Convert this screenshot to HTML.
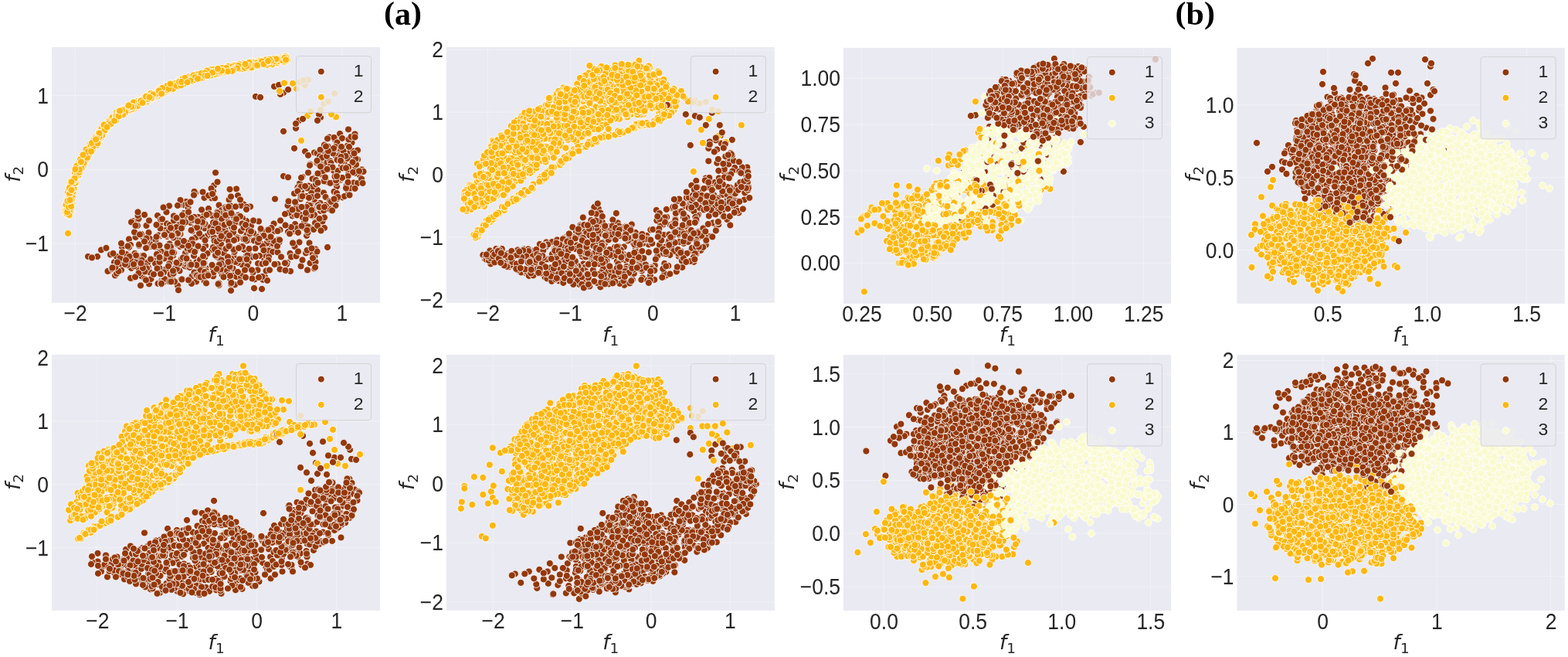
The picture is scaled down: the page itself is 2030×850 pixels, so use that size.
<!DOCTYPE html>
<html lang="en"><head><meta charset="utf-8"><title>Scatter plots</title>
<style>
html,body{margin:0;padding:0;background:#fff}
body{width:2030px;height:850px;overflow:hidden}
svg{display:block}
.bg{fill:#eaeaf2}
.grid{stroke:#fff;stroke-opacity:.35;stroke-width:1;fill:none}
.tick text{font-family:"Liberation Sans",Arial,sans-serif;font-size:26.5px;fill:#262626}
.lt{font-family:"Liberation Sans",Arial,sans-serif;font-size:23px;fill:#262626}
.lab{font-family:"DejaVu Sans",sans-serif;font-size:26.3px;fill:#262626}
.it{font-style:italic}
.sub{font-size:18.4px}
.ttl{font-family:"Liberation Serif","Times New Roman",serif;font-weight:bold;font-size:42px;fill:#000}
.leg{fill:#eaeaf2;fill-opacity:.8;stroke:#ccc;stroke-opacity:.8;stroke-width:1}
.p path{fill:none;stroke:none}
.m{stroke:#fff;stroke-width:1.7}
.lm{stroke:#fff;stroke-width:1}
.b{marker:url(#mb)}.y{marker:url(#my)}.l{marker:url(#ml)}
</style></head><body>
<svg width="2030" height="850" viewBox="0 0 2030 850">
<defs>
<marker id="mb" markerUnits="userSpaceOnUse" markerWidth="24" markerHeight="24" refX="12" refY="12" viewBox="0 0 24 24"><circle class="m" cx="12" cy="12" r="9.05" fill="#93380c"/></marker>
<marker id="my" markerUnits="userSpaceOnUse" markerWidth="24" markerHeight="24" refX="12" refY="12" viewBox="0 0 24 24"><circle class="m" cx="12" cy="12" r="9.05" fill="#fdb70f"/></marker>
<marker id="ml" markerUnits="userSpaceOnUse" markerWidth="24" markerHeight="24" refX="12" refY="12" viewBox="0 0 24 24"><circle class="m" cx="12" cy="12" r="9.05" fill="#fafad0"/></marker>
</defs>
<g class="ttl"><text transform="translate(497 29.7) scale(1 .938)">(</text><text x="511" y="32">a</text><text transform="translate(532 29.7) scale(1 .938)">)</text></g>
<g class="ttl"><text transform="translate(1521.5 29.7) scale(1 .938)">(</text><text x="1535.5" y="32">b</text><text transform="translate(1558.9 29.7) scale(1 .938)">)</text></g>
<g id="panel1">
<rect class="bg" x="67" y="60.9" width="425.1" height="330.9"/>
<path class="grid" d="M97.4 60.9V391.8M212.4 60.9V391.8M327.5 60.9V391.8M442.5 60.9V391.8M67 123.6H492.1M67 219.3H492.1M67 315H492.1"/>
<clipPath id="c0"><rect x="67" y="60.9" width="425.1" height="330.9"/></clipPath>
<g class="p" clip-path="url(#c0)"><g transform="translate(67 60.9) scale(.5)">
<path class="y" d="M329 101 152 197 111 244 314 105 634 108 265 125 132 226 296 106 176 173 76 289 314 107 231 139 586 31 296 103 406 61 524 38 224 140 399 69 72 295 308 109 53 350 123 219 600 30 230 140 570 36 326 89 43 396 511 44 210 147 120 237 285 120 463 58 43 435 416 66 243 138 265 129 211 144 87 287 87 273"/>
<path class="b" d="M770 274 739 235 287 485 206 572 651 466 226 574 333 484 437 502 628 262 628 476 398 570 669 303 718 411 298 457 275 531 395 433 394 542 641 505 772 252 493 563 376 492 472 498 415 524 279 525 313 527 372 527 498 524 591 473 460 580 182 517 775 366 283 590 333 470 274 436 625 472 768 318 788 315 773 238 372 493"/>
<path class="y" d="M52 347 169 175 308 94 195 163 77 287 496 48 601 33 88 288 298 101 176 164 187 161 101 260 403 71 174 178 410 71 45 410 72 318 289 117 102 270 434 69 554 37 50 382 281 108 135 205 297 103 117 254 154 197 530 40 179 171 408 70"/>
<path class="b" d="M680 273 684 410 310 527 239 560 379 440 369 541 254 496 513 481 700 331 772 250 665 359 624 434 196 545 615 469 623 437 427 469 327 500 768 374 418 518 306 460 645 567 524 624 600 118 200 497 334 407 792 291 420 358 237 492 576 524 463 601 746 224 630 458 256 516 433 409 704 258 269 500 483 435 348 400 247 556 251 570 758 303 773 287 568 477 785 299 326 486 414 391 787 297 468 591"/>
<path class="y" d="M134 206 255 124 481 47 73 316 607 24 42 432 380 73 59 358 559 41 459 57 122 243 453 53 57 349 429 61 355 83 374 70 546 46 212 158 327 98 215 151 93 286 450 53 584 41 428 63 115 245 520 51 73 303 343 94 736 181 604 24 315 103 300 107 535 48 63 327 472 54 88 275 62 328"/>
<path class="b" d="M252 613 483 591 696 182 436 554 439 540 394 461 636 469 296 532 280 457 336 462 234 540 671 408 612 110 213 567 233 593 189 547 628 433 444 477 482 558 328 556 565 480 417 490 669 559 394 492 468 570 730 320 629 516 373 596 251 480 585 562 549 545 558 547 201 541 493 459 615 425 470 439 286 607 713 349 750 310 397 543 642 433"/>
<path class="y" d="M72 312 54 389 50 396 129 213 87 274 370 72 491 43 128 218 301 107 276 113 80 299 202 165 477 54 325 91 370 82 70 315 656 99 296 101 392 65 217 152 604 32 123 219 141 214 150 195 598 32 64 318 242 143 177 169 216 150 78 289 394 79 337 87 512 43 216 150 39 431 543 43 338 89 82 281 219 152"/>
<path class="b" d="M340 558 680 573 152 537 577 476 347 568 363 611 545 511 459 395 703 276 467 469 395 605 296 574 342 430 274 542 215 451 579 512 458 466 782 351 696 424 551 488 695 404 418 593 212 450 489 440 372 377 393 562 315 471 332 516 398 514 482 493 458 506 217 492 313 601 618 425 428 427 399 572 162 557 708 273 680 438"/>
<path class="y" d="M53 381 40 408 310 100 36 420 351 86 472 46 114 249 40 402 724 174 557 36 662 178 164 189 50 405 336 88 397 75 88 293 51 412 571 40 84 283 46 360 448 65 140 213 499 48 61 319 69 303 670 166 402 61 189 172 260 134 127 215 428 64 177 164 47 355 375 82 416 60 436 58 180 169 358 86 41 428"/>
<path class="b" d="M719 419 418 373 741 320 479 493 375 556 381 449 562 487 527 521 470 522 781 269 777 247 565 523 552 595 282 446 304 411 422 445 280 489 164 591 350 435 667 389 771 367 746 273 765 288 172 554 468 471 654 450 266 515 484 453 294 474 168 586 180 577 390 572 706 303 576 102 449 474 325 566 403 488 474 615 479 497"/>
<path class="y" d="M410 65 54 386 276 121 427 65 222 140 181 167 157 189 71 306 62 350 432 65 126 213 38 421 45 366 247 141 529 47 387 74 543 47 439 55 132 227 453 62 253 126 60 335 318 104 366 85 167 170 165 181 552 35 405 62 401 76 296 104 310 98 435 62 45 391 534 44 217 151 129 212 253 136"/>
<path class="b" d="M736 384 798 331 684 370 270 543 738 393 260 588 585 476 426 570 464 434 735 281 415 467 740 263 230 617 437 519 536 451 363 498 464 630 552 538 803 317 344 409 403 534 774 365 489 516 681 338 149 579 256 511 230 559 797 331 614 429 611 410 413 485 719 233 433 611 440 422 612 478 702 468 560 520 376 581 617 534 406 418 297 427"/>
<path class="y" d="M583 43 545 45 536 38 447 56 404 74 436 62 344 86 329 96 47 363 480 55 36 423 61 329 475 47 115 233 50 402 53 389 576 34 521 50 92 266 505 52 52 401 82 281 132 217 487 54 581 41 274 121 109 250 515 45 539 42 642 91 49 424 40 433 395 73 392 75 546 39 277 118 495 48 290 107 512 39 182 173 185 166 208 158"/>
<path class="b" d="M363 593 369 583 616 483 687 275 497 407 738 361 534 560 429 349 704 377 672 375 756 275 705 347 784 312 713 298 658 461 642 353 469 573 542 475 399 579 369 374 514 413 374 607 736 255 236 563 340 507 437 456 478 594 769 326 729 267 446 449 289 415 696 328 674 533 344 448 381 592 680 417"/>
<path class="y" d="M459 58 153 201 363 88 74 303 68 303 51 375 38 404 148 203 311 94 568 41 598 31 60 336 451 56 96 270 262 125 129 212 512 46 68 331 70 299 603 25 336 91 263 122 63 352 309 101 499 50 276 114 157 193 453 53 278 110 576 37 347 89 88 284 482 56 132 223 664 85 274 116 45 396 213 151 93 279 704 147"/>
<path class="b" d="M753 389 511 538 353 415 468 464 785 326 634 412 695 288 464 613 272 541 346 533 331 579 667 507 516 463 504 450 528 541 389 491 733 239 206 599 568 496 458 497 658 533 274 522 737 351 436 431 215 534 470 479 532 491 618 580 328 483 792 352 766 255 572 508 396 469 662 577 356 557 444 475 494 443 656 270"/>
<path class="y" d="M76 292 600 36 547 44 606 27 154 199 97 263 86 288 536 37 279 114 584 36 209 159 40 424 108 246 50 403 449 54 606 25 357 82 122 246 570 38 413 58 471 48 86 286 83 296 515 40 345 87 42 431 51 375 284 114 53 364 457 50 506 51 195 159 214 159 153 185 150 194 326 91 276 126 548 35 79 286 121 241 520 43 123 225 571 35"/>
<path class="b" d="M545 561 604 432 176 561 223 447 478 367 266 554 692 174 385 577 257 600 620 466 501 492 498 590 592 122 382 467 428 543 340 459 680 394 465 610 305 509 695 266 783 293 226 514 688 413 538 540 337 450 718 269 693 299 758 386 449 415 771 383 424 325 496 460 423 573 446 534 306 553"/>
<path class="y" d="M256 134 420 68 515 48 137 220 393 74 241 140 383 80 410 69 236 134 49 397 48 398 509 41 535 36 173 170 600 34 42 406 520 42 304 98 404 74 192 162 472 48 214 153 119 238 122 243 83 304 74 310 128 234 431 59 162 191 43 406 551 36 555 33 446 54 37 430 356 76 387 76 646 242 250 133 44 396 436 68"/>
<path class="b" d="M443 448 382 482 397 458 413 366 750 307 493 456 461 573 430 566 449 589 204 512 725 351 426 495 94 542 688 370 158 570 247 502 457 458 316 449 319 573 490 410 411 472 665 407 505 486 640 190 548 483 273 534 331 556 238 540 344 566 504 540 433 517 173 545 433 616 481 440 422 391 576 458 205 552 683 556"/>
<path class="y" d="M138 216 249 133 533 47 46 375 51 367 53 398 126 231 138 201 377 70 355 77 144 204 505 43 87 275 605 24 268 120 126 231 602 28 55 374 600 37 80 285 37 428 430 66 338 90 87 278 85 292 508 55 175 179 358 86 348 81 98 262 87 276 116 236 282 113"/>
<path class="b" d="M509 557 548 526 435 548 330 460 683 523 241 600 471 542 254 583 807 322 471 527 432 576 690 409 415 436 561 526 763 359 334 602 301 604 354 518 314 540 650 186 664 465 512 499 533 577 249 569 676 361 229 562 308 517 577 562 214 479 455 493 490 595 735 410 488 609 204 598 283 529 227 557 368 536 307 545 706 320 168 542 505 414 330 409 709 388 316 532 687 462"/>
<path class="y" d="M107 246 263 129 505 49 203 160 141 210 371 84 467 51 339 82 412 71 112 246 368 85 453 60 213 156 137 210 118 242 393 74 439 62 141 214 50 347 126 217 49 409 200 150 280 116 209 151 341 93 270 125 408 67 49 364 112 246 206 150 439 61 241 130 203 156 569 36 510 41 262 131 170 180 40 415"/>
<path class="b" d="M493 457 384 550 226 511 353 406 681 541 664 325 221 553 748 344 565 527 359 454 323 484 581 525 458 453 284 605 770 258 660 488 668 410 473 530 646 374 346 453 713 272 688 327 461 515 454 497 308 486 726 423 244 603 333 396 196 564 145 580 369 440 173 580 233 551 243 499 676 470 613 399 687 300 663 480 364 449 448 550"/>
<path class="y" d="M423 62 132 208 394 72 443 58 399 66 408 66 81 291 580 30 450 56 41 393 422 68 362 77 573 39 167 189 350 85 212 145 269 120 208 157 40 419 74 293 538 45 398 70 471 59 84 297 136 202 99 252 46 360 320 101 559 46 101 261 56 355 409 67 52 401 78 304 74 319 385 77 63 351"/>
<path class="b" d="M346 561 299 490 687 529 291 547 353 526 268 560 307 597 304 561 276 533 504 420 198 538 420 493 392 541 373 590 702 321 532 501 441 589 476 556 330 501 367 447 587 498 694 283 391 456 444 551 494 587 575 457 245 495 156 574 357 570 675 437 471 524 411 466 522 481 637 363 364 476 762 365 520 543 689 327 721 352 635 435 700 417"/>
<path class="y" d="M91 272 324 94 122 234 330 89 392 77 579 32 40 411 344 93 134 214 538 36 494 43 64 327 296 115 472 56 491 53 495 56 114 234 428 56 255 123 411 73 42 375 716 141 248 131 374 78 485 56 88 291 404 74 455 56 47 409 312 102 180 172 403 64 204 163 473 55 126 223"/>
<path class="b" d="M751 297 279 572 787 311 326 617 525 601 248 558 341 555 337 602 741 320 221 540 684 355 328 558 362 612 369 469 275 612 641 366 636 373 165 569 588 98 118 542 463 411 660 414 278 542 490 476 632 210 375 564 320 495 559 473 683 457 678 472 507 498 445 564 316 437 277 487 418 454 302 486 650 441 325 510 731 234 497 467 752 236 754 313 376 591"/>
<path class="y" d="M108 255 382 75 392 73 120 243 48 360 307 105 358 86 305 103 145 209 539 38 380 80 126 218 201 149 248 127 286 114 195 158 607 28 578 35 147 192 67 331 329 99 360 84 187 165 83 300 566 35 487 44 380 70 57 366 391 67 126 236 44 402 44 392 211 147 300 107 300 107 419 66 48 406 278 118 499 51 353 87 193 160 46 399"/>
<path class="b" d="M452 427 528 128 407 431 351 507 600 334 644 393 335 559 351 521 739 247 452 417 610 558 292 482 104 545 788 304 232 484 337 601 396 582 748 264 289 609 464 387 557 507 281 469 620 543 361 442 540 130 680 434 439 551 339 453 358 564 524 501 647 463 434 578 185 545 393 563 456 582 731 374"/>
<path class="y" d="M259 120 199 163 324 93 129 211 40 432 343 89 48 425 230 138 601 39 540 34 508 48 237 143 50 417 208 156 417 65 249 127 310 108 48 371 431 61 135 205 360 85 57 341 215 154 208 158 348 88 115 247 157 182 46 410 395 70 93 262 473 58 340 93 294 104 166 176 37 408 288 115 102 267 269 128 60 343"/>
<path class="b" d="M269 513 661 526 555 579 728 275 780 324 361 563 787 289 256 549 218 539 338 435 323 466 632 198 748 341 673 388 465 548 395 390 395 559 639 419 359 525 701 451 452 441 338 513 406 384 661 365 552 478 222 462 243 567 440 444 664 280 391 444 390 453 286 445 246 573 721 295 482 384 417 571 547 602 591 575 676 546"/>
<path class="y" d="M583 29 381 78 57 353 418 58 173 174 343 80 142 207 392 75 166 180 146 205 542 46 230 145 215 145 132 223 166 180 572 34 103 257 92 273 564 36 590 114 422 68 46 436 343 85 212 143 324 92 257 132 435 66 48 404 97 261 108 242 609 36 223 152 119 247 602 29 424 70 308 96 149 202 122 237 115 248 436 56 149 193"/>
<path class="b" d="M307 588 241 581 421 501 200 518 767 334 284 609 769 239 438 509 290 486 688 385 326 410 359 401 439 560 315 493 710 409 494 516 447 460 775 232 734 258 461 368 326 482 433 477 458 453 225 585 714 237 453 482 381 595 693 306 752 338 193 536 336 469 753 313 326 507 264 588 592 449 561 497 385 595"/>
<path class="y" d="M571 33 98 260 175 166 89 265 256 120 248 132 96 278 526 40 491 46 342 81 301 112 597 27 77 313 45 419 174 170 610 33 493 51 97 277 610 34 51 397 583 40 208 160 545 45 355 89 115 240 148 197 283 121 69 331 389 80 73 324 384 81 411 64 499 47 402 61 226 142 440 55"/>
<path class="b" d="M313 487 292 600 128 525 284 614 688 190 309 486 668 306 159 534 715 257 700 286 739 292 419 471 281 546 456 516 401 434 247 519 605 461 304 475 438 575 226 437 671 435 424 539 558 493 660 435 206 453 429 429 706 468 720 398 410 479 333 556 779 298 465 464 646 361 446 495 755 269 424 456 271 460 279 513 342 502 400 611 368 383 419 583"/>
<path class="y" d="M295 102 45 434 607 34 282 107 316 94 602 39 72 319 332 95 483 48 127 226 596 30 105 266 139 217 583 40 285 113 47 420 44 368 325 99 139 215 394 73 288 106 307 109 252 131 600 28 240 137 602 93 49 399 263 128 166 185 453 60 230 138 200 157 509 52 122 233 732 120 67 316 418 65"/>
<path class="b" d="M507 539 324 574 463 423 513 483 558 604 510 474 491 549 761 282 649 551 563 527 628 379 302 567 682 455 368 540 290 583 578 393 549 488 454 579 630 401 572 530 458 502 768 310 723 400 546 515 736 345 245 462 141 520 292 486 675 341 376 467 623 421 177 546 298 535 475 453 354 603 657 445 305 607 434 563 658 429 486 549 684 344"/>
<path class="y" d="M312 96 586 36 310 105 421 65 48 375 42 482 431 68 541 36 129 221 565 33 60 322 346 93 65 307 443 62 95 281 74 291 530 41 101 255 280 119 267 127 97 268 60 326 423 62 61 351 449 59 570 45 330 88 367 73 40 427 271 124 145 207 205 156 64 330 59 346 433 65 605 36 576 30 508 51 44 413 387 68 56 346"/>
<path class="b" d="M422 523 704 423 318 607 738 378 785 366 484 520 488 438 541 470 589 505 608 562 712 282 637 373 714 518 241 434 427 574 569 468 461 568 730 262 311 488 561 473 785 225 450 435 309 607 649 336 240 434 645 386 354 427 391 375 749 284 562 543 388 421 225 444 723 300 716 316 170 557 365 509 463 554"/>
<path class="y" d="M137 215 538 43 296 103 371 78 272 121 524 51 564 43 483 48 441 54 190 169 577 36 607 27 145 204 66 318 43 400 177 165 43 403 158 193 306 106 62 335 480 55 562 38 71 324 46 380 54 345 327 99 456 59 452 54 283 116 92 286 326 102"/>
<path class="b" d="M460 456 330 560 506 567 792 267 783 275 273 573 688 462 182 531 472 467 458 413 404 588 217 462 197 515 521 583 336 548 692 414 633 541 544 626 456 543 457 590 392 522 720 310 244 520 265 516 460 487 673 422 427 503 427 435 354 514 750 258 328 629 741 388 361 474 733 335 585 531 646 338 445 595 660 386 624 507 697 475 500 577 451 522 706 253 511 522 762 313 436 496 576 502"/>
<path class="y" d="M599 30 93 271 439 66 604 37 522 47 184 175 135 201 108 256 314 108 102 270 696 162 130 229 117 236 431 56 119 249 532 49 241 129 397 67 153 199 57 340 44 414 176 168 237 141 596 34 340 81 300 103 323 100 444 62 258 125 345 80 299 111 259 132 230 145 562 37 500 54 378 82 438 64 584 31 299 100 59 340 604 30 125 226 544 37 606 33 104 248"/>
<path class="b" d="M647 414 190 562 396 593 600 218 519 599 223 436 689 351 476 413 545 594 457 556 767 350 299 516 468 435 561 551 312 531 478 445 661 474 796 321 687 294 488 395 252 449 584 515 240 503 323 558 708 337 212 562 567 491 534 505 216 595 465 430 594 543 430 532 315 586"/>
<path class="y" d="M122 222 123 233 43 395 470 59 397 74 517 53 75 299 46 364 210 155 528 47 285 106 50 412 467 62 206 154 76 297 603 28 173 179 182 163 343 95 334 99 274 120 508 41 532 47 231 139 549 44 262 123 416 66 606 33 456 63 652 86 52 370 51 349 162 191 51 370 511 40 581 31 624 94 285 118 568 35"/>
<path class="b" d="M308 468 379 515 459 515 528 542 314 579 505 549 802 341 340 545 518 577 272 536 416 380 805 352 554 559 279 556 716 269 537 496 201 542 236 572 502 596 673 521 439 489 501 501 549 526 693 414 228 485 472 500 502 460 768 213 696 309 638 529 522 449 271 491 192 551 710 257 738 334 727 311 649 386 706 441 748 294"/>
<path class="y" d="M303 108 235 144 46 397 72 317 257 132 51 395 123 223 143 207 245 126 119 249 286 106 199 151 81 279 278 113 41 398 47 396 440 61 117 237 330 90 509 48 250 134 244 128 564 32 403 74 307 95 253 130 182 163 430 56 176 165 505 49 61 316 359 87 560 36 336 90 501 44 114 239 351 91 284 121"/>
<path class="b" d="M516 477 393 559 370 530 656 360 666 390 279 544 682 570 283 588 415 564 405 591 431 470 497 497 431 613 482 582 706 414 416 478 378 451 349 547 536 596 693 444 231 559 282 587 713 316 505 501 157 571 731 393 590 499 564 577 605 578 462 592 638 480 785 233 604 559 284 612 323 442 501 497 612 337 397 500 223 427 180 508"/>
</g></g>
<rect class="leg" x="383.5" y="72.6" width="97" height="73.1" rx="3.5"/>
<circle class="lm" cx="415.8" cy="92.6" r="4.45" fill="#93380c"/>
<text class="lt" transform="translate(457.8 98.5) scale(1 .96)">1</text>
<circle class="lm" cx="415.8" cy="125.7" r="4.45" fill="#fdb70f"/>
<text class="lt" transform="translate(457.8 131.6) scale(1 .96)">2</text>
<g class="tick" text-anchor="middle">
<text transform="translate(97.7 415.3) scale(1 1.085)">−2</text>
<text transform="translate(212.8 415.3) scale(1 1.085)">−1</text>
<text transform="translate(327.8 415.3) scale(1 1.085)">0</text>
<text transform="translate(442.8 415.3) scale(1 1.085)">1</text>
</g>
<g class="tick" text-anchor="end">
<text transform="translate(63.1 133.6) scale(1 1.085)">1</text>
<text transform="translate(63.1 229.3) scale(1 1.085)">0</text>
<text transform="translate(63.1 325) scale(1 1.085)">−1</text>
</g>
<text class="lab" text-anchor="middle" x="280.1" y="442.4"><tspan class="it">f</tspan><tspan class="sub" dy="4.6">1</tspan></text>
<text class="lab" text-anchor="middle" transform="translate(25.6 225.2) rotate(-90)"><tspan class="it">f</tspan><tspan class="sub" dy="4.6">2</tspan></text>
</g>
<g id="panel2">
<rect class="bg" x="577.8" y="60.9" width="425.1" height="330.9"/>
<path class="grid" d="M631.6 60.9V391.8M738.3 60.9V391.8M845 60.9V391.8M951.7 60.9V391.8M577.8 64.4H1002.9M577.8 145.2H1002.9M577.8 226H1002.9M577.8 306.8H1002.9M577.8 387.6H1002.9"/>
<clipPath id="c1"><rect x="577.8" y="60.9" width="425.1" height="330.9"/></clipPath>
<g class="p" clip-path="url(#c1)"><g transform="translate(577.8 60.9) scale(.5)">
<path class="y" d="M186 252 156 365 511 158 183 232 354 140 127 356 229 247 60 359 272 214 415 103 189 330 104 281 247 342 125 264 435 138 205 269 437 47 340 230 103 460 244 227 213 294 127 334 578 134 206 189 497 205 497 197 56 398 632 138 387 160 181 391 305 286 175 257 80 359 182 190 447 223 79 402 332 159 449 144 444 66 475 46 563 103 374 119 219 277 334 214 317 129 460 55 226 296 296 179 118 262 384 202 556 123 508 136"/>
<path class="b" d="M394 533 727 390 747 312 736 397 306 556 376 544 506 505 206 585 580 460 712 249 723 328 371 506 690 350 465 552 407 544 430 585 435 523 715 382 602 486 466 485 490 519 571 440 565 594 346 474 399 443 379 504 710 229 540 565 381 469 659 526 448 536 687 412 547 540 529 473 100 548 243 558 641 556 255 512 367 480 586 417 487 579 325 544 718 321 644 178"/>
<path class="y" d="M330 265 454 120 451 93 51 377 180 239 200 253 462 60 498 200 80 349 209 374 155 289 334 128 400 57 344 103 408 119 490 133 166 325 278 155 502 169 365 70 576 178 501 102 483 165 467 91 123 444 55 409 122 439 380 244 129 271 456 75 167 353 99 362 179 396 407 235 224 360 204 244 167 399 388 94 514 168 259 184 764 202 148 418 531 101 527 52 281 129 543 192 401 231 366 203 355 133 330 214 304 121 110 369 378 209 104 355 81 491 306 126 155 411 293 302"/>
<path class="b" d="M444 455 487 537 687 397 248 559 194 583 619 411 459 485 700 464 158 556 294 519 149 534 625 383 355 561 415 472 496 552 379 536 416 562 435 581 352 542 719 371 479 586 740 240 346 482 565 560 728 299 162 569 360 621 575 504 347 523 600 427 672 339 717 439 282 560 414 525 672 512 714 425 663 399 741 321"/>
<path class="y" d="M185 242 465 111 175 242 84 343 165 220 120 242 319 109 76 369 573 159 201 304 198 300 502 116 582 122 255 214 510 174 415 164 225 305 177 311 218 247 52 370 464 85 187 387 139 266 98 461 391 186 125 443 183 270 166 288 125 308 337 113 417 104 169 343 260 186 316 151 241 283 199 203 337 228 511 96 510 203 448 174 451 168 206 277 260 205 300 204 526 71 532 132 427 92 397 189 205 235 423 87 576 149 402 144 551 97 312 127 549 63 245 232 503 163 323 144 303 105 315 217 157 364 423 128"/>
<path class="b" d="M480 459 605 527 95 538 319 520 524 531 314 511 176 567 602 542 274 536 462 490 654 492 460 517 508 597 296 545 736 274 553 489 627 481 692 428 442 483 529 501 741 366 499 487 303 566 606 474 652 478 622 481 615 508 433 585 235 570 347 461 647 535 561 444 757 429 755 358"/>
<path class="y" d="M368 100 247 339 104 347 533 158 530 76 211 285 466 119 76 493 644 138 550 116 386 204 424 228 117 380 285 141 468 139 345 211 380 97 413 123 412 88 109 371 137 357 151 309 359 121 378 243 386 198 89 411 456 115 196 226 108 379 324 142 147 241 443 116 48 375 363 133 303 298 262 198 448 152 488 209 282 240 313 111 471 97 282 213 172 297 369 71 346 256 324 231 158 334 466 132 225 318 278 220 254 153 227 285 570 173 85 410 380 78 409 165 538 199 500 197"/>
<path class="b" d="M646 515 255 595 628 416 282 579 491 505 669 493 421 465 731 303 136 552 596 581 416 553 291 605 568 517 490 536 295 554 363 566 295 575 604 472 609 470 398 585 380 515 487 545 727 367 381 534 436 518 286 544 328 554 649 523 492 530 701 401 300 593 588 456 323 522 438 498 423 535 231 586 271 585 435 471"/>
<path class="y" d="M596 139 381 172 191 219 120 446 472 47 399 117 269 256 516 127 357 158 151 301 203 370 74 392 195 179 526 125 243 242 440 78 181 346 542 194 256 337 317 287 164 319 522 65 403 149 189 291 305 141 549 88 384 172 514 54 259 295 167 353 445 151 462 71 531 89 164 269 314 213 374 212 351 184 514 113 87 480 445 150 162 293 512 141 479 166 497 60 391 190 116 302 181 398 159 254 230 220 335 269 401 50 241 180 312 282 369 67 272 195 255 330 536 199 297 242 155 409 116 351 123 268"/>
<path class="b" d="M337 493 229 588 608 529 754 357 552 512 561 460 102 544 571 590 410 508 566 532 115 561 693 383 727 381 279 521 379 550 354 441 763 366 393 478 504 544 465 464 201 523 104 550 688 170 696 362 604 504 480 546 524 511 413 581 716 412 461 537 617 487 214 554 280 522 609 551 312 597"/>
<path class="y" d="M232 189 515 120 87 393 229 263 140 242 502 203 489 207 169 305 170 351 543 120 244 341 315 280 214 306 401 187 77 411 272 161 413 227 148 231 392 105 151 415 129 336 390 195 160 300 315 240 514 138 539 190 437 148 178 284 223 284 448 186 368 105 394 63 116 256 559 147 351 256 140 346 160 312 223 167 373 144 220 210 548 122 400 165 251 156 423 97 258 150 310 184 141 247 329 135 551 169 106 285 554 164 487 210 156 251 457 219 114 314 204 318 142 325"/>
<path class="b" d="M259 505 421 540 289 514 317 526 623 556 733 339 726 399 346 587 467 541 484 508 366 509 772 395 400 473 314 489 708 202 583 518 535 472 698 241 779 311 506 579 777 333 783 362 633 527 363 608 483 571 406 573 363 511 149 559 727 446 664 369 502 536 424 468 484 498 636 520 113 527 575 566 349 608 136 556 407 480"/>
<path class="y" d="M162 234 212 218 297 248 306 161 368 110 282 175 193 185 498 125 144 414 355 118 224 366 704 166 450 152 165 346 214 237 204 306 417 230 453 164 251 265 153 259 204 316 280 220 438 69 200 337 416 231 249 228 363 127 242 158 114 452 505 102 218 288 277 239 447 219 210 254 117 350 415 99 96 302 462 142 317 182 448 155 307 213 656 146 503 79 482 87 55 405 265 260 137 351 480 154 349 121 271 239 196 272 204 294 83 411 253 274 295 305 191 238 209 314 476 111 163 225 460 132"/>
<path class="b" d="M389 458 681 338 593 445 496 497 200 528 460 467 349 535 362 585 110 552 653 434 650 436 394 418 307 532 399 429 467 568 361 607 413 499 227 527 635 384 330 573 482 602 542 549 185 529 170 558 611 570 626 494 683 490 144 536 301 518 539 602 752 398 690 455 689 491 486 586 623 534 415 492"/>
<path class="y" d="M589 108 640 142 489 42 348 80 219 226 385 88 363 84 473 107 573 127 492 152 369 89 498 66 116 362 510 84 608 114 110 446 53 424 500 202 199 184 95 464 559 145 275 313 104 449 286 161 388 92 336 189 527 116 724 246 416 201 185 261 145 359 335 179 488 58 310 188 177 290 505 126 168 215 98 412 202 191 76 366 595 132 234 241 565 169 433 155 478 174 470 171 254 164 413 78 535 75 470 171 437 105 132 367 306 204 180 249 450 70 216 316 117 371 215 373 306 132 546 140 245 196 407 128 169 267"/>
<path class="b" d="M647 495 780 350 764 319 644 534 107 540 688 365 316 493 450 522 769 320 493 547 766 311 245 518 129 522 737 404 261 599 742 384 612 405 121 532 359 478 554 463 635 496 490 480 719 438 300 529 703 391 671 390 323 511 390 491 759 322 335 594 532 570 370 561 722 251"/>
<path class="y" d="M202 236 200 383 588 164 407 154 61 356 166 287 178 339 553 112 396 145 380 241 296 112 309 107 270 214 158 227 370 205 68 372 369 246 168 241 175 393 200 288 48 388 64 357 417 79 293 183 514 92 89 304 140 374 518 140 120 446 178 398 199 205 171 288 576 172 564 117 123 347 274 202 341 188 88 397 445 140 407 195 283 228 373 119 485 207 266 165 464 49 527 105 441 181 409 146 273 271 433 56 479 207 560 94 131 384 338 120 263 149 359 167 233 183 395 107 188 195"/>
<path class="b" d="M419 582 473 579 208 582 705 459 665 469 273 606 354 500 585 463 501 574 289 588 679 262 147 536 631 401 384 517 487 489 272 574 201 543 402 483 565 586 369 591 648 505 328 592 623 441 385 532 199 532 519 488 505 602 684 413 680 437 626 504 420 499 647 346 477 470 521 604 334 491 734 363 599 525"/>
<path class="y" d="M508 65 383 57 493 105 428 182 506 140 149 375 562 109 268 263 286 121 443 223 448 225 406 119 249 289 84 372 626 141 246 335 271 198 397 188 139 429 387 122 234 170 499 88 640 322 339 147 76 406 131 336 409 111 483 204 505 96 218 310 401 132 250 217 455 128 107 453 433 163 433 153 142 372 529 84 425 167 498 150 160 359 352 161 529 144 377 251 184 386 553 191 442 131 436 126 130 301 382 174 558 113 291 114 86 472 255 237 483 53 433 103 138 257"/>
<path class="b" d="M282 525 599 398 136 524 551 470 258 512 509 508 265 578 431 532 411 486 258 517 650 380 265 549 446 517 393 505 140 546 446 575 166 564 469 574 280 549 458 545 661 384 336 476 594 430 356 588 566 441 701 395 470 548 609 425 121 547 461 616 346 493 375 448 344 614 763 326 700 404 431 447 274 504 357 497 485 576"/>
<path class="y" d="M229 213 136 313 407 183 150 422 533 141 278 311 247 344 443 74 215 259 90 475 564 154 188 276 243 225 121 280 277 245 588 166 151 380 375 210 493 49 672 142 589 163 200 196 152 346 339 95 500 148 86 481 343 235 288 197 468 182 377 73 465 110 64 420 318 115 560 138 108 390 78 367 398 165 183 391 453 159 408 152 583 163 119 390 411 114 391 84 267 258 172 247 49 397 374 87 150 240 244 223 136 431 248 167 113 389"/>
<path class="b" d="M376 545 399 621 348 509 733 288 728 362 406 459 684 386 507 563 127 544 324 518 248 543 390 610 212 523 283 518 220 576 780 350 312 550 359 570 421 603 344 569 360 579 395 561 561 574 737 329 229 566 773 377 467 483 490 489 677 395 466 574 291 558 263 511 566 536 600 534 326 558 209 554 450 488 287 499 544 527 703 412 361 514 735 461 242 529"/>
<path class="y" d="M164 231 149 261 288 154 473 122 319 177 183 262 294 255 491 200 585 132 140 291 195 329 205 315 260 172 124 303 267 138 384 117 704 230 401 101 259 329 353 109 211 374 524 49 143 321 65 359 505 198 80 482 483 77 505 174 475 81 122 245 396 150 458 221 299 125 104 371 490 44 473 68 210 214 508 87 143 310 47 383 260 284 146 248 235 222 336 231 94 407 547 183 469 81 227 178 422 66 527 107 142 263 396 151 325 183 407 106 278 156"/>
<path class="b" d="M447 463 532 573 352 604 303 495 348 517 781 370 506 548 260 549 308 586 296 507 348 464 587 414 395 536 394 546 114 546 620 463 334 495 630 396 744 294 470 501 697 411 183 531 125 557 301 604 377 556 766 353 696 350 478 540 213 528 566 453 376 584 592 506 415 551 648 449 670 490 686 422 388 547 171 556 283 601 559 596 317 579"/>
<path class="y" d="M93 296 162 309 146 367 354 205 588 128 208 183 96 460 191 226 173 392 128 299 316 159 397 106 499 35 90 358 391 160 225 355 481 160 588 131 464 48 364 120 386 119 245 348 216 187 336 150 365 254 565 181 233 275 197 269 215 205 330 160 426 113 117 257 466 79 297 120 582 164 92 393 135 354 535 117 261 199 205 219 337 245 360 226 511 197 355 130 214 262 183 312 199 198 491 97 309 261 258 257 552 134"/>
<path class="b" d="M610 553 507 484 516 563 285 544 240 542 305 502 518 499 349 577 706 339 302 497 272 548 318 580 386 487 271 571 638 484 252 545 562 534 161 534 413 542 357 460 614 440 614 503 218 587 603 393 224 541 686 382 251 526 563 486 159 544 577 501 635 420 401 583 303 513 311 588 423 524 210 584 729 418 588 483 451 471 702 453 635 397 214 592 734 393 402 507 411 555"/>
<path class="y" d="M487 71 261 287 503 203 125 255 329 194 293 241 217 326 316 195 516 201 213 315 251 180 521 56 102 459 470 160 170 241 539 95 541 157 229 231 233 313 259 337 570 98 375 155 358 259 272 172 126 438 234 177 243 295 189 336 100 345 516 157 144 275 80 302 178 273 374 199 350 126 446 92 165 352 139 309 220 281 292 172 377 183 208 325 347 190 324 112 430 73 378 128 550 126 221 362 509 122 520 198 391 212 254 218 164 339 269 223 442 103 307 141 500 59 260 259 312 221 151 267"/>
<path class="b" d="M400 461 338 513 617 458 231 556 429 479 273 585 782 365 199 541 748 379 182 561 505 574 404 453 303 610 271 593 425 488 756 370 165 536 452 525 665 518 345 483 228 576 614 546 485 549 324 604 393 475 306 549 311 586 539 578 479 568 341 567 431 579 698 475 318 590 144 522 487 543 390 496"/>
<path class="y" d="M437 143 529 143 141 274 411 95 440 113 366 91 95 403 660 214 268 131 193 286 132 294 291 248 127 345 473 62 374 112 581 112 303 225 336 170 298 121 469 181 324 274 284 264 430 121 145 239 71 379 387 155 190 325 87 473 263 217 427 61 180 267 597 127 96 462 484 206 372 173 284 235 338 108 145 350 316 180 116 266 485 135 51 382 127 305 492 170 581 125 581 151 591 118 249 261 101 329 507 169 351 117 506 69 495 175 408 70 247 166 56 407 375 164 404 202"/>
<path class="b" d="M429 607 461 602 593 448 467 496 589 528 406 517 427 591 656 416 569 567 364 590 106 541 381 514 347 591 528 591 403 514 618 445 383 414 368 530 285 518 421 613 334 522 718 405 349 511 522 497 641 425 744 411 713 364 518 571 312 505 577 512 734 374 361 543 392 405 319 518 165 538 673 500 340 604 471 493"/>
<path class="y" d="M355 90 330 239 247 181 457 113 543 155 106 399 131 270 489 46 265 321 172 360 225 234 422 121 512 167 111 378 519 196 483 115 571 172 206 245 243 238 563 123 443 115 171 399 119 288 259 325 266 172 418 174 540 73 322 121 544 188 254 278 502 68 133 371 525 201 63 407 257 297 126 353 188 382 224 255 558 86 583 170 383 106 454 91 400 70 151 415 469 155 306 186 435 164 361 181 171 307 550 184 437 226 392 89 518 102 127 359 457 46 159 403 330 167 367 223"/>
<path class="b" d="M511 546 428 485 244 586 607 483 342 479 533 508 314 520 678 458 747 398 720 316 371 536 761 350 622 390 427 576 359 531 104 537 389 468 442 554 612 461 515 497 715 373 363 481 360 533 529 499 316 527 333 566 375 469 333 573 437 481 561 523 185 525 121 541 734 401 289 520 371 559 646 408 628 389 371 487"/>
<path class="y" d="M92 326 96 291 312 117 569 177 455 80 87 326 90 360 63 403 469 154 254 334 551 150 300 299 494 168 546 99 189 388 385 103 437 130 328 149 133 240 360 73 473 77 351 80 90 365 203 170 534 129 482 79 569 173 407 158 155 269 84 481 548 183 362 257 335 272 399 140 376 136 122 368 363 116 243 344 182 257 466 154 277 254 447 94 117 440 688 162 158 336 374 214 294 119 442 115 505 115 162 350 270 266 193 346"/>
<path class="b" d="M749 411 410 468 453 549 334 554 242 510 354 494 244 585 550 481 380 559 701 265 679 252 442 517 557 500 465 473 368 597 351 595 278 573 458 599 720 337 309 555 657 394 389 459 449 612 747 402 249 540 635 415 286 598 640 544 138 526 682 245 361 532 233 524 628 458 316 549 544 422 487 511 169 528 327 466 459 605 667 421 379 498 448 593 259 586 632 554"/>
<path class="y" d="M286 206 472 127 394 57 253 342 376 166 187 391 218 247 481 163 235 240 56 379 213 286 486 88 242 341 313 204 416 183 142 229 132 336 343 261 450 53 140 255 120 382 511 139 273 311 221 283 182 391 53 419 437 227 563 84 307 174 371 48 238 251 400 157 403 235 107 335 544 136 406 174 101 384 412 68 144 365 388 133 245 230 241 347 391 88 526 74 299 299 492 161 158 369 197 381 195 208 272 326 374 207 264 169 405 233 489 147 168 329 343 110 457 99 415 201"/>
<path class="b" d="M365 587 682 252 600 524 754 424 217 552 370 470 592 413 663 483 579 538 701 300 759 400 394 588 498 544 474 538 528 603 661 488 125 536 467 466 396 450 679 363 383 606 771 347 178 540 293 511 698 401 694 271 225 591 324 520 207 541 219 570 184 577 686 400 313 503 463 580 487 532 151 538 204 575 621 556"/>
<path class="y" d="M241 348 255 339 354 105 105 356 383 212 453 86 362 258 572 178 236 228 116 300 306 285 124 438 110 339 224 259 503 74 254 286 233 267 373 206 151 414 371 145 162 293 475 212 503 51 286 183 394 64 506 200 297 295 179 300 390 116 323 137 468 175 134 369 183 293 46 392 184 394 364 190 594 153 287 134 561 93 83 333 294 130 441 113 223 171 351 232 216 319 95 304 491 112 368 172 113 373 226 167 309 127 281 239 429 154 182 332 116 395 504 198 493 125 397 235 534 104 122 389 471 46"/>
<path class="b" d="M181 574 409 596 342 471 545 449 195 544 716 355 430 463 785 390 235 536 585 493 601 483 585 464 405 558 643 549 615 483 524 610 366 534 593 457 635 358 440 590 337 577 414 485 299 585 688 370 233 551 645 440 257 569 698 235 285 507 355 503 638 384 701 356 183 538 656 182 705 361"/>
<path class="y" d="M261 213 569 103 323 233 82 474 175 223 109 358 556 145 454 44 397 60 238 161 109 392 616 130 171 301 559 137 278 249 365 195 591 141 212 373 518 55 128 369 460 165 332 112 157 267 449 138 389 82 199 334 160 312 346 80 503 99 382 83 406 93 228 227 528 95 254 330 536 107 208 289 341 258 215 285 528 151 63 365 119 282 448 132 135 327 181 394 325 183 255 291"/>
<path class="b" d="M703 407 781 324 388 432 779 341 304 568 642 369 404 438 371 619 437 581 500 567 318 483 758 297 675 385 167 545 241 541 704 422 647 446 634 474 618 489 718 261 598 569 430 541 388 520 477 474 507 528 387 449 134 528 425 538 352 500 734 438 423 567 679 295 650 362 690 389 465 485 216 553 473 584 438 468 401 609 620 174 445 561 322 506 577 485 481 572 670 345 704 290 312 540 708 347 408 589 329 614"/>
<path class="y" d="M477 105 223 286 613 127 202 215 126 385 402 159 274 167 439 138 98 281 333 269 133 428 271 262 420 232 102 461 483 64 143 312 294 216 339 138 549 152 495 50 236 288 245 257 564 161 249 274 218 179 238 212 418 110 597 124 425 119 122 392 182 299 481 208 499 163 78 483 108 330 293 156 338 270 310 289 389 246 336 131 296 122 505 152 122 354 204 292 207 231 488 79 403 86 168 204 158 220 71 486 450 217 223 245 336 221 439 185 680 186 331 206 434 63 174 224 432 81 430 184 549 156 560 175 425 190 401 93 356 88"/>
<path class="b" d="M732 339 442 572 459 588 199 526 239 546 569 535 529 580 351 614 434 596 646 517 704 452 356 623 446 582 632 495 380 486 492 507 723 283 437 607 494 571 368 614 712 402 327 544 136 547 310 594 705 320 740 280 446 541 651 481 448 473 614 431 630 455"/>
<path class="y" d="M87 332 537 71 533 125 439 144 368 188 76 392 286 173 312 235 69 361 162 260 419 163 381 193 465 174 559 184 112 443 297 225 278 286 366 216 368 169 577 177 440 145 194 378 554 131 287 217 429 72 437 54 514 129 265 214 78 482 159 406 348 195 336 222 342 224 379 72 522 107 252 268 185 305 187 332 310 159 176 195 415 53 91 379 198 329 366 252 170 325 466 77 213 173 357 128 369 224 401 81 576 133 292 223 339 270 106 272 420 212 91 339 446 132"/>
<path class="b" d="M679 350 475 611 639 392 706 426 306 598 782 334 654 517 644 387 672 202 380 577 632 254 363 517 441 539 320 587 344 587 462 594 579 587 569 530 548 491 219 585 671 477 411 463 445 484 457 541 401 593 671 404 503 500 345 516 283 531 572 150 281 527 646 383 323 567 194 555 440 430 712 416 376 429 415 532 738 277"/>
<path class="y" d="M549 188 144 233 535 200 135 360 407 78 145 306 386 244 221 364 400 209 122 439 468 121 343 269 135 276 251 225 128 380 77 332 127 251 524 128 102 302 289 205 409 88 141 301 482 209 246 215 586 113 563 154 333 142 135 429 278 205 403 164 394 213 538 108 513 165 357 100 189 271 90 335 472 150 223 206 384 238 148 312 183 208 436 126 394 174 150 326 210 242 119 318 421 134 507 197 215 165 327 276 359 224 445 217 308 229 101 338 236 196 442 85 471 92 207 271 92 474 172 318 319 216 286 271"/>
<path class="b" d="M552 445 292 528 189 529 452 534 717 302 453 544 401 549 506 500 449 569 776 365 768 419 366 588 368 562 644 454 384 587 607 532 324 561 552 430 212 558 336 579 445 529 242 574 157 568 764 362 622 375 591 479 150 565 282 562 252 514 192 572 641 482 365 506 463 495 734 371"/>
<path class="y" d="M471 216 450 132 197 264 86 309 557 152 427 138 234 305 125 376 129 433 125 262 390 61 88 328 73 414 43 420 148 383 117 272 266 132 96 336 499 144 75 488 145 275 628 194 192 235 543 134 417 176 366 127 227 203 126 259 449 220 440 162 436 143 370 119 174 209 229 190 109 447 367 222 354 170 423 140 205 208 664 248 443 75 564 174 551 67 174 328 312 108 397 120 292 144 428 137 245 180"/>
<path class="b" d="M674 418 649 509 586 488 239 584 581 492 216 556 547 438 411 613 593 479 346 529 507 492 384 562 667 366 570 420 501 511 431 611 320 605 220 576 714 221 397 524 741 405 380 452 366 461 482 556 412 488 746 428 697 433 142 533 479 605 250 514 141 558 730 279 648 363 297 535 590 394"/>
</g></g>
<rect class="leg" x="894.3" y="72.6" width="97" height="73.1" rx="3.5"/>
<circle class="lm" cx="926.6" cy="92.6" r="4.45" fill="#93380c"/>
<text class="lt" transform="translate(968.6 98.5) scale(1 .96)">1</text>
<circle class="lm" cx="926.6" cy="125.7" r="4.45" fill="#fdb70f"/>
<text class="lt" transform="translate(968.6 131.6) scale(1 .96)">2</text>
<g class="tick" text-anchor="middle">
<text transform="translate(631.9 415.3) scale(1 1.085)">−2</text>
<text transform="translate(738.6 415.3) scale(1 1.085)">−1</text>
<text transform="translate(845.3 415.3) scale(1 1.085)">0</text>
<text transform="translate(952 415.3) scale(1 1.085)">1</text>
</g>
<g class="tick" text-anchor="end">
<text transform="translate(573.9 74.4) scale(1 1.085)">2</text>
<text transform="translate(573.9 155.2) scale(1 1.085)">1</text>
<text transform="translate(573.9 236) scale(1 1.085)">0</text>
<text transform="translate(573.9 316.8) scale(1 1.085)">−1</text>
<text transform="translate(573.9 397.6) scale(1 1.085)">−2</text>
</g>
<text class="lab" text-anchor="middle" x="790.8" y="442.4"><tspan class="it">f</tspan><tspan class="sub" dy="4.6">1</tspan></text>
<text class="lab" text-anchor="middle" transform="translate(536.4 225.2) rotate(-90)"><tspan class="it">f</tspan><tspan class="sub" dy="4.6">2</tspan></text>
</g>
<g id="panel3">
<rect class="bg" x="1091.9" y="61.9" width="424.2" height="330.9"/>
<path class="grid" d="M1115.6 61.9V392.8M1206.8 61.9V392.8M1298 61.9V392.8M1389.2 61.9V392.8M1480.4 61.9V392.8M1091.9 101.3H1516.1M1091.9 161.1H1516.1M1091.9 220.8H1516.1M1091.9 280.6H1516.1M1091.9 340.3H1516.1"/>
<clipPath id="c2"><rect x="1091.9" y="61.9" width="424.2" height="330.9"/></clipPath>
<g class="p" clip-path="url(#c2)"><g transform="translate(1091.9 61.9) scale(.5)">
<path class="y" d="M265 403 112 408 342 385 311 486 303 348 354 435 299 413 182 445 340 449 418 439 209 468 389 381 292 427 267 502 177 492 331 434 423 417 158 406 69 420 149 508 140 518 417 288 242 464 293 400 169 469 246 402 258 412 366 421 232 392 167 401 334 405 343 272 184 489 372 402"/>
<path class="b" d="M400 154 373 140 428 322 482 197 606 55 449 71 502 102 615 150 494 142 412 82 528 223 453 168 555 152 321 317 522 74 480 323 555 194 432 117 362 334 392 245 502 73 412 146 484 214 515 55 586 183 500 55 475 68 494 244 535 220 552 215 421 135 486 102 430 86 511 87 514 245 595 67 523 124 510 252 620 103 595 162 492 266 565 157 515 82"/>
<path class="l" d="M582 296 582 296"/>
<path class="y" d="M189 530 419 315 152 439 406 494 505 333 483 276 166 461 183 499 251 441 238 518 294 365 144 452 166 418 383 385 146 530 341 432 62 460 222 454 535 365 149 428 288 404 389 393 285 336 37 478 213 418 198 471 244 468 184 544 119 463 304 288 244 419 298 483 176 498 166 424 306 274"/>
<path class="b" d="M592 62 378 291 624 112 374 296 446 139 333 314 446 288 601 200 558 192 444 177 632 85 543 80 505 72 492 243 365 316 534 147 378 204 581 162 498 231 430 264 627 120 426 101 412 176 497 147 642 124 463 124 464 185 499 217 594 163 318 324 397 111 454 93 398 116 397 151 574 128 552 63 534 204 491 150 446 326 571 42 469 114"/>
<path class="l" d="M366 126 170 400 242 318"/>
<path class="y" d="M214 379 202 490 308 420 408 391 352 327 51 437 251 349 385 472 243 534 306 361 210 396 381 417 488 257 471 326 152 503 179 555 269 427 121 490 140 531 461 390 141 404 326 441 365 290 365 430 418 451 227 521 407 298 507 331 301 360 242 504 432 442"/>
<path class="b" d="M477 174 566 182 500 48 504 218 508 247 427 268 418 261 600 68 513 96 493 142 557 138 511 235 517 80 455 75 570 320 402 159 416 88 420 119 493 147 590 192 416 212 500 245 448 152 597 79 545 48 483 209 348 293 634 106 542 80 486 242 442 102 592 194 452 197 416 99 518 75 521 221 526 67 404 147 422 84 638 100 505 80 405 138 546 28"/>
<path class="y" d="M272 304 157 526 357 368 462 248 175 403 243 485 231 530 280 301 303 350 256 356 174 529 332 377 407 426 520 350 170 358 171 541 232 423 293 447 405 418 295 418 449 339 218 398 275 417 221 435 229 365 420 294 373 473 274 352 159 432 81 454 367 442 262 408 334 449 175 398 502 321 189 389 47 440"/>
<path class="b" d="M470 116 613 132 455 157 511 247 564 193 470 103 585 208 438 274 492 175 551 177 498 95 483 217 808 30 502 204 515 170 612 62 420 82 504 66 430 105 431 158 573 168 555 120 608 48 537 215 378 120 505 58 394 372 471 160 391 175 521 146 614 155 517 273 543 203 559 170 654 116 527 106 478 102 592 103 525 127 457 174"/>
<path class="l" d="M368 288 472 411 403 344 474 388 411 373 352 355 275 397 529 281 361 237 378 281"/>
<path class="y" d="M409 413 343 442 45 470 179 550 512 367 188 460 434 330 206 488 355 462 278 375 253 503 134 421 426 385 388 299 237 365 371 431 299 338 283 457 301 428 113 467 396 315 127 516 184 430 240 351 347 410 377 427 409 442 430 432 166 560 355 314 177 446 316 491 233 485"/>
<path class="b" d="M449 269 490 150 565 188 523 243 398 350 569 69 510 181 513 177 570 108 549 70 596 60 443 90 636 75 571 63 512 232 627 120 383 128 556 245 443 355 446 316 623 55 543 74 414 256 489 153 573 77 622 121 515 164 435 182 536 217 482 155 510 252 611 68 502 48 468 115"/>
<path class="l" d="M406 367 371 409 324 326 507 235 373 317 493 261 371 269 321 318 550 184 357 260 337 313 509 217 252 406 376 417 495 253 374 213 459 336 440 291 459 395 367 219 396 219 426 328 411 320 495 263 384 332 287 351 527 323 369 435 422 303 369 262 303 443 406 415"/>
<path class="y" d="M387 254 271 512 277 492 320 416 308 466 177 447 166 494 154 464 431 415 142 486 169 461 444 432 551 280 312 352 257 519 357 447 218 490 230 475 140 515 346 436 227 536 229 368 324 364 156 402 112 500 205 517"/>
<path class="b" d="M399 307 463 155 439 111 545 156 468 103 442 333 390 331 470 316 556 80 449 304 395 157 510 295 532 201 514 47 351 304 497 154 508 164 515 217 502 292"/>
<path class="l" d="M564 300 265 373 533 336 328 295 470 250 502 309 362 406 537 229 216 419 450 360 266 393 438 268 507 332 244 436 586 251 373 221 264 398 583 251 431 356 238 400 382 317 196 423 372 257 287 324 270 350 349 383 381 283 432 327 399 375 401 221 464 219 300 336 480 371 479 266 255 442"/>
<path class="y" d="M152 480 277 487 336 347 167 474 159 551 258 483 500 315 266 459 169 493 308 368 312 351 222 476 391 375 193 466 172 395 287 415 208 386 520 297 217 499 172 431 386 451 142 493"/>
<path class="b" d="M570 54 398 300 533 67 431 171 416 95 489 79 427 330 342 174 545 47 465 179 646 120 528 192 472 199 492 113 453 204 434 299 414 229 490 89 524 144 621 119"/>
<path class="l" d="M378 410 302 352 243 450 415 242 487 404 430 349 534 230 440 395 523 323 335 356 311 409 509 295 452 270 307 362 297 379 480 416 422 278 335 396 450 373 569 276 349 429 335 355 504 359 286 373 286 361 391 278 360 282"/>
<path class="y" d="M387 427 250 515 250 357 213 540 142 507 348 431 253 504 247 474 405 405 204 468 301 462 198 496 136 380 345 431 314 439 131 477 409 458 243 418 233 543 200 390 282 294 216 379 315 481 291 374"/>
<path class="b" d="M435 288 483 150 409 131 378 178 338 331 549 190 402 102 549 253 515 186 535 257 475 101 421 185 442 93 459 315 518 114 559 80 598 98 519 69 595 209 546 169 623 127 384 154 380 158 581 86 392 354 516 183"/>
<path class="l" d="M300 408 331 300 477 244 519 348 235 418 414 96 372 408 472 384 473 305 439 362 346 391 590 243 505 397 459 229 386 259 392 343 578 300 320 295 479 252 237 402 398 310 482 280 552 275 427 209 216 312 450 253 470 343 354 324 388 244 536 283 502 331 517 320 322 345 515 322 444 415 394 341 454 343 333 258 377 350"/>
<path class="y" d="M245 521 232 413 313 464 114 402 410 308 107 463 266 388 400 281 383 219 395 413 259 490 334 439 189 463 252 442 213 548 428 356 113 419"/>
<path class="b" d="M430 167 365 310 355 312 405 192 554 99 507 176 604 106 560 151 510 340 662 116 575 65 633 109 521 206 484 284 603 136 613 125 410 106 445 162 428 328 553 135 534 161"/>
<path class="l" d="M532 343 243 409 417 281 496 310 308 366 464 268 287 323 367 426 304 435 448 321 339 407 382 300 326 277 250 420 449 277 481 359 528 336 509 271 480 243 323 394 336 364 536 308 407 280 222 422 329 412 481 330 455 290 459 311 260 374 482 264 373 326 388 391 389 368 225 415"/>
<path class="y" d="M421 249 307 434 331 440 91 418 156 557 418 412 166 411 274 462 343 414 402 417 325 438 227 448 283 370 194 534 260 509 121 504 390 423 267 347 147 470 396 247 292 343 274 276 153 549 250 393"/>
<path class="b" d="M469 255 515 222 616 104 426 342 463 81 565 159 312 320 578 80 430 317 436 160 410 186 435 130 373 353 441 116 586 182 532 176 532 54 429 201 462 149"/>
<path class="l" d="M543 318 302 439 465 218 289 410 462 261 493 300 530 275 495 376 378 269 431 275 493 263 309 334 522 304 477 258 378 348 438 398 583 262 566 287 441 389 345 370 446 250 400 202 564 254 289 384 559 268 485 294 498 348 393 315 471 267 455 319 306 328 459 320 481 407"/>
<path class="y" d="M249 472 54 631 362 440 115 419 347 404 423 400 349 219 363 223 243 417 157 442 141 412 315 265 319 471 233 441 365 455 292 373"/>
<path class="b" d="M433 139 554 127 525 62 538 209 586 159 590 176 618 87 455 197 532 118 495 83 432 178 466 168 608 133 480 134 513 223 578 71 446 112 522 248 583 111 519 153 527 183 536 144 511 86 549 64 404 142 522 92 401 291 602 152"/>
<path class="l" d="M391 318 451 269 313 282 525 317 303 350 492 334 346 281 551 236 450 261 294 351 437 224 561 278 328 293 392 379 294 389 408 215 496 336 422 257 550 236 582 284 244 404 409 216 480 257 557 271 419 213 325 362 429 219 360 257 492 294 405 320"/>
<path class="y" d="M294 494 131 491 314 368 421 428 282 468 214 451 302 463 141 444 196 484 191 484 187 438 233 437 240 437 471 385 413 433 253 397 348 453 137 506 199 418 342 335 376 385 197 424 269 489 196 409 271 285 204 446 205 509"/>
<path class="b" d="M528 121 458 181 421 168 513 46 511 124 415 104 541 192 366 320 447 131 593 99 579 89 374 159 500 59 482 99 582 77 494 139 489 198 515 145 521 141 616 51"/>
<path class="l" d="M350 334 543 294 383 396 406 272 495 248 406 399 322 398 397 400 466 248 487 294 417 340 322 316 498 269 472 374 416 229 301 396 359 380 469 338 437 281 409 212 436 353 226 452 472 373 516 248 416 240 507 382 272 437 550 258"/>
<path class="y" d="M158 489 167 388 371 438 355 433 245 357 164 409 150 503 176 509 176 488 181 538 252 416 144 557 188 501 268 412 404 436 138 460 211 525 135 436 402 488 296 303 103 436 235 359 387 399 139 410 167 447"/>
<path class="b" d="M409 133 593 198 375 234 390 266 338 327 600 127 461 122 473 168 439 161 388 174 471 107 519 204 440 155 476 147 429 127 599 169 521 118 523 68 388 383 528 276 462 59 425 153 418 192 607 78"/>
<path class="l" d="M579 256 517 244 389 275 244 360 414 230 278 387 453 269 541 282 485 322 499 349 214 438 369 338 459 447 282 438 499 298 295 376 250 377 430 310 360 307 543 315 456 252 566 277 246 457 514 316 331 381 194 453 351 369 450 336 275 409 350 277 480 296 420 220 375 278 372 219 399 354 462 277 252 397 430 240 388 343"/>
<path class="y" d="M308 444 449 337 121 413 174 393 201 454 327 364 130 447 140 446 202 534 435 406 333 427 278 389 291 383 226 475 188 410 276 355 295 376 409 435 317 367 436 276 334 303 386 462"/>
<path class="b" d="M589 140 639 102 564 206 429 110 569 72 374 181 566 76 577 98 478 67 544 102 572 160 493 52 528 93 579 161 477 146 477 92"/>
<path class="l" d="M452 356 289 443 409 211 349 284 354 394 258 396 415 225 219 434 581 296 413 312 438 341 554 284 352 250 566 270 452 221 331 388 353 353 308 428 415 248 220 418 435 356 413 307 504 372 359 330"/>
<path class="y" d="M71 421 327 376 141 408 246 503 254 398 267 449 114 449 133 481 202 521 316 461 422 247 409 279 166 459 128 524 342 139 392 427 524 359 269 387 157 507 169 485 238 539 265 402 358 348 416 427 292 456 214 407 288 366 288 293"/>
<path class="b" d="M622 204 444 205 475 162 381 112 512 248 518 103 410 86 510 184 487 188 386 406 596 134 417 154 466 113 369 148 432 161 613 86 478 155 493 102 598 181 574 202 540 212 491 67 416 116 553 211 541 240"/>
<path class="l" d="M444 400 225 448 271 356 338 417 522 323 488 340 317 362 354 348 340 293 492 282 290 381 527 317 368 257 491 333 502 325 378 368 468 239 359 330 405 231 293 367 405 247 285 355 286 413 501 364 289 330 526 269 275 372 367 410"/>
<path class="y" d="M250 358 46 443 243 415 250 517 341 314 315 449 136 401 297 345 189 537 208 547 285 505 320 363 144 487 361 417 169 432 233 458 185 382 234 539 164 441 243 418 152 510 100 402"/>
<path class="b" d="M493 104 535 180 477 109 578 205 494 138 556 221 344 377 449 167 517 153 511 179 476 188 391 283 624 61 462 260 454 147 478 228 573 112 354 362 541 50 368 367 441 144 579 180 511 77 507 142 535 204 595 160 444 141"/>
<path class="l" d="M475 275 463 221 475 350 338 324 529 255 528 235 462 390 441 339 343 366 461 329 411 275 342 381 500 366 326 298 527 238 489 324 246 432 359 289 489 367 248 442 468 281 478 418 406 267 335 377 505 327 432 378 389 206 397 312 339 386 518 132 344 258 343 316 529 300 352 360 526 314 320 405 361 377 494 385 235 416"/>
<path class="y" d="M288 471 509 347 313 407 288 398 431 368 171 525 356 220 416 468 136 523 434 458 463 308 373 419 170 391 475 251 435 442"/>
<path class="b" d="M602 80 556 239 394 102 424 94 515 155 372 139 361 364 519 202 467 245 424 158 554 106 480 203 411 254 427 92 477 118 378 169 493 108 424 90 595 182 420 141 531 53 546 89 568 92"/>
<path class="l" d="M490 289 497 236 352 312 348 353 382 301 578 282 363 396 421 260 287 383 358 168 281 374 497 387 298 445 464 392 377 299 310 359 419 254 316 345 350 329 263 399 472 227 445 393 364 385 421 273 341 277 356 311 490 227 416 397 407 374 420 292 348 385 505 369"/>
<path class="y" d="M351 375 283 481 245 387 307 447 356 272 363 356 62 433 362 447 412 440 275 411 151 482 409 473 151 498 317 459 189 464 292 414 214 449 311 481 455 408 319 348"/>
<path class="b" d="M438 308 468 192 524 55 445 202 492 67 418 130 396 124 597 51 529 44 415 372 520 156 547 147 486 158 499 117 611 146 568 162 384 125 466 320 390 143 626 126 522 269 545 233 507 114 634 89 470 171"/>
<path class="l" d="M488 275 290 331 557 283 503 245 445 321 350 403 429 283 489 374 514 271 472 284 232 421 325 321 430 407 505 322 385 333 529 321 442 307 377 400 432 281 423 413 252 425 223 444 622 224 433 280 370 450 429 244 525 250 317 323 348 276 404 244 460 385 290 388 259 422"/>
<path class="y" d="M381 390 340 403 337 443 218 457 283 407 259 477 360 438 185 528 237 516 219 426 213 476 285 463 161 492 169 480 409 294 237 460 330 457 178 390 269 412 332 430 191 382"/>
<path class="b" d="M541 102 435 171 609 58 451 324 422 150 486 204 444 268 549 140 543 108 273 420 499 218 443 212 566 94 475 114 494 62 539 155 578 191 501 216 418 98 513 239 540 208 461 59 518 175"/>
<path class="l" d="M578 272 481 249 522 264 545 313 558 309 359 293 282 442 367 435 335 295 421 257 403 349 316 350 224 427 280 335 384 224 487 268 516 352 298 416 494 376 493 244 557 298 350 376 370 384 277 368 506 272 278 412 223 419 316 335 410 396 540 236 510 291 540 237 453 280 513 290 573 273"/>
<path class="y" d="M326 450 268 359 159 474 374 382 252 481 453 448 181 510 163 528 354 256 120 521 370 367 267 513 424 382 232 472 271 428 337 450"/>
<path class="b" d="M440 203 492 81 559 195 567 48 368 416 460 59 549 49 416 200 472 145 499 237 442 92 611 184 358 384 516 233 597 180 477 143 358 370 552 101 474 180 549 42 575 146 592 190 330 176 494 94 379 134 531 103"/>
<path class="l" d="M303 366 513 281 335 288 320 408 369 245 340 268 554 239 457 381 361 249 255 447 314 311 444 357 387 393 535 338 384 345 391 338 524 270 335 283 389 260 511 303 311 326 533 349 366 218 490 282 296 354"/>
<path class="y" d="M311 267 73 413 148 557 423 463 417 405 204 499 191 435 235 417 507 318 259 431 353 210 365 386 193 420 199 428 286 401 453 346 421 409"/>
<path class="b" d="M466 103 611 196 380 354 506 88 508 44 586 52 627 102 634 84 530 233 502 162 503 143 458 85 545 194 390 135 428 126 504 200 529 79 604 100 551 167 566 81 440 212 524 119 535 104 526 109 436 166 516 133 431 141 522 139 449 65 460 71 302 439 576 133 606 151 516 54 583 121"/>
<path class="l" d="M315 352 430 248 545 311 408 244 531 318 412 351 443 388 379 378 322 416 452 370 272 377 473 271 432 346 552 296 242 418 367 305 475 223 458 359 297 426 340 413 350 303 359 256 507 347 355 346 510 287 414 249 358 323 469 394 499 393 536 267 349 394 443 264 491 367 330 302 356 325"/>
<path class="y" d="M264 407 311 417 399 398 283 511 247 383 506 275 357 232 192 367 182 559 240 532 380 426 380 424 152 556 402 430 129 491 330 362 138 356 165 558 354 382 205 424 367 426 453 400 205 472"/>
<path class="b" d="M546 152 597 139 386 126 588 47 434 160 454 298 393 141 373 295 567 161 498 199 429 190 555 139 523 221 414 252 510 77 506 82 416 169 589 166 489 68"/>
<path class="l" d="M376 393 507 286 422 316 414 299 572 247 212 447 426 381 326 333 498 252 369 390 230 440 222 444 442 282 491 240 419 376 366 394 352 257 429 325 577 292 467 314 450 389 391 265 527 324 440 419 238 417 284 412 402 249 502 244 232 388 463 235 307 435 375 255 417 300 425 285 414 357 434 255"/>
<path class="y" d="M301 276 266 480 407 386 79 418 325 477 157 436 265 463 149 431 251 355 218 513 200 501 348 446 289 435 369 464 288 432 95 461"/>
<path class="b" d="M473 211 351 368 401 196 614 244 567 67 593 117 487 62 563 131 504 293 435 302 417 227 556 55 424 138 501 223 428 156 570 74 397 181 517 41 437 93 604 136 557 89 614 196 579 147 345 343 468 154"/>
<path class="l" d="M389 310 395 284 363 268 352 398 263 393 546 245 496 381 482 383 474 228 220 411 354 407 375 290 368 235 270 396 401 321 291 439 551 236 390 325 266 446 360 328 453 294"/>
<path class="y" d="M260 489 266 430 162 524 211 500 341 354 47 472 168 562 345 359 185 416 343 372 278 523 235 531 466 295 246 292 115 469 269 410 81 419 381 292 324 460 421 467 305 423 173 460 219 457 135 455 193 420"/>
<path class="b" d="M567 198 412 154 565 188 591 126 510 132 617 51 384 365 572 53 420 109 518 189 515 195 516 240 470 168 528 160 443 188 476 61 600 68 492 230 541 147 462 78 381 134"/>
</g></g>
<rect class="leg" x="1407.5" y="73.6" width="97" height="106.2" rx="3.5"/>
<circle class="lm" cx="1439.8" cy="93.6" r="4.45" fill="#93380c"/>
<text class="lt" transform="translate(1481.8 99.5) scale(1 .96)">1</text>
<circle class="lm" cx="1439.8" cy="126.7" r="4.45" fill="#fdb70f"/>
<text class="lt" transform="translate(1481.8 132.6) scale(1 .96)">2</text>
<circle class="lm" cx="1439.8" cy="159.8" r="4.45" fill="#fafad0"/>
<text class="lt" transform="translate(1481.8 165.7) scale(1 .96)">3</text>
<g class="tick" text-anchor="middle">
<text transform="translate(1115.9 416.3) scale(1 1.085)">0.25</text>
<text transform="translate(1207.1 416.3) scale(1 1.085)">0.50</text>
<text transform="translate(1298.3 416.3) scale(1 1.085)">0.75</text>
<text transform="translate(1389.5 416.3) scale(1 1.085)">1.00</text>
<text transform="translate(1480.7 416.3) scale(1 1.085)">1.25</text>
</g>
<g class="tick" text-anchor="end">
<text transform="translate(1088 111.3) scale(1 1.085)">1.00</text>
<text transform="translate(1088 171.1) scale(1 1.085)">0.75</text>
<text transform="translate(1088 230.8) scale(1 1.085)">0.50</text>
<text transform="translate(1088 290.6) scale(1 1.085)">0.25</text>
<text transform="translate(1088 350.3) scale(1 1.085)">0.00</text>
</g>
<text class="lab" text-anchor="middle" x="1304.5" y="442.4"><tspan class="it">f</tspan><tspan class="sub" dy="4.6">1</tspan></text>
<text class="lab" text-anchor="middle" transform="translate(1029.1 225.2) rotate(-90)"><tspan class="it">f</tspan><tspan class="sub" dy="4.6">2</tspan></text>
</g>
<g id="panel4">
<rect class="bg" x="1601.5" y="61.9" width="424.2" height="330.9"/>
<path class="grid" d="M1718.9 61.9V392.8M1847.6 61.9V392.8M1976.3 61.9V392.8M1601.5 135.7H2025.7M1601.5 229.6H2025.7M1601.5 323.5H2025.7"/>
<clipPath id="c3"><rect x="1601.5" y="61.9" width="424.2" height="330.9"/></clipPath>
<g class="p" clip-path="url(#c3)"><g transform="translate(1601.5 61.9) scale(.5)">
<path class="l" d="M641 344 671 281 542 329 676 343 576 326 315 316 404 332 496 466 708 377 541 273 537 317 388 390 568 454 388 387 520 243 594 322 648 222 366 406 494 275 601 400 439 457 518 403 527 472 491 360 598 284 499 444 583 397 711 302 545 405 424 289 693 310 654 368 635 222 637 256 583 235 635 348 492 358 500 380 547 390 593 421 627 223 488 316 655 395 550 458 583 454 676 378 498 321 623 312 596 362 532 412 500 265 680 363"/>
<path class="y" d="M326 468 262 486 269 530 250 430 209 545 308 536 108 455 157 453 336 568 179 480 226 440 193 562 92 458 72 512 194 450 168 452 329 451 178 557 76 516 187 515 257 520 257 526 144 522 273 630 88 489 102 524 239 506 304 592 171 549 248 572 77 515 333 485 300 495"/>
<path class="b" d="M284 374 189 342 348 151 402 406 143 292 242 170 211 164 411 177 292 160 252 304 405 238 170 322 342 269 205 163 228 311 273 294 347 247 449 249 259 284 117 294 296 321 493 92 310 255 282 305 384 103 190 189 490 207 434 198 293 330 359 372 315 246 302 178 326 396 383 257 304 412 152 274 225 206 161 229 399 64 324 230 183 179 368 285 168 341 175 343 334 221 159 329 416 279 282 178 365 235 265 164 303 415 191 368 372 357 248 411 290 175 187 195 269 202 301 442 400 272 380 330 428 277 275 150 293 419 348 368 219 392"/>
<path class="l" d="M672 308 450 313 576 368 542 459 468 276 600 298 695 325 516 251 628 402 475 439 499 302 339 456 606 283 373 360 497 390 616 383 700 423 484 460 641 345 617 249 668 280 709 269 540 269 397 323 527 233 626 371 652 426 488 459 531 263 443 358 582 218 473 277 533 460 633 236 682 374 453 296 729 321 536 247 662 337 751 340 700 363 529 227 424 362 460 385 563 403 575 415 712 286 633 418"/>
<path class="y" d="M314 536 192 459 300 467 265 575 301 505 342 545 314 576 349 535 180 584 165 461 166 565 81 544 237 562 407 494 326 446 264 572 171 580 228 435 358 466 227 474 304 502 231 442 87 596 159 458 174 522 375 553 249 524 157 469 131 491 138 438 239 428 118 494 156 456 211 423 264 494 252 497 196 590 164 518 296 534 251 499 115 446"/>
<path class="b" d="M304 259 402 307 254 233 361 450 438 166 164 316 371 140 159 302 330 224 376 133 478 129 336 401 260 131 300 237 398 250 307 84 309 148 506 224 386 173 248 353 277 433 294 236 251 378 419 500 237 164 364 238 143 276 341 340 309 310 293 168 176 269 355 393 268 337 420 281 270 249 297 251 324 386 263 192 197 363 390 357 155 257 290 326 357 335 291 166 286 353 200 249 297 190 329 399 248 378 327 216 365 342 374 333 215 306 406 185 186 285 322 304 290 158 219 394 343 172 355 132 296 212"/>
<path class="l" d="M565 455 638 282 608 295 474 279 660 406 550 321 686 369 488 295 575 283 414 384 791 356 437 363 472 393 671 355 427 386 550 258 739 394 604 267 508 307 600 322 563 281 477 270 477 395 524 293 489 378 678 379 809 364 424 327 511 348 431 322 673 305 464 263 658 316 483 316 696 307 729 324 586 399 431 407 493 317 680 294 512 436 561 379 488 240 706 275 603 366 466 313 558 473 376 318 523 373 685 339"/>
<path class="y" d="M289 421 344 598 311 514 337 457 377 508 253 515 298 536 344 459 194 407 45 472 142 512 89 547 170 519 300 528 63 535 345 505 213 502 85 456 366 499 354 568 163 490 317 471 260 593 198 442 170 458 259 460 369 495 394 471 190 422 349 489 280 564 288 612 346 459 162 519 292 481 133 468 185 473 296 596 79 523 224 511 162 423 156 578 239 434 329 454 328 502 325 556 273 532 223 429 159 420"/>
<path class="b" d="M387 233 176 211 233 203 216 357 302 269 397 237 380 204 367 364 245 383 239 206 340 177 337 325 389 301 179 294 309 259 355 400 153 188 442 160 250 418 361 155 272 397 157 284 481 252 253 116 341 350 382 162 444 177 305 335 240 398 386 339 238 428 263 323 454 172 205 172 306 137 230 381 189 232 339 406 463 231 169 342 336 164 221 94 285 410 303 68 232 347 274 341 282 151 343 383 405 319 357 322 306 243"/>
<path class="l" d="M673 431 718 297 408 385 629 352 725 316 494 272 528 298 595 406 497 388 453 397 577 321 655 445 389 314 660 392 519 378 453 307 441 348 456 319 416 280 469 418 576 464 450 349 462 321 657 403 646 237 457 374 639 239 515 274 533 441 604 363 583 385 643 324 606 307 505 378 622 233 624 429 613 249 459 363 657 407 574 281"/>
<path class="y" d="M202 550 294 517 302 573 227 484 188 587 317 556 341 563 126 453 118 554 171 449 137 441 148 467 365 611 347 471 198 548 47 456 384 488 283 480 388 489 276 513 115 527 331 498 311 518 195 516 354 475 252 441 354 483 225 561 270 445 46 470 170 527 174 560 170 464 296 568 354 466 248 518 283 509 250 485 171 431 308 434 111 542"/>
<path class="b" d="M324 403 341 265 387 376 382 189 385 237 433 178 152 336 437 254 298 282 312 326 276 212 314 151 228 326 388 279 361 449 325 292 154 239 276 249 508 108 280 211 259 263 255 414 257 195 252 268 366 286 187 231 313 300 235 199 305 339 378 260 400 205 305 302 279 215 415 248 165 353 187 193 188 345 199 376 177 331 250 287 488 249 317 187 320 291 282 320 356 376 285 183 267 308 243 318 234 329 211 176 213 224 378 137 383 347 169 276 335 353 378 271 354 255 305 325 162 277 389 404 216 166 398 360 330 351 475 223 221 380 459 228 154 215 267 370 211 291"/>
<path class="l" d="M436 457 504 380 425 418 525 435 433 321 699 369 452 306 491 386 538 407 645 311 461 398 543 394 519 255 521 438 560 297 608 369 455 280 570 241 477 402 433 333 547 401 524 417 457 317 526 452 662 334 595 295 411 426 589 333 510 389 424 379 560 273 672 265 411 400 674 338 464 448 462 379 446 375 676 235 568 356 507 256 721 301 471 272 481 431 475 299 673 420 559 340 516 335 699 248 645 232 540 428 503 356"/>
<path class="y" d="M248 424 137 536 357 416 376 532 330 553 100 524 375 519 218 411 257 601 278 417 306 546 312 466 238 443 184 577 223 612 94 438 253 402 145 516 38 568 74 467 294 523 250 555 337 433 257 480 317 544 296 496 291 514 271 459 224 583 79 591 321 397 203 555 216 489 192 579 329 535 182 509 232 471"/>
<path class="b" d="M344 417 195 188 317 94 190 312 385 303 235 343 229 312 274 159 402 175 317 174 124 297 315 141 342 389 311 426 236 197 368 363 307 272 175 234 501 122 339 129 271 235 341 343 346 274 199 378 267 413 537 267 501 48 325 231 182 222 339 149 169 241 262 243 196 290 420 243 177 261 329 287 353 420 339 409 317 264 171 246 348 293 415 139 364 232 273 418 378 245 380 225 155 216 358 329 217 267 347 184 153 288 328 416 168 267 234 127 285 197 334 281 210 216 260 343 351 352 259 424 242 296 178 263"/>
<path class="l" d="M395 372 575 492 559 289 587 272 620 364 683 345 561 454 737 374 454 431 585 269 400 367 556 445 599 267 714 338 601 240 467 330 541 357 590 253 602 377 533 374 632 455 456 454 597 441 456 420 453 305 715 295 556 253 551 326 474 301 595 203 675 331 628 391 585 267 621 300 465 289 628 238 410 402 426 419 517 316 549 405 522 455"/>
<path class="y" d="M314 453 336 511 324 464 235 453 258 415 272 510 270 427 326 435 178 585 218 448 189 428 214 474 230 504 264 498 175 502 116 495 322 517 214 419 146 555 276 523 322 566 180 476 154 586 308 429 209 628 235 423 319 581 73 494 312 436 365 470 220 396 85 559 128 404 68 506 311 502 157 531 71 497 195 469 206 574 293 429 239 557 113 539 142 547 203 516 91 408 262 441 99 494 305 560 255 424 209 541 226 589"/>
<path class="b" d="M381 214 251 239 393 171 341 218 398 143 406 212 345 173 329 372 315 286 252 343 181 208 200 301 283 325 210 211 375 333 189 315 422 234 298 187 215 250 298 357 407 157 205 189 327 400 285 166 299 196 314 359 186 295 360 205 333 365 324 223 219 223 274 317 268 250 362 217 239 204 394 225 402 277 264 318 397 196 226 204 177 348 320 372 401 168 156 217 305 154 252 233 259 268 196 211 166 318 192 239 261 286 238 205 285 375 187 309 216 213 279 233 270 286 259 306"/>
<path class="l" d="M492 262 460 225 716 391 533 427 484 318 504 317 594 286 462 280 534 401 642 252 496 361 583 440 598 305 649 433 551 208 449 318 576 356 590 310 548 318 425 390 670 412 520 253 639 400 420 412 491 450 711 333 518 421 394 330 511 316 647 371 430 356 486 273 501 491 690 274 456 430 588 285 674 412 458 361 641 336 458 301 413 352 568 237 572 234 411 424 659 369 467 380 527 377 578 459 540 270 484 326 636 286 629 365 475 282 540 357 625 336"/>
<path class="y" d="M289 563 264 547 121 435 304 480 86 445 276 542 267 581 177 572 314 552 203 528 347 529 173 463 52 521 190 568 279 439 119 515 161 464 120 472 204 414 270 547 203 418 233 544 185 554 188 512 117 539 325 571 134 450 238 509"/>
<path class="b" d="M180 362 351 376 280 246 175 346 317 405 405 267 392 242 432 221 165 268 296 237 341 413 389 260 300 274 182 193 211 294 347 323 240 232 355 177 364 229 368 222 266 235 236 394 268 423 333 283 249 256 405 360 294 149 405 266 261 183 351 28 154 231 148 287 330 369 278 241 225 184 256 261 333 178 305 249 395 426 408 213 198 221 332 260 236 166 389 228 205 208 390 155 308 189 447 205 305 298 329 357 327 299 195 266 199 234 377 174 462 192 416 144 340 234 170 294 214 146 314 381 415 164 290 291 321 396 195 197 197 210 348 346 301 151"/>
<path class="l" d="M613 231 664 284 493 437 592 419 620 223 495 236 715 373 534 441 560 340 504 300 643 246 635 304 589 304 600 260 660 408 550 413 449 428 579 458 594 346 404 239 556 258 529 397 577 296 449 454 443 279 739 395 540 358 611 188 643 271 503 393 691 303 634 369 577 334 574 272 675 360 403 424 399 314 535 294 698 370 531 263 701 310 556 260 369 408 411 359 575 417 605 324 576 356 514 273 455 418 489 432 545 418 515 385 592 287 686 333 398 352 637 260 652 353 499 253 391 397 478 365 691 311 707 280"/>
<path class="y" d="M322 502 295 585 268 557 259 543 363 504 239 545 212 510 151 447 122 530 182 588 99 558 102 486 344 546 216 463 166 471 356 486 351 502 111 485 164 563 85 515 264 570 76 501 73 453 245 394 126 564 285 498 115 559 149 546 178 462"/>
<path class="b" d="M384 442 315 144 377 275 311 358 307 204 179 285 296 312 263 369 363 167 288 341 384 335 305 405 375 333 205 282 438 174 206 378 355 345 349 302 360 450 343 302 178 243 263 482 335 205 312 442 291 231 436 193 217 158 225 416 169 342 280 345 305 161 276 296 421 259 341 384 201 191 286 311 226 234 363 340 423 308 397 438 248 246 397 177 292 303 214 195 455 223 328 331 437 308 126 268 293 389 219 275 229 248 312 185 364 386 275 278 277 196 198 233 268 168 449 211 282 189"/>
<path class="l" d="M675 416 495 314 648 384 543 344 455 435 554 351 436 406 661 309 649 343 527 309 502 366 552 432 701 400 517 230 468 375 643 357 487 281 606 429 667 346 608 277 543 340 373 339 632 387 464 314 744 338 503 271 375 367 585 360 718 353 511 457 617 404 682 310 415 333 702 314 412 272 625 343 683 395 419 395 542 255 519 443 550 307 633 252 741 340 605 470 713 313"/>
<path class="y" d="M289 439 264 462 143 504 100 507 163 436 117 409 352 559 203 392 386 518 329 478 103 418 268 605 232 571 215 608 339 460 37 484 121 526 98 538 325 416 97 495 139 455 233 554 226 480 137 600 365 552 330 576 362 475 156 453 127 493 144 502 278 505 124 539 163 427 338 438 309 415 174 513 188 581 163 430 279 611 231 468 147 575 369 476 117 522 334 459 155 561"/>
<path class="b" d="M365 241 348 391 219 204 317 165 212 387 172 221 211 252 340 409 305 149 306 382 242 286 343 394 305 188 248 263 421 136 176 288 274 200 465 124 197 251 206 391 259 308 422 302 368 221 165 202 394 311 226 374 246 200 369 321 317 404 404 157 180 303 161 333 333 318 405 167 221 364 345 409 210 388 193 174 173 305 383 220 334 174 270 129 400 184 280 301 403 168 439 200 209 155 393 238 327 215 371 331 289 357 248 185 312 209 185 375 320 321 183 201 405 239 149 260 276 173 270 338"/>
<path class="l" d="M504 223 495 388 414 303 513 368 515 287 448 294 576 349 641 340 472 381 396 311 618 292 427 326 609 421 644 324 545 338 439 415 480 315 583 412 468 301 424 298 450 335 704 331 611 343 506 448 620 287 648 257 632 333 431 382 495 253 578 224 567 448 497 366 428 350 600 462 499 368 520 222 433 273 584 418 572 300 587 359 388 405 561 331 499 274 688 349 577 236 544 438 545 430 491 450 686 258"/>
<path class="y" d="M215 458 287 503 139 421 205 493 100 463 142 588 294 451 210 581 185 542 380 491 186 562 261 517 312 431 338 580 351 560 322 468 261 430 264 551 349 488 321 486 235 392 306 577 260 587 323 479 273 526 130 424 272 417 114 481 282 575 313 563 194 422 256 527 193 458 107 421 262 495 292 574 120 542"/>
<path class="b" d="M460 244 378 247 424 167 328 150 357 298 447 175 427 211 222 275 312 192 411 252 320 276 211 248 378 390 423 203 300 129 250 408 285 238 375 308 365 148 281 416 288 255 402 303 207 229 293 363 117 315 257 303 204 333 309 275 203 340 234 168 304 290 215 319 384 164 267 132 262 409 300 169 240 389 339 273 360 139 259 259 180 249 411 92 278 216 325 198 372 423 401 298 298 163 259 376 199 256 325 189 204 313 278 402 123 273 333 338 183 305 393 160 250 147 248 232 454 231 394 318 388 214 158 228 391 262 347 273"/>
<path class="l" d="M595 263 640 355 571 344 663 281 711 335 523 288 614 233 539 232 460 357 526 369 497 334 581 422 454 303 652 395 464 419 299 272 692 355 589 234 482 438 487 467 571 328 414 367 445 398 442 353 468 352 417 446 441 297 426 419 589 307 520 405 422 296 420 386 736 336 452 245 500 310 516 344 613 378 591 456 706 270 591 284 644 427 406 320 618 294 714 407"/>
<path class="y" d="M216 595 60 513 151 578 302 521 194 515 313 462 231 564 254 480 247 570 178 527 236 442 286 458 75 482 115 456 147 606 215 441 137 465 169 541 287 578 151 405 344 567 334 464 366 451 317 488 289 531 147 434 360 538"/>
<path class="b" d="M244 222 275 204 327 370 353 137 346 287 245 170 405 250 374 360 232 193 353 227 418 275 300 445 293 310 262 334 349 234 406 231 167 315 185 293 404 261 222 177 414 214 453 244 236 186 354 246 382 269 365 239 301 156 350 417 285 288 207 150 302 397 181 235 198 180 329 295 160 289 209 274 207 246 398 249 285 372 363 372 396 273 231 357 195 208 228 348 292 108 401 236 398 177 185 271 278 196 346 221 242 323 397 356 333 367 187 345 183 190 339 421 320 303 311 439 309 320 229 323 323 410 250 303 425 186 226 290 227 388 272 339 177 263 198 185 443 187 284 199 299 407 271 394 332 177 374 339 392 236 176 325 335 220 348 293 197 213"/>
<path class="l" d="M350 349 437 378 463 399 490 426 599 239 530 409 455 263 385 324 595 435 453 426 607 259 699 286 701 263 520 230 588 289 580 465 602 438 550 383 502 267 511 235 627 339 664 388 724 281 737 324 670 309 369 388 434 383 651 332 637 255 704 285 524 311 411 355 684 331 690 327 456 372 473 366 547 242 584 291 686 329 434 280 434 425 499 380 398 300 663 236 499 442 460 427 561 379 671 327 709 363 525 291"/>
<path class="y" d="M264 444 319 566 105 490 356 547 359 514 63 386 194 501 106 432 156 547 364 537 165 528 333 441 177 511 312 431 136 517 74 453 209 536 148 535 197 503 206 497 177 480 156 453 253 463 344 468 284 516 193 579 114 460 227 537 399 423 163 512 335 537 337 486 289 420 212 514 409 564"/>
<path class="b" d="M256 280 172 229 447 188 434 208 337 397 313 137 274 283 418 269 456 143 324 174 349 162 304 361 232 268 372 240 369 323 242 402 303 380 191 352 227 420 444 209 400 323 296 294 321 327 314 149 155 213 335 292 182 215 260 433 241 130 350 270 299 263 178 295 225 322 430 190 402 193 236 329 411 176 252 196 359 387 281 364 193 250 380 211 166 197 217 300 312 411 305 271 277 204 254 268 363 325 320 333 335 374 276 235 395 283 203 372 397 139 318 136 275 135 192 254 197 292 265 385 174 371 325 423 370 285 219 312 182 317"/>
<path class="l" d="M538 339 512 461 601 456 611 258 555 409 600 354 609 230 527 460 668 324 743 294 539 393 601 232 573 460 451 332 507 405 558 453 474 264 630 205 575 461 606 368 460 344 564 310 543 298 647 407 610 267 710 275 516 450 614 224 430 401 542 328 453 387 639 283 665 378 564 437 561 245 436 386 495 301 444 416 538 276 477 286 612 266 563 246 477 387"/>
<path class="y" d="M316 475 273 479 146 484 209 567 70 467 332 575 164 552 356 506 273 467 134 562 244 528 315 549 362 478 181 518 100 556 279 560 189 414 126 404 299 474 247 556 112 559 235 447 173 425 270 492 316 555 90 569 263 449 183 470 244 433 330 520 134 546 331 505 235 514 374 536 254 459 87 360 359 508 270 584 158 492 267 413"/>
<path class="b" d="M289 297 209 223 245 205 402 221 377 292 162 298 403 224 263 421 237 326 368 201 351 413 308 404 181 266 332 413 301 376 251 402 167 351 391 143 289 154 310 394 304 440 345 134 191 172 91 308 358 423 266 334 407 135 394 244 341 143 155 252 432 278 234 371 234 352 362 426 273 147 212 210 447 296 405 204 388 307 268 401 275 365 352 329 338 420 461 229 272 435 314 308 299 168 249 302 229 174 279 201 200 338 247 291 298 146 345 153 269 422 233 304 262 151 226 249 379 430 389 307 333 305 274 269 356 228 227 209 51 246 296 290 340 237"/>
<path class="l" d="M456 382 513 442 518 359 519 434 588 363 532 371 676 260 607 339 670 369 555 349 602 325 453 424 450 419 622 351 564 407 543 364 404 427 494 432 580 437 531 216 575 234 692 371 643 417 303 400 624 342 413 309 649 385 549 379 541 267 263 432 529 364 603 450 607 370 720 335 454 299 634 364 639 300 629 275 530 235 616 330 701 367 474 402 636 439 583 405 627 245 539 462 739 309 536 440 676 304"/>
<path class="y" d="M85 535 225 424 247 540 156 543 116 476 297 570 249 415 259 536 223 478 354 520 314 461 361 481 223 472 309 471 206 487 249 519 101 552 284 606 319 488 142 562 128 429 158 556 260 469 116 546 271 457 288 517 156 486 139 540 255 546 339 499 301 544 300 498 145 580 347 505 155 493 198 613 267 526"/>
<path class="b" d="M270 181 352 187 330 331 278 349 153 239 225 216 305 85 321 175 377 236 174 351 288 277 301 143 295 306 429 178 477 201 192 240 239 376 209 174 336 280 200 373 162 208 279 249 439 210 302 316 172 297 389 138 328 236 200 341 376 205 318 247 235 229 220 207 417 270 151 195 222 211 252 349 185 294 230 261 377 332 420 291 317 410 226 403 371 375 421 175 333 314 407 141 305 213 324 240 193 273 172 360 430 211 280 147 368 227 169 272 471 162 364 187 172 232 245 156 356 224 170 215 280 280 219 281 321 427 242 183"/>
<path class="l" d="M579 394 645 303 445 291 728 325 501 361 522 393 531 462 502 366 595 328 678 278 523 268 495 379 481 428 605 440 634 366 552 379 635 316 595 434 642 309 668 328 620 243 494 450 405 395 503 328 481 316 413 348 691 371 475 293 461 262 555 231 566 249 435 342 706 366 672 291 476 234 425 282 668 302 552 353 649 377 594 423 670 272 664 408 573 347 418 451"/>
<path class="y" d="M177 484 191 492 178 486 101 544 372 453 132 486 197 517 165 439 96 519 344 566 124 552 207 511 134 511 125 410 374 464 377 451 67 435 93 579 276 507 278 505 113 540 275 480 288 581 276 526 354 520 240 472 333 531 334 538 247 520 317 542 309 518 112 524 168 415 236 606 319 526"/>
<path class="b" d="M156 195 189 350 276 298 280 345 217 323 421 150 355 296 404 131 339 40 351 142 301 156 400 174 262 231 213 195 261 345 377 319 171 204 206 233 197 293 243 291 538 267 281 154 270 383 327 139 352 403 292 186 425 151 302 333 446 250 388 259 219 165 231 185 51 246 205 258 373 371 353 405 413 296 293 254 416 303 192 293 302 169 264 248 248 179 315 177 276 369 298 219 231 430 313 194 354 436 356 265 436 235 239 204 353 263 376 187 447 132 340 312 437 263 384 258 217 256 375 177 265 279 304 371 319 298 290 134 297 296 485 144 501 163 432 210 182 319 353 366 338 197"/>
<path class="l" d="M553 265 596 452 613 328 675 334 468 340 499 269 587 368 685 233 591 431 483 443 678 410 665 357 664 296 584 347 423 394 689 326 560 352 414 366 637 265 485 452 751 312 690 258 506 288 594 378 462 260 497 407 590 268 468 360 548 461 543 281 596 404 693 279 644 329 688 332 644 368 484 286 482 432 684 291 472 259 699 321 404 363 510 428 603 267 653 380 436 281 660 287 567 403 561 406 586 321 444 262 688 275 446 233 567 468"/>
<path class="y" d="M93 442 245 588 189 472 174 484 179 488 269 406 357 479 229 543 224 503 227 529 105 466 190 418 256 512 211 571 374 494 282 443 120 576 147 514 279 508 130 449 240 428 369 486 268 430 252 459 194 572 241 487 334 473 103 515 368 464 346 516 73 515 212 465 227 503 185 467 346 526 218 512"/>
<path class="b" d="M222 300 434 229 348 328 211 309 283 361 295 230 326 291 322 397 163 310 152 270 364 403 413 310 231 278 158 342 223 174 328 372 327 440 377 186 306 286 222 367 356 394 246 344 333 412 256 231 338 445 165 323 219 346 406 347 416 285 192 357 330 193 215 404 184 260 320 197 211 395 436 262 321 289 375 351 364 357 293 289 292 438 317 330 421 255 386 185 168 185 353 196 310 119 383 280 316 169 194 191 198 319 274 391 251 104 263 412 230 278 128 326 342 406 376 351 415 281 301 299 267 288"/>
<path class="l" d="M521 320 589 342 590 361 656 381 544 275 481 347 627 324 417 286 464 313 440 371 666 414 569 419 543 215 492 291 583 455 580 288 561 460 439 270 718 360 460 372 683 271 725 291 453 422 662 327 763 272 603 395 579 488 446 343 677 307 636 437 500 353 386 388 500 219 677 405 426 412 520 387 415 296 459 306 516 447 496 407 497 344 572 447 697 334 466 425 495 400 430 442 607 384"/>
<path class="y" d="M121 448 259 554 313 460 150 509 100 489 226 542 185 598 197 596 264 547 216 535 298 510 144 431 66 512 285 408 338 535 183 565 388 467 136 510 415 568 114 509 178 418 214 469 204 395 313 468 406 468 322 545 210 554 239 553 248 530 235 605 156 578 212 504 112 545 268 606 148 477 437 478 204 530 206 517 284 504 320 526 376 513 214 506"/>
<path class="b" d="M258 360 154 320 254 280 302 425 472 155 358 351 306 425 344 335 405 218 240 388 307 277 404 174 229 232 341 320 393 152 447 208 415 187 403 229 340 373 318 282 421 165 184 304 471 134 404 201 304 307 276 293 311 290 327 438 332 415 314 376 159 302 303 344 390 320 276 224 263 258 252 190 354 217 300 388 177 337 268 194 373 216 299 219 326 279 480 171 270 424 315 234 307 71 311 439 358 150 223 317 332 282 441 247 307 279 387 310 349 299 395 302 414 202 319 126 333 436 157 216 182 176"/>
<path class="l" d="M635 427 544 382 479 411 481 358 473 461 538 311 472 350 476 403 435 296 633 390 430 405 498 487 535 317 707 276 733 273 599 259 411 337 463 388 438 277 405 315 556 239 576 254 573 287 450 362 584 343 559 236 573 454 502 373 507 323 664 366 525 392 558 245 636 323 587 272 640 380 681 279 516 404 548 282 488 252 640 262 429 298 556 309 713 402"/>
<path class="y" d="M103 476 224 480 278 549 253 451 138 422 226 595 163 562 118 581 214 456 362 489 140 460 205 510 186 470 170 438 267 580 195 515 179 519 113 480 271 593 262 621 200 501 238 504 313 548 246 501 372 489 277 467 224 505 92 511 273 547 189 564 317 407 203 427 248 504 308 556 220 436 104 436"/>
<path class="b" d="M437 222 376 370 455 132 336 263 181 330 361 355 435 182 403 265 273 159 376 308 424 242 162 337 386 308 282 416 253 413 330 384 374 278 330 210 322 283 343 388 438 129 197 170 243 140 361 229 261 319 156 241 279 222 407 182 290 250 225 360 79 320 370 373 310 321 379 163 218 316 293 397 219 255 301 416 232 355 219 195 149 264 291 405 297 206 392 344 325 134 297 135 314 403 339 245 199 343 332 266 338 243 163 219 169 247 276 257 152 322 369 396 152 296 382 303 437 293 261 226 256 328 400 200 282 189 278 370 197 203 257 426 314 299 223 156 172 255 181 251 444 245"/>
<path class="l" d="M703 204 476 294 406 405 600 261 645 404 615 239 383 224 562 303 723 216 512 474 502 284 622 256 709 290 430 370 562 344 453 263 700 380 555 334 477 250 387 298 744 316 595 334 562 447 513 446 593 441 618 309 538 479 563 445 555 324 668 388 630 256 517 452 591 265 647 361 720 377 591 313 555 257 435 312 383 365 615 235 573 245 618 339 490 245 580 364 681 279 507 368 672 333 405 291 685 341 588 310 534 307"/>
<path class="y" d="M227 512 281 525 298 535 258 495 240 574 107 486 93 555 212 535 231 538 315 389 79 449 170 522 304 538 271 568 211 449 107 531 255 541 327 557 322 495 187 417 251 538 97 530 210 478 262 548 352 518 306 574 173 557 277 606 176 455 307 475 266 524 159 565 162 494 337 506 306 584 341 579 182 442"/>
<path class="b" d="M180 358 245 244 372 353 292 340 359 349 378 220 386 119 300 152 320 189 344 382 352 280 361 297 187 332 274 242 243 265 487 30 200 273 353 327 459 243 284 163 293 399 339 255 287 228 369 226 318 223 245 144 161 226 205 263 224 370 346 332 299 248 401 287 343 447 267 371 214 414 386 369 184 358 167 202 372 340 371 208 294 207 253 210 404 225 363 312 297 174 220 330 220 334 225 168 232 167 367 332 325 401 290 216 369 322 345 217 249 151 158 348 193 346 230 187 294 322 234 187 450 161 224 158"/>
<path class="l" d="M610 304 663 262 638 345 499 252 432 393 552 272 667 330 461 326 521 320 471 453 498 312 434 269 407 333 499 402 495 372 480 328 627 195 502 276 659 313 638 284 536 280 471 310 529 332 499 410 615 463 502 300 577 319 617 239 488 445 581 391 679 380 561 358 401 322 572 370 580 258 589 282 680 355 650 284 603 275 683 391 508 471 593 301 474 314 603 406 544 240 511 262 549 317 452 404 532 266 512 369 692 290 608 449 690 320 458 460 501 252 634 361"/>
<path class="y" d="M320 566 331 543 328 465 323 521 358 536 265 437 284 478 233 544 84 463 241 581 367 421 167 512 152 524 77 516 280 416 221 533 111 550 316 414 195 513 140 486 288 549 264 579 259 438 360 501 231 418 197 460 115 544 308 581 69 456 282 483 128 562 346 545 255 444"/>
<path class="b" d="M381 304 280 190 417 279 371 220 245 329 489 238 347 143 263 183 222 264 267 335 312 302 337 241 422 221 187 225 257 188 331 104 336 322 385 338 310 254 169 268 194 240 213 250 141 271 358 195 287 263 203 173 303 401 223 300 227 383 364 194 503 40 391 211 296 186 381 218 423 291 261 390 287 431 250 299 224 221 426 174 246 209 324 143 273 276 345 370 133 252 423 283 220 189 408 136 214 185 271 236 412 258 404 211 270 146 193 209 418 179 232 401 381 334 167 259 226 172 210 306 236 322"/>
<path class="l" d="M447 259 709 346 476 396 522 269 390 366 639 451 472 278 255 312 456 321 578 321 486 333 592 229 512 441 513 432 499 239 654 355 406 275 490 297 625 270 797 280 592 432 632 410 454 411 488 293 658 296 640 398 566 410 395 318 647 439 582 222 598 347 571 465 616 329 711 328 534 298 631 471 554 418 690 290 461 381 498 270 556 408 497 364 705 390 463 388 627 299 668 310 555 370 534 427 641 303 535 319 595 306 649 239 415 368 710 351 405 308 476 364 661 260 720 290 671 373 522 331"/>
<path class="y" d="M220 535 189 522 196 466 232 556 232 593 165 475 221 595 211 395 356 502 211 491 221 603 104 437 174 408 110 495 172 515 142 554 368 534 158 455 331 552 310 566 252 554 272 512 193 551 134 561 321 502 153 576 185 473"/>
<path class="b" d="M290 338 280 186 262 230 412 307 240 176 356 342 163 317 326 346 276 241 349 231 328 307 328 340 288 310 322 210 277 212 338 404 160 219 274 428 316 233 275 229 285 198 277 263 309 439 283 306 303 369 220 342 211 253 278 278 245 311 267 430 284 366 301 238 405 236 419 188 199 230 366 331 423 248 225 370 345 338 425 151 167 307 185 300 377 358 395 226 283 314 329 259 399 169 333 412 390 236 423 218 272 200 139 263 372 309 210 363 158 320 297 385 159 288 293 234 290 365 182 217 257 376 277 323 361 166"/>
<path class="l" d="M655 279 429 409 550 240 421 349 410 401 640 254 645 398 671 417 685 389 485 287 691 320 482 375 530 461 620 289 735 318 590 413 488 365 558 391 451 429 491 407 629 229 570 323 499 411 504 264 424 314 513 303 500 279 483 422 611 314 684 291 692 302 574 412 536 313 530 360 616 260 614 391 502 422 363 436 595 368 609 365 559 449 632 273 523 381 470 418 681 392 528 358 542 387 477 259 391 326 659 370 548 219 648 248 509 298 602 437 396 356"/>
<path class="y" d="M302 581 138 572 364 480 282 609 283 503 94 490 83 510 380 566 122 575 306 532 296 426 90 508 122 555 110 462 268 430 151 500 88 467 338 533 339 485 386 439 211 433 164 469 344 499 355 555 174 442 222 488 225 476 208 409 137 441 107 513 259 598 185 469 289 438"/>
<path class="b" d="M257 327 227 299 363 369 272 336 422 230 239 270 242 384 437 204 321 151 391 280 326 408 453 255 241 399 235 153 447 111 377 366 401 290 137 300 302 241 223 238 454 216 306 207 445 221 341 327 274 362 401 212 373 242 195 283 404 282 321 343 467 182 265 323 198 222 221 302 409 311 423 210 212 148 358 305 454 267 406 249 359 136 235 180 305 282 198 338 259 401 166 254 183 314 253 147 426 288 172 275 417 64 505 211 325 266 182 299 309 225 397 438 156 218 248 241 161 274 375 219 234 409 347 399"/>
<path class="l" d="M627 478 699 347 508 246 572 427 532 404 415 338 400 389 692 370 581 305 552 390 614 394 522 329 629 328 710 287 711 370 515 364 641 382 690 314 351 316 537 277 543 218 626 367 590 323 629 349 630 302 404 398 523 337 610 387 640 370 401 379 557 459 609 335 449 278 652 364 530 408 473 438 605 309 691 418 602 257 544 391 601 263 483 367 498 392 581 413"/>
<path class="y" d="M381 481 244 508 275 512 147 545 148 498 127 573 192 478 141 492 133 583 305 503 205 493 295 509 284 465 246 489 346 520 61 476 165 454 223 591 173 456 174 426 248 480 237 424 149 520 314 508 362 518 144 451 217 434 355 558 80 488 147 499 125 455 202 549 153 549 283 475 192 421 166 487"/>
<path class="b" d="M236 393 205 285 251 344 278 322 348 378 208 293 365 397 264 270 357 230 314 108 232 277 366 140 295 241 300 297 275 290 156 314 378 256 346 171 248 215 331 428 290 128 409 271 229 410 232 366 379 330 508 184 283 213 319 356 362 227 346 181 241 391 405 121 377 327 229 370 511 112 345 295 288 194 371 322 258 418 314 269 297 348 239 345 223 318 402 123 182 244 376 147 370 360 194 352 413 240 209 207 213 259 190 186 207 331 274 223 145 264 419 161 348 402 458 222 402 318 176 390 221 200 400 308 251 208 298 229 207 225 277 203 267 177 423 227 237 290 258 214"/>
<path class="l" d="M523 252 599 273 591 389 570 252 562 353 493 337 600 316 551 404 525 427 570 350 627 254 429 349 553 387 617 310 595 250 394 315 618 326 466 413 624 398 573 433 681 361 700 397 469 377 680 399 593 414 409 394 705 383 704 280 662 248 598 449 745 329 401 400 463 286 442 382 599 282 528 324 657 254 567 212 672 288 668 357 572 355 571 413 572 446 555 443 602 267 437 326 715 348 414 271"/>
<path class="y" d="M194 419 159 530 163 406 312 522 200 576 198 456 195 545 117 521 208 511 278 591 225 440 330 527 186 574 139 432 352 516 209 536 187 496 234 521 79 542 98 495 93 342 183 589 214 544 360 451 216 535 287 412 364 441 154 565 119 425 263 589"/>
<path class="b" d="M252 226 258 338 438 163 195 172 315 209 329 312 292 452 418 192 254 348 350 299 381 307 178 264 348 291 210 277 404 141 366 397 356 389 351 285 277 392 380 330 427 315 230 237 253 359 212 172 318 195 327 438 304 131 388 160 240 183 224 161 239 157 232 285 312 424 415 248 245 201 166 348 342 354 223 62 189 251 415 306 402 269 454 207 272 238 319 322 363 389 255 235 360 368 160 321 271 257 278 191 325 223 317 238 360 313 370 287 352 256"/>
</g></g>
<rect class="leg" x="1917.1" y="73.6" width="97" height="106.2" rx="3.5"/>
<circle class="lm" cx="1949.4" cy="93.6" r="4.45" fill="#93380c"/>
<text class="lt" transform="translate(1991.4 99.5) scale(1 .96)">1</text>
<circle class="lm" cx="1949.4" cy="126.7" r="4.45" fill="#fdb70f"/>
<text class="lt" transform="translate(1991.4 132.6) scale(1 .96)">2</text>
<circle class="lm" cx="1949.4" cy="159.8" r="4.45" fill="#fafad0"/>
<text class="lt" transform="translate(1991.4 165.7) scale(1 .96)">3</text>
<g class="tick" text-anchor="middle">
<text transform="translate(1719.2 416.3) scale(1 1.085)">0.5</text>
<text transform="translate(1847.9 416.3) scale(1 1.085)">1.0</text>
<text transform="translate(1976.6 416.3) scale(1 1.085)">1.5</text>
</g>
<g class="tick" text-anchor="end">
<text transform="translate(1597.6 145.7) scale(1 1.085)">1.0</text>
<text transform="translate(1597.6 239.6) scale(1 1.085)">0.5</text>
<text transform="translate(1597.6 333.5) scale(1 1.085)">0.0</text>
</g>
<text class="lab" text-anchor="middle" x="1814.1" y="442.4"><tspan class="it">f</tspan><tspan class="sub" dy="4.6">1</tspan></text>
<text class="lab" text-anchor="middle" transform="translate(1553.5 225.2) rotate(-90)"><tspan class="it">f</tspan><tspan class="sub" dy="4.6">2</tspan></text>
</g>
<g id="panel5">
<rect class="bg" x="67" y="458.9" width="425.1" height="330.9"/>
<path class="grid" d="M126 458.9V789.8M229.2 458.9V789.8M332.4 458.9V789.8M435.6 458.9V789.8M67 463H492.1M67 544.9H492.1M67 626.7H492.1M67 708.5H492.1"/>
<clipPath id="c4"><rect x="67" y="458.9" width="425.1" height="330.9"/></clipPath>
<g class="p" clip-path="url(#c4)"><g transform="translate(67 458.9) scale(.5)">
<path class="y" d="M273 305 156 344 585 203 273 145 194 279 220 212 500 87 248 178 348 281 427 247 158 333 353 172 253 231 172 366 48 429 245 163 454 67 360 254 200 330 383 159 192 197 464 154 480 65 546 162 140 343 527 68 441 185 301 144 236 196 309 246 412 176 97 295 137 295 335 267 328 240 564 117 93 327 577 160 380 188 98 351 350 150 220 334 172 420 320 129 179 413 529 80 302 275 613 193 581 167 501 117 143 346 465 111 342 232 157 396 408 185 665 178 159 335 534 173 450 140 306 326 348 230"/>
<path class="b" d="M339 455 229 515 405 550 555 551 498 462 661 489 672 326 280 616 657 390 194 564 491 515 594 438 495 468 202 587 692 358 679 438 301 515 616 548 486 453 661 523 668 491 119 514 449 461 256 607 662 541 769 363 320 568 725 339 654 390 610 492 381 442 266 573 373 616 584 482 514 508 306 568 369 596 580 482 164 545 413 469 767 384"/>
<path class="y" d="M218 175 276 160 213 354 516 166 185 284 260 228 375 152 83 384 321 260 96 287 253 362 548 112 67 358 184 300 268 221 200 333 137 257 487 65 115 370 281 221 157 396 232 342 139 436 70 368 349 173 452 210 285 206 231 345 370 162 375 207 543 224 494 171 303 320 109 450 480 97 130 304 554 168 480 126 110 444 481 113 282 230 419 199 277 242 422 96 146 432 512 229 401 73 450 241 554 113 225 220 267 347 534 159 93 381 466 172 334 253 146 403 411 243 451 235 317 286 271 194 335 299 245 251 200 330"/>
<path class="b" d="M345 546 649 447 437 541 508 468 365 604 366 568 471 538 579 458 467 535 273 558 749 395 300 450 668 230 246 590 215 583 320 534 399 557 480 486 338 584 192 546 187 528 628 402 747 408 409 548 379 604 215 514 280 504 345 461 442 467 788 357 192 504 250 567 568 469 587 465 519 564 659 508 597 466 263 584 571 473"/>
<path class="y" d="M277 175 632 186 221 314 496 29 258 332 190 239 343 112 358 226 233 377 483 180 458 240 281 336 336 275 483 76 193 403 240 246 279 245 269 268 429 121 344 242 466 67 327 116 437 164 570 116 115 332 258 358 256 270 277 187 266 212 545 124 523 158 299 329 439 119 265 182 297 183 104 451 296 173 215 222 184 404 427 175 154 314 451 106 321 131 348 136 461 180 338 111 316 288 452 242 355 146 600 142 366 216 130 373 115 331 234 260 240 332 467 234 166 353 190 400 115 349 130 284 265 137"/>
<path class="b" d="M184 533 212 572 491 602 429 586 189 560 273 531 590 459 279 521 413 461 404 551 620 482 447 474 394 575 224 544 205 530 328 570 477 543 641 410 338 466 673 479 331 511 670 386 305 566 226 507 604 473 303 498 522 485 753 391 784 349 558 475 716 348 276 502 574 456 464 512 537 587 771 322 611 454 366 493 373 583 465 533 428 513"/>
<path class="y" d="M289 211 293 163 550 115 446 84 210 332 320 262 525 90 449 171 596 118 246 218 127 265 246 226 173 420 56 418 416 162 183 412 69 404 394 180 230 199 274 341 223 313 541 126 322 314 640 190 366 147 264 183 129 290 372 111 147 381 237 326 75 362 506 160 271 250 222 381 539 130 288 280 179 266 420 95 409 156 334 233 340 214 411 112 261 187 83 365 448 207 108 411 557 160 417 188 66 414 264 252 556 223 141 288 91 415 439 66 221 327 471 147 48 406 311 312 123 319 173 316 451 97"/>
<path class="b" d="M677 386 340 465 653 472 397 532 570 454 762 413 317 596 623 471 356 611 411 473 737 435 470 460 127 552 257 576 757 380 343 574 163 566 567 579 728 364 304 489 693 490 431 512 273 618 760 435 610 496 352 490 709 368 164 528 689 368 383 583 775 419 281 479 562 503 384 598 486 488 382 515 493 498 566 523 401 574 578 569 471 528"/>
<path class="y" d="M268 333 500 54 251 360 395 83 186 250 338 135 442 154 465 131 309 281 438 197 394 237 159 315 513 132 447 110 165 358 353 209 279 281 180 410 160 386 177 379 461 67 122 256 423 112 178 344 397 112 547 221 369 266 572 154 145 257 494 147 135 326 309 248 258 259 519 110 334 204 484 94 348 100 479 80 192 205 194 281 408 220 115 304 445 245 545 94 346 236 126 311 373 124 143 309 175 304 501 229 247 295 271 304 484 231 306 178 521 135 149 394 473 188 283 197 97 300 258 192 263 352"/>
<path class="b" d="M617 509 504 531 297 592 320 466 433 505 276 486 503 528 716 468 727 360 283 549 311 512 229 540 269 593 188 560 429 436 572 534 575 511 180 540 436 583 340 547 209 511 220 540 772 246 777 332 740 448 716 466 203 523 635 414 173 558 696 354 353 600 236 522 509 505 209 550 637 523 410 472 412 434 219 530 337 616 645 409 439 618"/>
<path class="y" d="M427 247 296 152 284 130 459 74 185 407 78 469 211 348 337 105 322 303 77 418 343 267 267 155 442 130 155 303 211 323 381 185 350 156 553 185 286 339 445 71 179 405 151 273 252 235 449 128 134 286 271 168 580 162 371 257 225 373 256 223 284 212 165 362 468 50 425 198 254 166 363 201 421 175 586 167 75 476 160 300 302 219 293 263 510 76 491 113 575 180 273 176 288 285 160 286 405 195 384 135 480 185 668 177 283 302 186 255 374 160 128 301 535 99 263 198 120 338 564 116 250 321 476 58 521 108"/>
<path class="b" d="M377 556 585 485 621 552 407 438 527 492 651 434 395 459 476 598 311 604 644 292 221 577 288 608 230 537 678 506 471 476 433 439 597 561 598 511 750 440 635 382 604 460 659 375 373 407 481 468 520 598 688 471 339 557 563 484 522 549 594 475 256 548 607 492 732 266 377 443 625 440 193 519 645 442 270 481 644 514"/>
<path class="y" d="M99 456 543 96 398 176 284 266 210 241 246 299 221 200 147 246 154 419 301 195 626 189 385 92 146 293 330 220 312 259 139 324 211 214 315 266 539 176 498 229 99 367 277 261 106 335 493 176 119 404 231 363 277 250 332 294 501 171 354 170 282 346 458 141 534 173 660 183 273 166 244 307 106 293 162 361 108 313 460 89 309 135 491 61 101 295 431 141 112 405 219 374 164 242 332 161 224 381 296 117 381 235 60 402 310 200 434 126 331 124 471 117 122 294 217 385 75 373 244 321 496 111 60 423 456 85 66 395 359 124 187 319"/>
<path class="b" d="M353 564 342 541 327 585 727 331 577 466 194 561 148 535 420 378 546 483 372 594 462 423 647 544 424 604 606 440 476 609 325 612 358 597 684 398 451 498 404 524 369 474 365 513 780 404 659 462 707 424 518 529 716 436 320 600 736 453 400 482 302 489 766 336 334 580 621 544 689 467 426 609"/>
<path class="y" d="M207 299 65 381 443 175 268 145 342 149 127 315 465 198 212 180 513 198 209 392 135 250 290 315 355 270 327 296 491 75 614 120 91 315 253 219 179 320 454 175 194 201 80 353 63 393 119 303 392 122 311 180 349 196 410 123 481 156 481 143 272 180 68 388 394 102 132 262 195 383 373 180 539 116 337 244 528 124 206 274 320 232 556 171 227 269 477 150 550 161 526 78 315 193 373 200 191 218 411 120 325 177 430 118 206 344 576 206 379 191 121 273 190 344 284 342 489 93 186 312 297 243 573 205 287 256 337 162 113 388 294 248"/>
<path class="b" d="M610 450 723 362 382 473 382 546 529 519 249 495 393 522 334 512 259 514 454 550 376 494 596 518 422 462 504 532 428 414 638 435 292 494 341 605 595 468 350 428 709 375 129 546 374 548 332 608 381 521 634 510 233 591 281 572 630 515 441 501 665 359 721 441 689 416 335 585 613 391 170 537"/>
<path class="y" d="M402 182 675 180 100 399 310 288 556 176 202 216 339 230 113 392 111 325 483 78 334 106 476 52 99 329 181 215 144 331 526 229 137 296 538 162 301 330 336 262 157 253 76 394 446 206 532 121 190 213 283 284 169 245 460 120 489 52 97 406 316 320 267 175 179 341 273 142 391 131 217 241 143 408 123 368 377 214 556 165 151 425 514 94 232 373 361 178 340 248 108 313 400 213 395 143 438 136 389 252"/>
<path class="b" d="M706 364 768 415 635 403 119 535 558 493 334 610 394 489 311 463 445 467 307 533 546 538 641 499 762 349 620 459 543 503 438 594 371 408 508 558 611 506 571 486 451 511 383 468 713 424 501 525 357 483 603 505 386 524 772 340 455 463 776 360 687 433 381 463 354 546 325 567 144 575 273 594 317 574 323 463 437 554 481 450 576 442 445 548 484 522 732 455 504 535 332 476 682 350 702 459 517 566 468 490 320 570 502 534"/>
<path class="y" d="M235 175 597 206 493 130 403 160 336 168 403 88 190 198 248 280 73 401 547 228 558 155 219 378 298 264 571 174 373 129 180 404 111 350 549 219 378 118 335 138 255 357 335 175 311 222 241 281 515 140 358 95 55 392 334 298 369 118 518 167 392 119 440 162 343 118 189 399 51 420 250 366 482 234 102 305 380 128 94 406 115 288 143 281 323 215 368 176 155 367 130 393 436 222 642 183 393 108 268 168 303 200 458 109 478 151 353 237 259 247 433 149 281 323"/>
<path class="b" d="M637 456 422 542 208 515 695 421 149 560 750 366 221 546 309 492 347 504 511 535 434 556 345 557 527 598 418 597 293 512 753 383 369 479 243 585 335 501 318 604 307 586 633 520 349 451 177 568 532 579 259 545 698 483 732 454 358 551 660 421 437 475 276 538 245 580 432 530 421 439 474 578 379 494 742 447 280 554 145 551 433 591 455 534 404 403 311 518 210 563"/>
<path class="y" d="M384 82 148 250 539 155 237 222 324 130 330 305 444 243 382 175 210 260 541 230 461 236 94 403 191 373 410 155 563 131 442 175 212 305 227 245 153 281 331 185 473 179 275 330 98 301 474 137 402 130 427 76 334 293 491 174 275 333 284 344 374 86 352 191 452 105 226 268 172 237 513 80 383 197 385 258 175 419 124 444 536 133 234 344 271 315 234 284 141 330 400 187 215 362 324 161 354 200 409 179 73 390 483 132 328 304 125 390 334 298 168 306 442 94 488 170 181 212 162 378 250 224 328 155 502 147 252 342 129 354 239 325 276 271 644 350"/>
<path class="b" d="M542 505 685 457 399 602 475 513 308 533 428 416 596 526 362 480 726 482 616 465 502 563 211 533 709 435 445 543 235 500 408 612 297 559 600 516 670 544 231 592 650 210 261 597 216 509 391 450 465 521 509 507 615 450 340 619 397 583 671 381 390 430 580 473 429 599 227 505"/>
<path class="y" d="M279 218 323 310 179 231 115 445 119 396 283 260 231 260 212 178 76 369 93 378 379 144 533 225 265 216 152 251 84 374 573 204 359 109 218 207 381 137 537 79 265 178 506 54 466 113 256 264 68 476 428 54 426 131 410 121 470 63 127 380 293 285 288 161 164 324 266 242 231 247 185 267 325 206 176 259 125 442 518 127 278 251 138 378 610 196 202 323 194 293 195 206 349 140 109 402 184 407 201 396 344 164 467 61 311 165 187 348 372 108 209 250"/>
<path class="b" d="M763 412 441 560 675 461 240 502 776 270 417 545 188 581 285 600 465 509 197 575 440 441 313 484 429 489 393 470 309 584 762 341 696 393 471 589 319 521 658 441 642 463 324 582 760 423 463 586 688 308 523 561 630 412 771 422 161 550 232 578 420 407 375 481 767 371 347 593 416 600 660 305 397 531 407 477 475 560 275 588 354 490 558 556 305 580 294 560 266 513 241 501"/>
<path class="y" d="M576 155 214 281 439 87 319 311 561 179 224 214 235 371 247 251 160 253 275 265 462 186 146 276 359 133 420 142 471 96 487 71 602 198 86 372 129 382 493 122 514 153 99 453 203 210 322 187 553 100 136 258 196 209 479 180 229 275 553 135 345 221 89 387 320 228 352 239 444 167 176 286 326 166 132 281 550 100 324 196 236 208 453 234 379 250 213 185 400 127 281 342 211 265 44 402 138 302 525 62 463 125 364 228 527 227 422 66 439 104 252 187 301 271 238 350 268 209 175 416 149 319 307 217"/>
<path class="b" d="M424 580 692 392 686 391 773 396 105 537 777 399 380 542 146 547 348 603 347 556 405 500 363 611 480 561 516 470 681 366 510 547 600 426 261 605 595 544 410 560 267 506 128 561 676 254 730 372 462 444 385 550 545 480 480 527 338 598 794 354 794 359 512 478 215 545 613 488 276 500 447 520 638 409 567 465 324 535 675 468"/>
<path class="y" d="M455 113 398 199 134 339 206 321 388 100 554 214 554 111 217 177 290 278 316 274 262 312 345 139 316 148 590 202 389 167 478 66 171 420 313 187 306 321 459 173 529 77 187 401 97 342 281 141 478 104 112 408 431 164 252 286 264 256 144 254 568 146 560 221 522 137 489 49 489 78 443 154 798 258 287 331 326 199 356 158 392 174 449 204 191 269 351 214 320 269 517 198 457 75 493 235 219 321 124 396 617 196 372 104 497 59 360 151 156 276 347 239 496 190"/>
<path class="b" d="M542 473 102 542 496 531 583 451 349 461 255 489 727 416 716 261 701 407 460 558 617 499 439 436 623 409 486 556 738 352 766 367 474 450 437 611 770 390 615 390 438 559 313 539 324 454 505 514 205 570 736 349 223 558 430 585 791 364 405 417 135 546 768 238 178 557 664 425 584 519 496 511 581 506 202 586 700 412 299 544 365 608 424 602 531 532 374 573 470 543"/>
<path class="y" d="M402 86 186 386 173 240 274 299 473 238 403 253 214 323 363 223 239 343 191 390 50 387 436 201 422 103 565 140 295 149 237 226 123 271 254 188 320 166 210 370 616 174 355 171 353 255 86 347 315 124 109 291 593 198 309 188 238 306 557 185 486 76 449 118 107 451 57 418 261 286 284 149 102 354 369 257 561 216 146 427 202 309 242 201 538 129 58 414 377 197 514 174 507 142 153 275 265 225 268 187 457 64 628 182 340 178 493 53 162 262 251 356 219 338 497 134 161 281 385 153 220 225 712 288 599 203 245 330"/>
<path class="b" d="M368 606 473 454 429 427 291 479 690 379 527 563 151 548 464 452 487 508 615 399 323 593 563 556 242 601 636 467 205 564 570 479 374 580 468 439 766 355 575 548 645 537 635 456 202 547 477 433 397 433 140 519 743 406 169 523 263 566 683 496 615 480 388 601 436 429 497 480 633 427 720 330 218 593 320 492"/>
<path class="y" d="M544 102 316 257 200 219 143 370 566 157 213 357 477 107 93 357 168 261 265 164 531 160 324 138 267 265 499 157 481 149 740 282 176 376 483 158 463 153 182 226 548 174 532 116 324 238 341 220 555 115 458 92 332 215 181 246 479 180 539 94 206 287 364 268 356 105 571 214 181 414 101 460 399 81 286 336 498 234 470 188 102 375 473 63 439 130 378 249 471 111 321 311 161 242 298 237 342 252 644 206 377 134 579 150 349 129 429 69 108 363 348 275 291 199 326 171 509 226 533 196 236 329 272 255 496 111 261 201 208 182 294 239 680 181 509 141 256 361 178 378 379 156"/>
<path class="b" d="M253 568 721 445 399 466 312 519 120 546 684 280 494 457 351 482 712 356 270 492 520 579 403 450 791 377 361 580 260 520 467 597 304 499 373 531 215 582 777 416 688 483 365 459 471 529 416 502 505 497 194 525 756 228 249 547 605 505 298 545 387 560"/>
<path class="y" d="M257 358 271 345 497 129 272 309 213 388 176 360 154 300 411 130 519 150 197 272 307 271 286 143 501 47 72 474 234 367 439 243 268 262 181 328 383 228 249 208 112 336 374 114 163 373 282 150 358 135 398 78 328 307 210 324 184 383 181 366 416 183 605 198 345 220 476 121 505 78 398 209 337 264 483 185 214 274 147 432 204 285 301 160 344 113 299 281 202 324 201 393 110 387 469 104 256 289 395 160 336 139 182 301 183 385 546 185 346 204 395 236 137 381 154 419 148 374 280 198 266 346 328 294"/>
<path class="b" d="M524 542 482 499 268 485 493 606 494 581 699 354 736 360 384 561 667 450 690 349 433 500 465 488 450 439 683 474 406 582 743 438 355 606 481 485 305 606 341 574 292 521 324 560 749 349 765 321 456 505 694 462 512 564 259 599 624 511 383 510 263 498 303 467 283 521 104 522 709 415 250 536 459 434 137 543 176 559 426 507"/>
<path class="y" d="M369 201 177 273 226 298 488 70 147 385 223 193 411 244 224 305 421 243 129 431 349 262 412 203 315 140 590 205 346 261 61 413 365 100 290 138 202 391 462 159 103 377 115 280 128 336 271 306 381 145 205 214 435 130 352 282 335 189 347 114 123 399 574 207 458 237 178 265 362 98 688 282 254 170 414 130 579 202 381 179 434 210 86 424 651 184 434 200 244 158 187 291 350 93 296 177 399 237 213 253 332 304 272 213 357 93 329 268 532 151 129 275 244 338 216 194 281 188 182 385 446 244 210 232 632 190 506 64"/>
<path class="b" d="M703 439 617 488 198 552 383 621 296 555 499 462 464 580 203 545 398 515 708 439 288 519 190 514 456 605 286 480 312 561 622 417 465 544 224 567 592 511 409 511 732 419 367 511 481 535 772 345 552 569 515 571 280 549 236 592 386 451 502 546 359 560 749 436 140 529 419 432 544 524 757 365 416 582 270 566"/>
<path class="y" d="M97 333 292 135 253 159 488 155 209 270 654 186 276 259 192 385 644 158 152 390 226 351 663 176 284 261 384 223 732 246 83 461 462 158 333 107 362 228 370 230 341 265 277 159 58 396 539 181 180 390 376 152 343 251 272 200 533 144 208 381 212 350 306 151 179 317 456 236 398 210 294 313 194 185 202 400 168 363 271 299 299 160 333 116 435 163 218 291 124 368 455 204 542 123 434 93 515 61 728 194 99 360 120 388 514 181 448 136 407 209 471 82 66 399"/>
<path class="b" d="M411 531 749 473 359 500 728 278 471 557 232 554 646 385 742 343 307 573 574 471 494 546 704 485 338 472 509 590 310 608 300 480 742 357 172 543 254 513 395 448 153 547 344 495 746 376 725 353 197 560 264 506 595 496 429 493 255 580 373 487 492 558 435 566 762 424 453 460 421 409 766 394 324 461 389 410 358 597 451 493 248 552 368 582 622 495 510 506 796 357"/>
<path class="y" d="M599 195 522 180 179 367 114 376 190 334 355 233 131 268 425 209 296 132 487 86 120 351 205 187 492 122 108 385 343 235 86 463 268 273 485 64 673 182 366 176 93 324 318 253 428 87 427 172 459 60 394 209 260 355 409 163 131 377 212 208 302 248 174 303 516 190 208 317 167 252 138 303 428 79 433 50 253 248 173 301 495 108 200 276 476 193 102 418 515 127 226 332 307 226 394 195"/>
<path class="b" d="M581 543 233 542 652 398 588 484 217 564 354 588 162 558 420 481 154 543 238 531 366 526 702 225 675 405 671 439 305 564 261 577 407 457 398 419 363 615 308 479 501 529 645 482 485 583 371 533 548 410 429 547 723 379 758 357 313 593 393 542 349 492 464 560 558 543 447 574 748 266 711 350 270 545 505 571 317 494 656 551 260 556 426 516 658 423 335 558 696 294 625 488 340 478 466 461 473 527 635 460 613 483 266 559 491 531 376 566"/>
<path class="y" d="M256 278 226 216 258 346 236 230 312 246 237 364 227 265 310 260 580 177 241 177 393 253 522 232 526 94 368 144 175 233 322 146 415 87 281 219 529 228 354 270 444 119 212 376 330 257 526 147 405 166 128 323 334 130 162 341 374 187 661 179 312 246 303 263 416 184 556 218 433 135 436 183 320 250 205 189 469 180 215 247 119 267 96 375 368 242 289 332 436 101 269 344 355 103 637 187 84 368 581 210 236 377 529 128 522 69 441 103 129 267 101 401"/>
<path class="b" d="M595 535 763 331 734 414 437 605 738 394 158 529 488 479 524 556 298 482 710 342 493 506 543 470 322 520 552 489 734 395 244 521 377 461 426 536 791 365 292 501 147 551 331 543 751 422 204 495 613 438 624 517 330 495 590 226 329 463 740 399 655 481 618 523 624 483 414 521 718 330 663 428 715 462 218 516 584 205 590 472 660 515 291 471 174 560 294 484 511 478 120 566"/>
<path class="y" d="M201 192 288 218 284 308 540 225 535 150 202 382 529 82 430 159 603 198 186 358 281 151 536 230 336 155 421 175 307 154 203 241 67 424 282 336 220 388 81 427 488 145 270 144 535 145 459 94 509 134 431 239 620 190 205 379 96 453 320 261 499 232 87 464 418 112 261 259 224 335 394 90 293 284 428 71 227 248 157 282 193 293 241 196 607 198 443 238 251 360 522 119 416 250 149 392 121 395 113 305 531 194 106 295 191 398 222 377 161 275 380 96 208 226 552 149 204 232 176 375 433 98 454 135 364 213"/>
<path class="b" d="M640 396 256 526 624 561 450 552 297 600 732 440 307 464 488 579 477 557 417 479 726 421 416 415 422 538 328 576 496 557 484 480 507 493 408 430 335 466 417 488 200 570 499 507 289 506 297 538 720 425 305 597 413 562 788 272 188 563 740 412 511 496 694 419 732 411 408 522 324 514 333 616 295 610 342 547 506 575"/>
<path class="y" d="M294 219 256 288 333 153 304 322 462 209 515 226 353 282 174 292 513 230 266 339 557 169 105 391 621 195 403 252 452 190 201 345 330 180 338 292 438 202 587 204 385 174 105 287 708 174 584 142 266 212 202 371 656 182 169 279 519 181 124 303 153 350 385 166 143 300 110 362 337 196 391 239 410 176 316 230 492 63 217 249 231 337 366 267 228 381 103 281 326 112 246 144 392 165 171 280 760 288 535 156 394 248 438 87 298 285 490 94 367 138 225 182"/>
<path class="b" d="M620 428 319 560 560 485 265 595 222 508 712 310 163 525 465 438 441 531 474 565 437 593 624 492 695 351 166 535 494 542 709 392 337 522 342 518 387 448 418 479 184 563 468 573 525 509 695 403 213 572 709 482 514 581 290 492 487 475 512 468 264 536 369 580 747 427 781 382 442 565 223 535 703 371 517 493 640 424 237 578 464 562 487 552 236 520 736 444 393 561 474 576"/>
<path class="y" d="M332 296 471 238 539 130 463 145 230 256 324 157 133 290 384 259 309 174 348 179 283 217 428 58 97 339 399 107 303 176 143 375 720 218 403 234 221 185 194 269 101 453 255 268 171 356 172 283 221 386 552 219 414 86 265 211 109 453 169 253 506 181 108 381 489 160 111 363 94 350 427 67 245 367 153 429 286 237 245 280 532 192 435 153 412 247 222 322 237 276"/>
<path class="b" d="M782 400 260 524 489 601 670 475 460 556 339 558 166 575 612 542 236 596 635 482 185 566 651 436 452 494 631 449 474 492 715 399 390 456 449 422 371 524 187 533 489 543 410 557 420 423 150 554 381 472 733 415 240 461 465 511 625 487 382 617 495 487 395 618 499 473 494 584 391 572 354 449 507 529 212 502 197 569"/>
</g></g>
<rect class="leg" x="383.5" y="470.6" width="97" height="73.1" rx="3.5"/>
<circle class="lm" cx="415.8" cy="490.6" r="4.45" fill="#93380c"/>
<text class="lt" transform="translate(457.8 496.5) scale(1 .96)">1</text>
<circle class="lm" cx="415.8" cy="523.7" r="4.45" fill="#fdb70f"/>
<text class="lt" transform="translate(457.8 529.6) scale(1 .96)">2</text>
<g class="tick" text-anchor="middle">
<text transform="translate(126.3 813.3) scale(1 1.085)">−2</text>
<text transform="translate(229.5 813.3) scale(1 1.085)">−1</text>
<text transform="translate(332.7 813.3) scale(1 1.085)">0</text>
<text transform="translate(435.9 813.3) scale(1 1.085)">1</text>
</g>
<g class="tick" text-anchor="end">
<text transform="translate(63.1 473) scale(1 1.085)">2</text>
<text transform="translate(63.1 554.9) scale(1 1.085)">1</text>
<text transform="translate(63.1 636.7) scale(1 1.085)">0</text>
<text transform="translate(63.1 718.5) scale(1 1.085)">−1</text>
</g>
<text class="lab" text-anchor="middle" x="280.1" y="840.3"><tspan class="it">f</tspan><tspan class="sub" dy="4.6">1</tspan></text>
<text class="lab" text-anchor="middle" transform="translate(25.6 623.6) rotate(-90)"><tspan class="it">f</tspan><tspan class="sub" dy="4.6">2</tspan></text>
</g>
<g id="panel6">
<rect class="bg" x="577.8" y="458.9" width="425.1" height="330.9"/>
<path class="grid" d="M638.4 458.9V789.8M740.6 458.9V789.8M842.8 458.9V789.8M945 458.9V789.8M577.8 473H1002.9M577.8 549.4H1002.9M577.8 625.8H1002.9M577.8 702.2H1002.9M577.8 778.6H1002.9"/>
<clipPath id="c5"><rect x="577.8" y="458.9" width="425.1" height="330.9"/></clipPath>
<g class="p" clip-path="url(#c5)"><g transform="translate(577.8 458.9) scale(.5)">
<path class="y" d="M238 334 411 73 247 355 231 327 406 161 550 89 258 167 274 338 294 161 315 260 392 129 193 317 171 329 294 242 255 282 421 148 266 322 412 244 443 183 330 105 367 106 351 167 445 190 276 267 269 125 337 219 341 166 514 183 386 287 324 118 321 137 468 208 545 187 234 342 244 180 47 340 214 215 301 131 551 135 291 343 389 244 545 209 67 388 312 233 218 378 441 177 272 337 321 155 459 53 218 250 264 310 518 193"/>
<path class="b" d="M473 607 406 498 438 615 531 438 664 419 543 466 654 399 802 335 481 455 521 468 707 439 560 468 375 517 621 506 451 571 764 343 638 477 742 348 601 466 426 492 677 380 708 397 539 548 607 419 321 487 640 469 655 360 580 416 749 325 487 393 463 601 492 477 383 538 751 359 458 491 486 368 540 558 537 508 590 409 334 564 443 408 462 506 688 462 497 488 426 529"/>
<path class="y" d="M193 398 473 141 495 62 469 196 443 94 348 197 215 218 361 81 252 294 358 217 415 88 537 213 108 385 435 241 230 322 390 144 268 181 255 230 366 206 293 152 245 231 632 190 477 182 302 362 345 180 353 141 337 228 560 146 293 144 308 260 545 137 192 268 483 84 384 129 333 274 252 374 195 258 502 72 328 107 577 135 416 284 744 242 387 88 386 160 548 72 438 58 264 197 226 185 222 236 291 252 297 209 196 396 238 167 573 122 322 281 177 244 349 249"/>
<path class="b" d="M600 454 462 458 344 632 317 598 520 473 581 427 531 548 442 437 527 555 481 583 264 592 359 510 289 596 493 423 374 473 476 596 475 499 447 461 466 438 446 457 694 398 337 518 524 450 720 369 548 443 406 578 616 489 377 513 635 418 628 453 757 402 405 530 519 457 472 548 463 547 593 526 508 400 642 474 632 499 522 432"/>
<path class="y" d="M249 192 398 294 368 215 182 307 220 334 336 293 320 324 560 189 409 214 300 126 367 84 211 205 542 77 490 77 485 195 178 383 516 90 347 240 224 324 652 160 446 85 265 271 378 205 288 288 532 126 378 199 315 188 345 233 320 147 421 142 472 66 270 299 445 78 447 168 257 232 546 118 309 345 391 174 214 373 224 406 193 307 243 173 255 384 258 336 420 149 564 189 440 187 365 112 303 333 404 203 520 199 370 219 272 308"/>
<path class="b" d="M454 582 396 599 348 502 700 444 520 409 595 399 612 514 475 424 478 594 502 544 432 575 536 487 749 433 588 507 434 553 399 520 604 459 691 419 484 422 387 602 513 433 740 298 373 546 692 449 593 524 329 613 443 601 380 556 706 452 571 445 665 463 688 318 370 506 469 381 735 434 418 438 482 375 719 276 403 529 214 561 594 475 791 299 346 477 437 523"/>
<path class="y" d="M438 151 309 363 563 160 198 206 355 125 191 210 370 221 574 147 440 222 456 65 277 210 362 196 412 189 700 210 279 233 276 208 364 257 444 226 361 163 498 212 338 314 688 205 189 324 340 158 319 158 245 241 192 338 408 279 374 226 339 330 198 320 484 90 492 69 219 359 202 395 358 173 394 231 292 295 258 359 221 215 596 157 298 307 448 138 396 287 235 156 416 153 275 353 542 187 503 86 559 101 432 202 269 278 177 228 544 144 319 224 407 292 381 170 308 163"/>
<path class="b" d="M503 399 376 567 482 383 464 523 494 410 426 459 741 346 412 512 510 480 553 573 477 583 273 577 773 276 612 441 621 494 616 485 759 400 485 547 723 240 482 549 339 600 425 451 611 409 491 435 639 493 565 543 546 491 711 398 564 434 453 435 776 305 666 455 683 422 560 495 411 446 542 451 397 515 404 459 445 393"/>
<path class="y" d="M259 206 247 335 464 89 258 176 289 177 295 250 250 176 484 98 566 125 92 470 390 210 480 144 588 176 381 210 193 275 664 146 327 245 348 308 555 205 286 145 343 169 229 353 329 141 191 321 244 173 324 243 432 214 282 342 208 285 512 81 314 292 166 329 541 159 598 146 366 205 260 271 380 94 236 230 281 312 537 165 519 191 578 129 387 211 514 94 359 222 289 152 303 263 509 113 252 383 374 276 505 113 223 377 462 114 419 81 398 116 663 185 256 275 298 278"/>
<path class="b" d="M447 422 749 416 510 535 378 540 676 500 525 581 484 536 787 301 569 554 733 359 601 418 350 548 440 517 419 498 593 492 410 528 761 333 467 522 340 482 407 447 399 538 535 420 351 618 498 536 404 410 352 523 524 576 738 396 312 558 706 428 602 412 361 473 407 478 613 433 502 472 572 428 555 544 662 367 572 526"/>
<path class="y" d="M448 113 519 171 275 228 509 97 484 68 453 97 183 387 509 207 170 309 239 201 462 93 270 250 321 172 438 121 278 214 290 163 223 301 211 321 253 212 241 281 249 308 47 346 289 231 385 199 243 368 202 202 547 195 344 105 430 99 331 195 415 186 332 155 259 384 554 95 443 239 209 323 239 207 528 182 495 140 278 192 364 133 358 80 195 251 316 188 218 275 503 99 357 129 320 125 436 175 586 176 534 67"/>
<path class="b" d="M432 569 512 516 494 395 592 545 632 202 362 586 343 549 759 377 716 358 753 311 178 567 531 569 557 539 294 569 549 530 347 449 711 305 383 607 310 579 674 393 489 413 480 503 618 498 745 413 631 389 551 444 371 565 427 481 370 469 770 308 381 567 624 454 687 248 408 564 584 442 521 584 522 428 686 481 387 526 758 346 571 478 709 440 748 412 298 523 623 461 453 499"/>
<path class="y" d="M571 206 468 149 583 176 179 272 228 248 219 205 365 215 216 402 292 267 340 298 302 258 514 186 367 182 310 333 277 321 431 119 493 125 498 65 337 127 535 202 282 148 241 170 440 93 432 201 344 181 211 236 375 109 556 165 247 323 329 244 520 181 337 256 222 236 283 349 410 165 252 161 224 353 454 78 239 244 246 328 512 117 239 183 347 307 505 180 511 186 509 156 382 238"/>
<path class="b" d="M680 458 507 408 623 410 480 494 523 539 494 523 502 457 724 392 314 540 426 525 466 571 373 462 416 584 762 310 486 474 735 329 431 597 482 533 408 506 470 373 411 554 461 587 441 528 761 339 358 529 571 540 519 505 491 543 791 346 715 436 462 597 320 580 343 509 469 571 347 559 418 578 665 389 436 537 582 520 319 523 336 486 516 401 479 531 635 427 602 436 553 523 604 428 373 514 578 544 718 417"/>
<path class="y" d="M594 162 182 226 680 230 177 219 448 101 350 270 410 81 249 280 341 184 398 167 194 336 400 141 538 85 555 166 348 308 189 350 435 65 403 112 247 259 554 115 196 406 102 475 352 291 319 210 285 215 568 195 191 260 328 196 182 254 664 246 490 71 328 148 195 199 332 124 413 167 349 175 190 374 610 166 380 120 175 371 331 128 214 291 332 167 470 138 298 291 188 397 788 234"/>
<path class="b" d="M683 488 702 426 522 468 729 242 484 394 417 509 617 532 534 526 715 294 469 422 705 392 775 339 378 470 566 500 641 455 631 400 506 427 587 514 440 487 364 575 505 396 542 424 405 410 556 415 430 590 672 405 540 428 673 372 586 529 691 313 742 413 472 425 392 576 717 306 569 562 546 546 620 476 406 595 747 268 631 258 506 578 752 353 717 302 776 372 486 458 425 572 333 530 561 566 725 401 402 502"/>
<path class="y" d="M347 137 350 88 448 180 329 338 522 72 247 163 180 255 446 237 449 225 316 352 177 366 440 127 245 327 286 255 423 128 402 166 201 325 310 246 240 266 447 219 454 152 361 276 506 92 264 364 199 252 553 210 462 153 511 68 222 242 213 404 303 201 120 241 377 84 201 228 248 305 433 260 343 309 344 122 272 360 243 390 384 230 382 276 487 57 430 135 204 187 372 168 184 223 415 255 570 175 268 283 356 266 475 215 413 139"/>
<path class="b" d="M556 555 626 493 515 414 490 564 326 512 490 460 680 410 460 567 526 514 732 361 262 561 678 391 554 560 294 586 531 472 484 413 449 485 484 556 399 488 530 473 787 316 706 462 469 586 345 494 418 434 420 455 454 514 390 523 507 549 554 501 312 572 341 541 412 578 398 583 587 494 507 412 421 432 748 398 658 396 476 476 792 363 718 414 515 385 193 590"/>
<path class="y" d="M560 156 229 194 512 102 218 227 200 414 524 68 712 254 407 68 198 350 344 235 361 182 544 201 375 156 199 349 231 327 539 124 210 365 395 112 463 125 425 188 212 212 397 169 257 313 371 90 716 178 519 145 349 132 396 219 209 268 290 334 315 113 529 134 159 348 506 80 305 148 179 390 576 168 304 179 400 78 336 281 304 160 352 151 441 235 347 260 291 200 468 200 205 403 239 236 368 222 314 265"/>
<path class="b" d="M510 543 680 345 711 467 484 558 687 264 516 441 477 380 241 556 415 576 355 502 505 558 737 250 400 538 412 528 431 566 536 437 484 411 372 558 494 566 393 457 526 458 634 424 776 327 501 392 557 490 502 560 395 532 469 384 718 257 535 420 425 600 551 438 688 417 396 449 707 389 526 522 439 426 467 590 653 469 425 543 553 489 617 481 350 599 382 503 482 477 396 613 472 598"/>
<path class="y" d="M341 208 385 94 461 62 321 194 208 244 387 286 222 340 370 92 540 124 320 303 431 172 40 381 539 94 172 242 234 386 179 240 470 153 364 188 184 277 240 353 419 232 266 272 228 210 191 271 231 251 324 292 537 104 419 119 220 193 204 273 251 306 320 118 339 323 345 324 480 218 163 373 474 193 331 210 210 388 221 389 220 208 372 308 456 184 433 166 568 154 505 177 402 197 530 198 250 225 445 112 526 195 392 165 327 287 309 262 238 166"/>
<path class="b" d="M442 440 686 379 596 497 479 497 402 593 619 511 596 221 593 476 624 471 559 551 546 566 493 594 372 484 597 455 582 459 691 469 470 401 565 557 641 370 203 567 310 617 503 460 524 402 530 515 757 311 559 462 582 414 546 455 475 544 683 399 396 449 703 365 615 427 515 492 352 479 361 538 488 447 396 552 473 384 456 507 548 445 751 267"/>
<path class="y" d="M421 194 696 185 439 229 298 179 367 255 184 371 260 148 237 197 471 216 300 335 458 181 376 268 268 249 344 165 191 238 297 166 237 215 416 226 184 251 370 278 538 204 473 171 411 228 225 202 515 86 560 140 208 209 235 317 302 285 266 206 632 138 313 199 266 353 321 116 374 300 277 307 465 99 399 186 399 280 471 50 549 169 265 391 354 274 244 293 498 115 231 280 346 238 452 130 566 169 294 193 398 284"/>
<path class="b" d="M509 560 486 463 556 566 412 507 375 529 766 386 740 306 789 334 435 457 797 327 700 485 427 595 456 459 582 487 478 563 427 445 493 480 539 576 472 594 717 447 514 505 757 374 654 496 445 467 719 392 348 450 414 451 524 452 657 475 416 453 491 484 522 485 762 239 637 459 342 551 570 436 669 356 765 371 399 486 493 386 382 463 445 577 411 501 443 574 436 543 660 394"/>
<path class="y" d="M286 161 566 125 408 258 417 106 599 170 169 320 376 188 387 291 276 191 257 284 483 60 352 318 253 217 309 309 229 258 384 81 171 404 484 115 372 124 528 169 357 288 319 200 186 217 263 227 262 142 541 144 549 64 411 132 351 208 357 294 410 285 491 136 559 110 282 214 247 289 234 335 204 270 416 162 359 232 457 58 301 225 293 127 209 195 292 326 214 269 190 224 339 244 364 315 335 347 169 320 440 172 408 108 262 197 257 280 532 160 439 58 215 177 500 84 283 176 311 270"/>
<path class="b" d="M404 571 345 583 606 414 374 483 476 508 571 512 476 593 550 425 712 360 461 584 490 449 435 471 559 467 367 481 453 598 693 449 513 538 339 578 666 336 426 479 384 589 514 505 485 418 403 488 484 546 513 575 772 393 575 439 448 515 443 595 380 608 412 503 505 531 461 565 697 432 361 548 480 514"/>
<path class="y" d="M302 351 196 392 399 221 306 358 537 196 434 186 95 318 462 175 400 122 223 372 458 212 426 179 475 182 438 72 235 242 380 173 376 264 244 271 203 341 243 292 340 126 346 332 374 125 556 175 322 351 208 232 428 251 203 373 421 117 281 292 373 118 317 107 220 338 294 184 487 104 583 187 572 140 336 231 428 106 483 76 300 315 177 329 324 204 556 134 304 229 220 360 240 391 391 201 477 89 427 272 508 188 188 317 449 111 222 167"/>
<path class="b" d="M776 412 422 517 726 325 444 442 551 561 697 432 504 591 428 443 365 605 524 548 394 569 790 316 362 592 725 266 470 546 646 476 360 522 796 341 419 523 793 344 781 312 751 255 441 484 674 388 436 442 581 477 697 232 482 424 477 561 504 400 715 337 668 505 767 358 562 424 388 504 736 394 650 500 676 445 440 420 369 533 534 498 432 500 341 483"/>
<path class="y" d="M411 238 201 214 560 98 485 80 246 307 383 206 357 133 229 272 380 270 260 303 116 354 352 204 465 219 551 120 551 130 290 383 274 160 450 59 343 326 447 82 492 29 555 90 506 98 326 278 426 75 372 285 410 228 418 130 511 66 361 130 356 113 281 179 226 247 253 238 242 259 401 292 393 107 281 143 38 398 364 311 465 72 371 268 269 266 378 222 380 302 473 113 544 181 112 285 368 290 422 114 205 250 418 232 237 328 708 222 539 118 429 214"/>
<path class="b" d="M660 356 788 368 732 344 702 455 487 580 467 570 599 513 401 480 468 386 510 482 479 458 477 484 389 553 777 326 790 348 709 320 479 385 651 472 766 406 658 385 281 552 521 475 474 518 738 411 458 378 402 515 453 416 485 406 673 480 756 421 489 468 484 516 520 553 678 447 610 454 400 543 348 613 391 507 606 519 331 617 676 383"/>
<path class="y" d="M265 309 338 247 270 216 369 294 558 186 303 297 391 307 120 370 361 306 392 213 473 194 500 63 432 182 286 174 453 77 404 296 315 300 408 279 609 163 351 237 225 309 162 326 200 346 205 380 652 321 543 138 545 135 506 111 259 266 528 157 309 296 248 222 350 117 537 129 291 251 284 203 587 142 272 362 181 354 334 166 389 254 300 347 278 304 389 265 369 248 410 146 356 324 259 353 403 112 209 360 419 236 469 162 356 292 303 137 457 123 220 197 203 248 319 243 385 272"/>
<path class="b" d="M709 304 746 261 511 421 702 361 611 411 687 387 409 504 385 572 568 500 542 430 552 479 730 324 410 552 513 469 427 456 335 530 460 533 494 575 445 515 609 517 490 384 703 440 570 481 539 517 235 604 447 589 464 415 387 541 673 472 715 371 420 498 350 499 649 510 742 335 749 379 514 574 411 485 759 276"/>
<path class="y" d="M272 174 423 97 484 199 251 275 492 172 262 160 406 197 269 371 490 106 297 159 379 129 527 96 171 359 502 204 211 337 215 271 335 160 276 290 230 325 290 326 286 285 249 217 447 142 727 201 186 319 481 194 358 316 305 204 299 233 363 229 506 79 239 273 261 285 176 358 293 133 204 224 361 267 551 128 591 160 414 174 533 127 280 252 600 151 325 347 577 189 257 360 343 222 407 265 413 104 259 248 210 380 348 190 364 143 464 62 244 229"/>
<path class="b" d="M484 379 377 596 552 570 540 572 433 559 581 440 377 538 426 504 381 604 268 540 624 422 715 419 596 378 581 460 765 292 576 533 681 326 465 469 532 511 696 412 459 397 459 498 417 575 479 549 681 485 652 431 458 444 374 477 516 535 446 491 454 448 712 256 445 442 374 525 466 557 715 390 603 515 558 535 466 546 716 229 427 512 546 418"/>
<path class="y" d="M471 134 406 119 358 151 463 224 410 270 432 100 214 311 676 185 272 341 307 321 285 147 390 223 326 219 451 140 234 196 200 396 360 256 474 95 233 336 455 239 397 273 358 114 477 197 258 263 277 184 186 245 169 350 418 201 72 316 306 149 532 164 393 140 293 277 95 362 387 276 495 154 289 360 494 174 250 347 539 199 444 151 168 237 478 123 347 102 337 190 306 127 144 302 174 305 692 274 349 103 447 172 525 171 393 177"/>
<path class="b" d="M368 533 543 464 365 610 605 517 535 563 318 606 421 421 532 577 400 590 531 509 449 546 697 392 577 468 714 338 480 436 340 610 712 339 722 404 333 509 378 603 252 581 549 512 482 393 752 239 412 529 416 605 498 589 626 483 779 377 603 527 435 526 680 355 670 428 725 308 337 548 550 432 512 415 561 479 575 550 520 581 566 438 545 502 531 537 629 382"/>
<path class="y" d="M335 244 366 251 437 101 301 176 327 331 276 340 354 305 461 194 178 284 526 132 407 137 557 152 294 268 347 102 564 98 177 348 164 402 487 213 182 335 220 181 478 147 493 79 413 258 280 339 162 248 328 144 311 320 458 197 411 134 345 267 362 237 254 148 331 233 414 98 552 171 414 113 373 140 256 344 250 267 372 105 542 216 232 286 358 167 212 358 423 106 234 248 509 139 392 265 267 155 505 149 343 175 203 278"/>
<path class="b" d="M323 526 376 538 361 625 654 456 532 554 734 274 353 599 724 307 519 429 589 547 439 524 544 476 774 402 378 568 386 501 432 456 438 509 592 473 350 588 361 505 598 445 703 299 477 572 439 605 570 437 336 548 525 457 482 431 233 594 767 405 402 584 523 525 516 425 336 523 398 495 671 440 474 377 460 453 765 307 384 454 513 458 428 432 431 606 578 523 460 398"/>
<path class="y" d="M312 246 264 304 418 155 441 175 416 146 529 106 338 329 435 190 450 165 337 260 260 366 319 166 349 262 163 244 337 267 302 117 561 135 395 92 212 245 344 113 386 179 467 207 442 54 347 215 562 165 235 281 339 239 314 204 260 322 477 220 465 158 450 155 494 189 509 66 343 153 140 254 243 366 266 188 312 285 395 183 280 362 523 67 276 171 453 166 542 114 231 165 284 197 306 130 375 296 172 323 474 79 311 180 301 242 369 86 387 154 392 96 538 147 328 133 491 149 453 136 551 100 403 217"/>
<path class="b" d="M441 492 400 559 639 470 454 438 583 486 381 495 768 319 409 475 400 476 523 418 478 476 482 516 404 447 535 448 357 491 549 510 637 415 447 591 500 576 418 573 378 587 781 396 336 556 418 578 170 571 594 413 441 451 495 563 538 549 787 387 402 440 463 496 520 549 725 320 678 337"/>
<path class="y" d="M398 203 551 158 305 326 247 314 355 123 318 309 374 212 330 147 241 375 221 297 255 369 374 154 358 86 404 228 433 229 330 340 259 213 377 175 319 280 468 140 363 299 500 140 499 195 405 131 307 164 203 198 191 303 128 381 291 298 514 153 523 135 255 231 393 158 320 337 458 251 510 104 554 160 393 272 375 99 304 238 465 231 425 149 296 151 491 163 363 320 403 202 331 207 316 235 282 230"/>
<path class="b" d="M519 465 602 404 554 429 591 563 551 471 650 443 693 328 663 419 535 586 276 621 388 497 548 488 629 502 618 513 505 385 632 430 631 483 391 546 399 474 430 472 709 302 464 457 428 491 445 472 500 474 359 606 604 431 339 590 422 601 371 593 597 378 343 495 581 449 662 426 715 366 402 465 558 562 458 435 540 521 587 507 688 404 769 386 513 446 485 587 640 213 482 555 302 552 373 580"/>
<path class="y" d="M460 158 300 310 516 149 214 255 472 168 381 251 416 77 559 182 120 442 376 188 209 235 270 366 541 105 231 178 531 110 459 225 464 99 499 201 242 233 376 222 443 112 393 220 246 153 497 96 327 227 344 180 358 158 555 182 309 202 191 232 504 127 310 269 325 162 195 359 336 256 506 165 346 238 369 113 385 207 226 265 425 216 236 234 258 227 275 349 497 164 331 176 636 158 447 198 375 157 254 367 297 285"/>
<path class="b" d="M770 305 469 570 475 420 350 548 227 579 364 595 648 423 468 492 589 450 560 476 660 374 589 483 726 329 500 453 579 476 588 527 590 457 533 485 277 619 381 590 746 379 704 307 327 523 503 548 391 473 705 332 748 340 627 415 700 355 731 446 488 500 729 418 489 567 653 501 448 495 598 518 508 514 646 428 367 491 454 573 443 548 719 412 797 353 418 539 598 500 457 481"/>
<path class="y" d="M551 215 208 181 397 140 571 187 381 187 321 206 248 359 528 136 277 192 209 185 168 248 373 310 518 210 250 335 252 189 386 79 554 71 297 263 589 158 183 350 503 123 526 154 481 59 483 105 355 116 468 77 308 296 545 77 445 85 122 339 226 207 493 136 529 154 325 273 341 247 280 238 361 98 335 190 363 123 446 230 397 136 456 198 456 207 329 131 350 321 557 169 355 287 319 272 463 137 213 263 230 188 416 291 198 349 479 109 396 86 466 189 448 105 203 246 186 291"/>
<path class="b" d="M438 585 426 432 456 519 688 457 371 518 494 553 569 516 367 527 342 558 464 383 759 393 438 579 508 533 696 401 487 481 448 453 440 419 444 456 388 570 556 428 388 517 660 459 506 533 518 530 701 399 724 370 423 441 609 387 437 425 496 436 397 585 450 496 496 481 421 535 373 462 372 585 714 385 524 581"/>
<path class="y" d="M357 334 231 356 539 178 400 246 440 203 507 199 395 183 510 184 387 284 245 220 219 265 455 161 318 130 212 321 429 209 224 259 408 233 505 102 256 335 264 259 229 292 433 70 216 319 483 143 470 57 542 174 243 349 245 178 263 292 319 223 459 184 380 297 384 114 208 255 205 365 538 179 462 101 152 248 346 124 350 255 339 198 378 125 369 172 422 182 520 113 567 121 255 300 457 120 499 111 196 262 225 383 288 244 286 300 251 287 509 71 359 205 384 88"/>
<path class="b" d="M414 483 752 322 720 428 560 487 391 459 787 327 703 428 340 492 728 452 666 478 376 518 359 544 633 396 620 396 367 589 638 393 726 386 483 504 252 565 519 432 456 395 508 583 678 369 711 425 365 521 666 492 366 547 693 372 431 422 419 486 508 504 539 578 789 315 473 595 442 514 524 436 688 486 514 517 728 414"/>
</g></g>
<rect class="leg" x="894.3" y="470.6" width="97" height="73.1" rx="3.5"/>
<circle class="lm" cx="926.6" cy="490.6" r="4.45" fill="#93380c"/>
<text class="lt" transform="translate(968.6 496.5) scale(1 .96)">1</text>
<circle class="lm" cx="926.6" cy="523.7" r="4.45" fill="#fdb70f"/>
<text class="lt" transform="translate(968.6 529.6) scale(1 .96)">2</text>
<g class="tick" text-anchor="middle">
<text transform="translate(638.7 813.3) scale(1 1.085)">−2</text>
<text transform="translate(740.9 813.3) scale(1 1.085)">−1</text>
<text transform="translate(843.1 813.3) scale(1 1.085)">0</text>
<text transform="translate(945.3 813.3) scale(1 1.085)">1</text>
</g>
<g class="tick" text-anchor="end">
<text transform="translate(573.9 483) scale(1 1.085)">2</text>
<text transform="translate(573.9 559.4) scale(1 1.085)">1</text>
<text transform="translate(573.9 635.8) scale(1 1.085)">0</text>
<text transform="translate(573.9 712.2) scale(1 1.085)">−1</text>
<text transform="translate(573.9 788.6) scale(1 1.085)">−2</text>
</g>
<text class="lab" text-anchor="middle" x="790.8" y="840.3"><tspan class="it">f</tspan><tspan class="sub" dy="4.6">1</tspan></text>
<text class="lab" text-anchor="middle" transform="translate(536.4 623.6) rotate(-90)"><tspan class="it">f</tspan><tspan class="sub" dy="4.6">2</tspan></text>
</g>
<g id="panel7">
<rect class="bg" x="1091.9" y="459.1" width="424.2" height="330.9"/>
<path class="grid" d="M1144.2 459.1V790M1259.3 459.1V790M1374.4 459.1V790M1489.5 459.1V790M1091.9 483.6H1516.1M1091.9 552.5H1516.1M1091.9 621.3H1516.1M1091.9 690.1H1516.1M1091.9 759H1516.1"/>
<clipPath id="c6"><rect x="1091.9" y="459.1" width="424.2" height="330.9"/></clipPath>
<g class="p" clip-path="url(#c6)"><g transform="translate(1091.9 459.1) scale(.5)">
<path class="l" d="M513 349 575 321 625 222 786 350 584 368 624 368 536 313 415 380 453 313 653 301 407 353 603 238 650 289 713 295 529 268 645 325 688 287 744 395 720 370 624 342 667 239 499 351 629 311 670 233 546 253 520 261 458 379 419 406 606 363 541 424 607 324 487 268 610 304 463 391 488 292 697 331 474 298 548 271 526 382 437 311 715 264 750 406 574 355 643 215"/>
<path class="y" d="M159 507 126 490 161 430 170 440 295 410 370 429 411 522 301 403 223 500 281 400 330 396 183 447 317 493 330 501 174 430 147 497 322 416 356 503 378 470 359 414 143 479 201 513 273 408 314 386 214 444 204 433 310 457 88 464 251 446 243 509 119 478 203 420 338 384 292 538 248 522 181 489 227 548"/>
<path class="b" d="M438 246 388 114 294 180 473 247 417 196 317 277 402 256 414 237 251 255 369 228 483 266 181 240 250 82 395 363 275 310 590 106 511 120 221 320 280 180 390 75 290 244 317 246 272 163 242 197 271 298 222 191 296 208 275 327 489 191 273 321 312 195 490 119 261 185 440 199 502 230 440 214 378 113 205 297 419 142 305 211 461 170 193 262 383 172 462 257 279 138"/>
<path class="l" d="M568 266 590 356 500 290 665 246 648 346 460 336 632 333 655 243 584 379 693 349 539 279 491 281 657 377 561 363 737 311 489 315 701 304 671 352 498 395 741 355 603 280 555 344 405 423 566 408 390 399 638 297 555 255 528 354 650 297 475 351 567 409 594 372 477 393 661 347 695 329 529 400 427 432 434 416 545 260 646 270 747 347 581 396 366 371"/>
<path class="y" d="M395 522 292 377 396 454 383 411 389 365 225 492 387 413 323 444 426 397 293 383 180 524 378 427 215 494 235 479 287 493 273 397 223 506 211 494 375 521 376 447 132 416 186 489 315 473 348 489 295 414 394 445 327 399 184 456 410 444 409 385"/>
<path class="b" d="M190 138 281 227 238 128 328 147 349 223 406 303 198 251 254 167 466 223 406 235 406 223 264 302 227 170 370 351 436 230 366 184 281 288 226 249 280 175 493 251 229 195 316 295 216 317 284 193 379 245 367 105 413 268 280 232 252 117 299 295 235 250 408 218 504 154 346 209 194 213 292 281 411 130 450 267 215 124 447 119 280 294 313 283 291 315 553 173 494 195 408 233 403 268 275 212 319 143 469 263 264 308 275 183 389 146"/>
<path class="l" d="M682 263 572 396 683 353 663 256 463 298 543 372 571 375 547 392 719 340 537 265 595 406 710 319 500 288 720 279 645 299 666 267 427 372 564 249 475 344 639 433 642 462 764 422 564 408 536 287 571 377 668 222 732 355 671 256 404 420 452 405"/>
<path class="y" d="M257 419 268 429 213 590 338 432 265 465 283 524 259 528 227 410 145 423 266 433 252 482 249 494 376 519 439 516 221 406 207 392 338 422 228 460 70 486 421 424 154 447 269 385 354 463 257 422 322 428 330 519 228 488 135 469 414 466 278 372 310 485 414 459 148 423 367 515 214 498 290 362 433 460 442 497 308 519"/>
<path class="b" d="M218 214 448 243 408 281 218 263 287 344 379 187 397 307 494 366 443 123 315 170 253 92 320 202 193 168 341 198 338 385 410 126 368 163 337 238 402 187 221 186 277 191 399 297 382 310 410 170 466 223 304 300 393 254 236 240 221 295 301 233 334 342 375 29 244 281 279 319 437 252 164 205 225 289 325 237 270 162 288 288 301 240 209 259 332 347 450 253 329 319 399 291 435 175 471 165 235 306 444 295 200 170 316 260 326 117 234 131 501 218 341 240 282 136"/>
<path class="l" d="M715 298 593 327 693 321 629 415 641 337 528 315 416 366 697 317 593 271 518 386 617 227 527 400 721 279 670 357 646 345 483 284 466 313 688 246 350 368 617 318 503 244 651 353 456 354 670 234 485 304 649 291 545 377 668 335 525 322 506 371 706 326 459 425 474 320 594 368 521 406 460 300 527 292 590 266 808 359 560 332 553 367 766 321 628 249 583 356 527 327 450 370"/>
<path class="y" d="M269 538 319 479 117 497 300 404 142 458 363 451 163 445 289 383 360 369 194 501 168 522 426 517 231 418 221 539 157 393 413 449 360 430 323 359 270 448 274 520 280 507 156 495 147 491 385 458 141 510"/>
<path class="b" d="M332 167 273 248 235 224 287 132 432 145 366 233 369 123 320 212 339 125 217 254 310 309 333 243 200 149 388 128 208 254 374 364 318 224 295 45 256 199 277 163 279 227 351 336 368 191 480 186 402 304 282 318 228 255 322 286 393 158 339 208 430 126 291 175 356 309 556 329 433 142 285 207 478 223 384 167 273 211 489 201 356 317 386 235 254 275 477 247 313 126 236 315 211 265 321 257 474 163 122 222 272 180 292 203 379 248 296 134 250 205"/>
<path class="l" d="M750 306 639 386 624 244 414 333 811 361 683 246 659 344 499 259 672 298 590 320 494 238 449 396 719 298 457 283 620 388 548 374 617 411 738 383 706 354 475 336 446 288 612 354 634 336 674 368 815 367 655 261 749 314 535 398 545 402 548 285 595 364 439 327 552 390 692 319 487 303 653 401 517 274 756 331 644 284 388 399 597 324 673 347 566 403 502 274 580 353 496 308 745 285"/>
<path class="y" d="M127 499 250 381 297 440 131 468 381 478 231 438 312 456 186 448 403 483 385 530 315 542 246 433 345 538 228 474 193 519 104 450 348 462 126 470 135 484 252 404 322 508"/>
<path class="b" d="M226 297 227 180 216 302 212 204 360 286 402 276 58 248 483 226 346 137 335 128 507 217 317 139 325 209 486 217 338 353 481 138 570 98 348 333 320 190 374 172 249 281 373 268 366 415 477 195 558 114 285 217 227 299 272 183 138 186 325 285 348 155 328 121 306 254 374 225 184 261 357 310 306 270 392 193 205 301 268 370 429 286 279 243 340 224 444 219 491 236 381 348 309 169 439 197 280 359 274 175 534 198 298 250 407 197 441 148 425 286 414 344 361 243 320 239"/>
<path class="l" d="M776 384 499 410 605 231 502 279 490 315 658 244 479 318 524 253 658 364 666 279 545 360 477 368 751 359 632 210 742 363 417 303 663 345 520 278 494 299 646 342 786 363 590 225 724 306 491 401 499 307 658 377 471 276 655 366 671 248 389 374 605 261 462 347 464 309 700 273 463 320 799 383 639 359 793 279 768 321 429 439 531 401 390 367 526 263 527 312 592 290 378 422"/>
<path class="y" d="M327 385 169 455 329 406 154 403 132 476 137 410 206 464 280 451 238 414 275 535 442 454 209 516 277 534 316 526 198 457 154 459 269 410 233 532 238 441 385 484 352 476 373 500 207 505 246 419 97 471 426 295 386 421 323 510 393 392 329 515 354 431 166 438 320 417"/>
<path class="b" d="M284 132 469 230 324 155 245 237 427 186 299 214 339 225 239 309 413 177 363 250 335 244 483 166 334 124 398 374 416 283 357 216 355 125 326 325 546 126 405 159 421 237 415 236 220 180 506 96 254 298 288 319 172 248 307 251 267 218 373 226 301 221 377 289 509 123 230 220 407 224 395 120 303 307 397 270 367 325 326 148 431 214 504 165 280 257 381 234 401 195 467 141 392 35"/>
<path class="l" d="M579 277 444 381 682 344 604 406 772 267 494 284 604 252 645 280 542 432 625 256 500 265 652 239 539 245 428 389 718 310 725 319 679 369 595 241 507 389 728 369 446 319 487 294 518 301 657 303 489 354 472 318 599 236 642 264 588 359 565 316"/>
<path class="y" d="M317 461 282 531 304 436 210 512 310 454 202 446 169 422 195 431 274 419 330 352 134 428 190 486 355 419 154 457 203 415 374 407 362 514 208 470 356 401 238 367 368 515 287 366 276 419 274 576 280 463 348 410"/>
<path class="b" d="M430 277 309 334 345 145 344 236 374 196 241 309 334 254 401 109 429 301 372 299 258 187 388 182 240 226 346 253 198 315 197 298 557 101 436 171 452 223 303 209 225 169 328 247 313 207 236 295 188 196 302 339 347 131 459 223 379 201 319 297 321 158 475 223 217 248 261 106 291 321 349 135 308 127 341 115 411 290 292 269 303 172 364 307 286 243 482 195 315 135 317 294 454 132 364 129 371 147 291 143 351 143 415 281 361 290 520 181 379 315 221 182 459 269 322 264 436 297 358 165 482 251 463 105 374 171 163 205 363 284 507 192 444 218 193 234 358 133 348 281"/>
<path class="l" d="M576 398 436 304 615 308 582 382 542 381 664 285 676 242 587 387 643 271 658 305 526 272 533 269 487 331 490 293 426 412 447 314 673 340 764 361 473 397 582 281 742 245 606 344 492 276 549 375 737 307 603 297 755 335 583 260 713 287 487 303 704 356 565 345 632 331 673 240 560 386 701 250 604 268 549 376 428 444 595 366 734 358 383 348"/>
<path class="y" d="M300 418 361 467 374 344 197 477 333 446 247 504 290 377 156 519 193 473 144 458 336 413 173 493 422 469 163 494 409 461 168 404 176 430 243 415 177 461 179 404 331 432 157 472 175 457 291 539 336 529 139 522 346 480 242 400 94 474 375 503 125 444 439 418 267 536"/>
<path class="b" d="M224 281 244 196 365 280 392 211 217 250 306 314 409 128 447 217 314 223 411 213 376 151 449 237 268 168 290 287 376 358 422 197 393 180 354 262 341 325 254 252 374 28 213 197 147 211 433 96 405 368 227 271 280 249 365 195 191 225 414 168 244 258 379 229 495 190 300 208 279 336 213 247 270 228 410 136 356 140 211 240 425 147 341 342 362 133 356 218 527 140 376 235 307 117 328 175 249 314 268 361 385 126"/>
<path class="l" d="M652 390 552 368 720 358 556 319 547 253 570 353 611 241 649 394 483 348 551 275 731 370 672 292 667 397 541 323 655 247 596 276 656 231 483 372 467 333 681 279 465 312 698 250 583 301 544 268 629 410 538 227 649 354 483 329 584 333 491 324 471 317 444 381 613 290 436 286 685 403"/>
<path class="y" d="M201 521 378 379 378 450 194 494 268 514 191 460 245 536 275 532 300 398 244 546 400 397 327 522 278 368 410 470 545 434 120 464 192 475 231 457 285 424 255 494 393 495 195 418 187 524 417 420 409 492 354 489 304 408 231 416 210 460 175 401 265 462 323 438 345 539 166 500 307 542 380 480 231 514 213 452 204 493"/>
<path class="b" d="M354 286 495 239 357 167 455 44 260 281 197 288 501 215 462 96 323 286 388 206 303 181 280 289 385 337 415 266 228 312 464 243 387 212 323 165 385 169 133 231 491 125 373 117 274 220 222 266 429 265 109 312 348 206 387 270 250 252 336 187 204 231 397 290 365 306 190 241 312 363 397 180 272 167 406 206 309 355 246 221 461 223 297 287 365 319 397 179 312 293 295 110 556 329 327 252 392 204 261 213 282 308 458 168"/>
<path class="l" d="M482 284 617 333 790 434 506 339 478 330 503 400 687 346 450 392 555 342 571 361 770 410 559 355 542 287 547 282 721 291 804 364 730 388 545 411 554 284 699 272 338 426 549 324 542 355 599 414 631 295 493 339 567 261 551 371 521 289 711 267 542 229"/>
<path class="y" d="M365 493 394 383 333 455 394 441 180 497 396 409 376 395 294 409 372 459 58 464 311 480 373 388 139 482 292 433 357 493 382 413 356 291 375 381 327 442 334 473 194 494 297 467 385 458 251 524 254 487 285 444 326 521 371 406 239 431 319 478 332 391 450 483 229 467 252 498"/>
<path class="b" d="M223 283 306 178 338 392 286 197 387 216 401 181 504 175 458 179 418 125 272 270 273 241 434 124 519 184 310 329 257 251 487 221 502 166 359 123 479 206 296 256 539 107 507 213 320 268 269 195 266 296 285 306 209 248 334 168 285 217 414 229 318 125 386 229 209 186 440 216 333 258 198 241 304 189 352 280 360 411 318 80 338 277 472 143 250 82 461 131 208 221 364 355 345 139 379 180 307 200 343 211 271 248 428 262 483 216 265 224 410 209 493 194 455 216 286 165 241 199 422 280 327 182"/>
<path class="l" d="M424 427 535 368 459 306 715 346 553 321 522 289 413 327 388 349 558 292 746 275 809 377 648 402 688 257 482 314 470 435 504 339 765 263 703 227 622 363 648 299 480 330 510 333 786 322 422 442 637 232 527 280 615 257 439 436 534 377 642 267 639 360 469 304 672 357 491 366 326 406 446 368 642 284 732 398 676 287 475 324 523 297 526 246 488 351 445 341"/>
<path class="y" d="M197 457 203 556 403 492 195 473 250 346 273 431 305 380 318 496 359 369 349 478 210 472 374 415 373 506 360 450 272 490 343 466 397 340 390 371 273 495 82 450 250 522 357 516 37 511 248 390 412 438 221 440 319 497"/>
<path class="b" d="M182 205 309 368 500 176 368 377 254 166 294 44 325 345 301 114 339 287 463 249 369 248 495 218 278 189 323 181 394 374 261 239 362 251 333 316 345 252 448 147 301 206 384 140 451 163 355 86 149 254 275 356 259 242 274 198 177 303 405 265 492 109 493 152 272 312 503 217 415 269 193 201 346 270 358 295 413 86 298 322 217 289 504 176 472 168 345 137 454 149 211 269 301 200 287 126 205 234 194 267 299 233 387 199 476 227 199 320 453 238"/>
<path class="l" d="M640 325 475 281 672 397 753 257 795 286 649 388 524 333 556 409 489 329 590 392 592 314 524 367 756 417 531 289 576 337 580 268 583 279 550 335 608 333 647 372 640 350 458 346 667 398 532 280 493 380 711 384 741 321 609 225 623 419 645 238 386 409 649 277 405 381 606 273 658 363 657 284 601 371"/>
<path class="y" d="M174 418 248 492 308 441 338 421 217 549 386 519 320 497 392 444 117 437 352 420 282 372 329 398 131 405 231 521 190 505 227 533 131 512 135 474 112 428 293 468 285 400 201 394 139 478 244 484"/>
<path class="b" d="M271 266 512 224 477 225 480 222 198 253 229 233 229 269 187 312 330 190 372 350 391 323 458 158 341 131 236 295 200 194 255 164 288 301 188 268 252 333 250 181 337 394 519 166 373 169 230 259 487 158 291 319 476 194 438 196 366 326 474 133 426 209 463 292 212 304 298 178 318 269 158 210 392 173 452 179 194 264 199 231 270 187 356 414 358 321 329 127 271 239 286 294 335 290 402 139 488 164 552 176 203 251 610 228 486 161 484 241 209 214 291 176 270 271 362 313 514 101 391 192 455 213 340 329 317 159 351 332 399 201"/>
<path class="l" d="M395 412 589 270 426 462 475 326 574 346 495 300 659 287 580 262 770 362 538 312 419 382 686 285 500 267 697 319 709 254 691 390 708 365 570 234 645 372 476 336 701 358 762 361 671 278 489 317 663 339 421 299 528 346 445 408 617 233 474 327 633 219 596 292 464 304 410 290 639 261 627 421 523 273 633 405 525 310 702 322 598 401 675 355 504 376 629 294 662 284 381 400 628 305 629 361 561 368"/>
<path class="y" d="M365 399 301 423 250 543 303 389 316 374 299 526 361 407 226 537 265 444 228 528 342 408 234 461 204 406 244 531 318 449 201 433 126 457 175 439 384 452 295 418 338 449 282 390 180 464 238 574 244 390 353 491 359 437"/>
<path class="b" d="M463 221 372 261 190 223 527 126 387 249 430 139 331 309 288 290 417 200 299 220 206 286 260 168 329 218 218 276 281 324 416 203 282 150 207 262 357 329 195 262 394 309 329 217 420 171 459 158 481 146 286 95 480 231 243 191 262 115 400 190 395 211 303 152 486 200 349 183 265 304 372 280 251 211 400 222 375 194 387 235 401 256 590 106 360 304 333 175 348 363 145 198 267 257 409 284 193 243 401 306"/>
<path class="l" d="M380 392 596 403 650 286 564 296 409 405 552 400 613 354 553 370 668 310 550 385 598 369 485 346 442 352 732 281 610 311 458 288 605 283 540 289 628 335 629 309 541 401 489 287 601 376 572 385 444 331 535 277 689 305 694 288 711 269 465 327 450 444 700 383 678 359 495 281 641 240 489 407 477 317 473 448"/>
<path class="y" d="M292 437 150 522 177 434 182 532 272 332 255 427 281 501 310 539 338 478 334 400 226 525 387 499 394 450 235 446 106 452 259 438 240 462 181 507 320 482 88 455 234 402 338 599 134 413 442 422 384 428 340 362 404 417 157 427 209 489 360 498 324 432 266 368 317 437 318 478 225 530 399 476 415 430"/>
<path class="b" d="M370 74 457 236 258 222 373 232 370 234 455 220 405 127 301 316 301 245 287 310 195 286 234 271 226 263 281 268 558 108 475 147 365 320 326 301 355 375 341 352 363 286 475 143 162 252 534 107 226 187 304 175 275 300 398 225 271 302 423 237 215 259 303 332 420 164 417 160 323 229 238 172 527 122 406 207 333 363 347 294 484 183 432 241 223 211 391 180 258 153 205 277 491 211 395 155 329 148 193 260 479 200"/>
<path class="l" d="M488 414 476 354 479 376 450 339 679 300 706 334 602 316 513 347 780 373 647 329 696 342 424 393 716 375 710 337 620 309 430 278 510 345 648 411 696 348 689 374 536 403 706 300 701 351 444 343 526 331 703 280 720 311 519 250 378 394 616 243 440 376 462 347 654 259 715 325 444 402 599 254 391 406 695 296 470 317 456 272 573 258 571 226 632 241 619 410"/>
<path class="y" d="M342 407 307 465 294 472 280 428 327 504 354 483 231 395 380 519 267 382 285 378 257 448 271 537 282 522 132 505 320 513 247 443 180 455 299 534 210 515 246 389 310 451 193 448 285 518 222 430 280 545 160 500 304 500 278 467 208 548 360 486 185 495 352 464 168 428 226 479"/>
<path class="b" d="M258 248 258 221 355 217 335 130 433 163 354 179 318 229 395 153 354 285 146 200 445 131 456 218 512 156 338 328 461 241 411 154 327 255 445 264 304 209 253 231 490 157 317 322 258 202 344 129 512 184 366 221 367 267 285 239 460 161 408 268 227 343 320 230 278 198 501 184 270 171 333 159 296 313 341 74 399 173 255 302 217 257 501 199 314 326 244 217 333 313 199 228 338 331 266 302"/>
<path class="l" d="M654 370 706 279 650 245 803 359 755 287 352 398 429 311 620 294 489 329 790 398 555 382 635 302 536 313 355 362 593 471 497 295 537 366 546 346 666 300 638 395 575 351 787 359 579 280 520 273 733 399 653 381 603 286 488 288 689 267 727 350 610 317 622 250 507 270 393 377 457 330 572 251 647 338 451 338 381 371 790 352"/>
<path class="y" d="M397 371 323 508 193 457 221 501 219 413 276 468 253 511 398 385 381 491 261 469 270 448 265 473 414 481 328 481 340 430 187 464 298 489 174 399 214 356 258 567 322 409 146 468 341 453 300 496 224 478 340 410 139 501 245 466 352 427 214 407 228 521"/>
<path class="b" d="M252 297 262 174 252 239 311 310 227 234 196 210 363 203 355 210 424 168 170 156 475 258 343 175 400 126 297 320 437 131 379 269 386 125 345 166 357 279 276 258 477 171 359 257 325 149 234 171 330 344 270 212 354 329 311 353 467 154 478 135 424 159 347 276 263 213 367 312 301 132 353 288 327 217 374 176 109 313 182 166 493 196 238 232 319 154 400 271 293 217 190 274 254 186 229 295 509 196 468 89 244 254 394 277 213 301 308 88 405 254"/>
<path class="l" d="M656 412 540 249 483 325 814 424 666 284 530 320 639 382 435 412 684 318 731 254 644 314 673 260 669 280 675 366 657 244 442 455 535 437 560 267 527 360 536 351 441 307 674 270 542 259 691 355 501 309 704 280 644 313 711 360 558 396 454 367 585 341 598 362 558 186 710 294 457 333"/>
<path class="y" d="M274 519 217 412 170 515 311 498 230 475 406 493 232 377 341 489 86 406 286 405 239 451 253 377 182 486 288 533 215 487 156 488 275 488 369 375 392 469 199 510 192 495 302 492 379 543 369 405 183 419 415 386 330 497 300 539 274 391 192 448 415 465 158 459 199 524 351 391 169 438"/>
<path class="b" d="M470 201 477 195 390 120 233 252 269 342 389 295 411 201 345 254 454 43 323 182 458 225 280 224 309 311 355 239 416 264 400 156 212 208 316 150 231 279 484 157 432 261 494 161 405 122 250 234 222 250 320 316 384 289 190 282 498 117 406 98 352 142 407 159 336 297 342 320 457 201 371 127 362 358 477 199 425 229 291 242 222 266 181 309 319 315 257 147 347 223 149 179 282 159 374 339 362 209 218 237 316 195 310 190 245 297 374 339 250 214 309 157"/>
<path class="l" d="M760 252 585 233 579 248 611 229 664 261 471 368 550 304 540 403 586 287 665 351 637 255 686 278 458 332 592 367 615 285 674 377 632 246 795 298 578 174 605 391 625 316 615 314 617 339 684 253 450 335 730 336 484 414 598 236 441 412 637 248"/>
<path class="y" d="M228 401 418 382 269 511 277 462 384 450 241 470 201 459 263 432 167 495 178 479 409 440 122 497 201 416 365 467 253 527 412 466 137 456 215 502 205 447 309 631 379 443 242 490 257 429 413 403 218 394 357 424 272 552 135 440 385 490 339 462 394 345 412 454 305 525 194 406 278 473"/>
<path class="b" d="M311 131 405 179 514 177 362 230 485 199 420 245 266 289 408 180 400 244 423 185 208 321 395 248 433 141 264 194 237 261 231 294 427 234 433 276 250 209 319 327 374 352 485 140 196 242 371 134 513 192 272 265 439 145 326 154 363 199 373 290 432 203 239 160 297 165 373 304 355 348 388 126 325 196 434 216 465 150 223 301 389 304 223 239 310 320 331 260 465 189 385 291 382 289 324 167 212 235 485 203 401 137 371 145 278 144 209 203 275 310 472 254 363 365 238 269 371 124 408 285 265 151"/>
<path class="l" d="M518 389 424 433 397 341 605 361 757 399 479 335 634 247 469 329 469 368 551 416 717 291 493 322 608 306 659 273 404 297 528 369 777 416 726 297 421 464 638 327 599 238 547 377 641 270 569 311 555 420 617 328 603 307 597 422 650 252 659 363 609 271 436 308 622 399 556 313 534 254 664 369 804 379 601 393 419 326 486 263 650 315 671 232"/>
<path class="y" d="M270 505 360 463 382 482 347 526 154 394 387 419 214 439 320 411 389 475 367 441 381 364 244 545 151 480 364 370 262 508 320 410 298 475 221 486 238 537 171 412 343 452 108 435 192 445 395 458 293 448 260 488 289 489 291 495 200 519 373 465 151 440 343 405 189 488 302 526"/>
<path class="b" d="M230 210 359 335 347 154 415 147 412 295 490 247 237 235 294 245 284 183 326 118 344 354 197 283 397 192 361 103 311 153 376 174 208 268 321 272 459 138 294 346 388 320 351 334 516 189 313 158 367 153 397 232 314 144 326 166 350 66 418 135 387 304 402 196 275 146 239 293 404 152 230 203 347 116 339 339 265 311 330 128 289 304 353 237 466 236 230 252 392 135 221 297 318 200 409 345 284 322 287 273"/>
<path class="l" d="M689 284 563 276 621 268 431 323 434 453 706 271 523 343 713 335 707 304 448 350 653 363 450 315 601 382 489 292 655 373 445 336 408 387 511 403 706 290 740 296 727 312 501 292 484 308 514 385 655 383 713 294 511 382 667 273 615 327 514 318 710 355 671 401 582 451 503 319 794 298 566 302 499 326 392 316 559 329 546 341 431 330 508 398 740 285"/>
<path class="y" d="M326 425 166 520 350 490 328 505 271 478 214 404 446 490 236 384 249 356 322 393 327 487 283 382 309 377 305 381 172 510 409 443 373 485 362 493 206 522 154 479 218 490 183 519 272 388 175 520 375 447 166 488 163 495 365 451 202 502"/>
<path class="b" d="M281 286 276 289 59 249 350 217 437 238 364 201 262 154 215 163 500 190 216 281 456 169 385 280 391 117 472 139 401 244 286 205 243 172 347 276 274 140 321 141 345 236 503 226 375 217 330 197 225 230 393 35 355 304 251 313 352 247 408 165 252 193 243 261 486 118 407 171 311 136 381 326 382 280 316 143 344 157 183 263 330 287 220 205 309 336 174 261 227 180 460 207 373 242 344 259 368 159 447 237 292 197 375 175 326 294 392 202"/>
<path class="l" d="M592 414 648 330 731 258 768 332 569 327 453 291 496 227 445 359 661 233 582 283 723 366 548 239 619 325 558 264 540 353 789 365 736 262 598 380 568 380 551 248 727 256 501 355 701 273 505 365 637 379 613 396 590 242 504 418 735 323 570 315 393 387 563 375 613 370 666 353 417 441 547 276 562 354 696 280 608 395 443 429"/>
<path class="y" d="M243 426 345 369 209 399 337 507 120 419 403 482 220 481 125 453 344 472 208 399 218 512 178 471 252 511 323 404 247 479 329 434 357 482 373 518 369 482 209 461 154 430 291 386 422 504 231 366 308 501 335 491 255 493 246 465 280 453 242 524 232 401 194 473"/>
<path class="b" d="M480 164 376 231 270 85 288 253 217 286 279 234 308 236 394 301 226 189 368 132 485 193 198 139 292 200 351 255 272 175 398 243 286 145 218 142 482 263 499 186 345 139 275 264 471 198 250 301 289 183 371 263 283 190 333 244 296 225 424 295 333 164 398 122 288 145 371 126 347 304 401 122 518 216 357 254 295 246 365 136 314 303 294 304 202 281 277 247 393 287 432 243 308 324 449 175 394 337 345 126 228 180 416 252 301 157 200 243"/>
<path class="l" d="M398 450 595 337 498 286 452 427 426 322 793 323 628 258 609 328 615 256 653 271 489 330 604 338 613 294 542 398 671 346 588 413 664 237 586 262 517 242 601 288 412 333 447 423 574 402 487 357 558 398 641 393 518 338 399 359 787 300 652 239 430 442 481 354 512 299 587 343 493 279 792 366 626 260 625 378 658 320"/>
<path class="y" d="M262 394 210 434 218 435 387 496 307 466 364 415 164 422 358 475 276 430 348 517 251 437 321 457 270 535 298 405 125 399 330 417 264 418 284 434 297 461 358 421 206 543 309 518 376 506 352 533 156 429 312 381 191 493 284 485 275 504 233 508 271 450 298 443 380 446 220 502 293 417 351 436 119 472 279 464"/>
<path class="b" d="M427 219 217 186 226 133 406 287 309 175 379 346 277 145 417 259 364 269 425 261 302 263 451 155 227 179 255 121 308 224 305 279 463 271 286 307 503 226 424 140 469 201 336 261 360 257 171 244 415 240 249 144 339 225 494 157 248 243 330 75 236 312 209 227 358 199 284 320 465 159 323 305 219 216 428 192 253 196 270 324 374 217 202 242 287 309 398 218 236 202 315 287 378 249 483 261 188 294"/>
<path class="l" d="M589 397 725 302 548 359 566 377 592 399 627 387 643 337 621 212 427 348 683 314 618 290 778 409 444 417 477 356 615 312 374 341 678 299 613 277 606 315 562 415 505 326 627 240 695 343 554 279 418 410 405 352 595 350 454 389 627 362 691 320 499 301 609 249 465 286 466 422 611 267 666 303 601 243 647 272 513 422 617 247"/>
<path class="y" d="M148 480 433 428 386 433 225 385 108 473 104 328 347 507 329 441 181 522 311 454 364 457 362 486 277 456 210 409 312 534 424 372 401 431 169 474 390 435 234 397 173 504 293 510 178 498 284 501 233 502 194 512"/>
<path class="b" d="M370 174 282 278 276 171 362 150 395 166 352 306 288 150 478 177 479 180 265 167 366 298 328 212 388 213 236 157 451 160 349 119 302 191 404 310 290 230 438 224 376 155 256 268 423 164 258 241 388 293 300 267 259 158 341 216 335 212 307 321 217 229 446 239 367 211 349 216 494 201 232 250 407 117 386 205 375 312 403 177 390 216 280 129 255 261 329 328 397 127 403 262 327 262 209 197 210 262 245 164 411 133 298 302 398 278 379 219 486 210 325 237 303 345 303 338 227 168 460 201"/>
<path class="l" d="M556 314 651 373 494 313 616 299 458 406 678 310 490 286 688 391 411 357 805 420 667 371 650 360 630 342 698 381 620 232 805 419 516 384 449 339 722 399 732 257 616 217 493 257 637 396 517 261 752 400 659 339 783 335 564 305 521 391 435 304 515 252 522 375 548 309 726 304 580 344 688 268 694 329 618 302 699 286"/>
<path class="y" d="M265 482 224 539 299 476 184 504 185 492 271 496 229 460 218 488 181 449 441 473 247 547 230 474 330 354 267 399 262 532 398 388 372 512 478 538 145 439 256 474 385 436 365 487 291 438 350 437 166 441 157 406 241 495"/>
<path class="b" d="M480 135 144 215 347 179 538 137 391 295 212 295 246 158 332 212 238 287 381 340 391 250 250 296 392 181 328 292 538 187 393 222 341 190 412 246 210 175 289 154 429 214 291 166 403 281 230 259 421 279 346 236 442 161 454 130 183 223 352 342 275 292 291 282 243 248 254 310 200 260 130 212 360 326 361 197 365 221 261 275"/>
</g></g>
<rect class="leg" x="1407.5" y="470.8" width="97" height="106.2" rx="3.5"/>
<circle class="lm" cx="1439.8" cy="490.8" r="4.45" fill="#93380c"/>
<text class="lt" transform="translate(1481.8 496.7) scale(1 .96)">1</text>
<circle class="lm" cx="1439.8" cy="523.9" r="4.45" fill="#fdb70f"/>
<text class="lt" transform="translate(1481.8 529.8) scale(1 .96)">2</text>
<circle class="lm" cx="1439.8" cy="557" r="4.45" fill="#fafad0"/>
<text class="lt" transform="translate(1481.8 562.9) scale(1 .96)">3</text>
<g class="tick" text-anchor="middle">
<text transform="translate(1144.5 813.5) scale(1 1.085)">0.0</text>
<text transform="translate(1259.6 813.5) scale(1 1.085)">0.5</text>
<text transform="translate(1374.7 813.5) scale(1 1.085)">1.0</text>
<text transform="translate(1489.8 813.5) scale(1 1.085)">1.5</text>
</g>
<g class="tick" text-anchor="end">
<text transform="translate(1088 493.6) scale(1 1.085)">1.5</text>
<text transform="translate(1088 562.5) scale(1 1.085)">1.0</text>
<text transform="translate(1088 631.3) scale(1 1.085)">0.5</text>
<text transform="translate(1088 700.1) scale(1 1.085)">0.0</text>
<text transform="translate(1088 769) scale(1 1.085)">−0.5</text>
</g>
<text class="lab" text-anchor="middle" x="1304.5" y="840.3"><tspan class="it">f</tspan><tspan class="sub" dy="4.6">1</tspan></text>
<text class="lab" text-anchor="middle" transform="translate(1028.4 623.6) rotate(-90)"><tspan class="it">f</tspan><tspan class="sub" dy="4.6">2</tspan></text>
</g>
<g id="panel8">
<rect class="bg" x="1601.5" y="459.1" width="424.2" height="330.9"/>
<path class="grid" d="M1712.3 459.1V790M1860 459.1V790M2007.7 459.1V790M1601.5 466.3H2025.7M1601.5 559.4H2025.7M1601.5 652.5H2025.7M1601.5 745.6H2025.7"/>
<clipPath id="c7"><rect x="1601.5" y="459.1" width="424.2" height="330.9"/></clipPath>
<g class="p" clip-path="url(#c7)"><g transform="translate(1601.5 459.1) scale(.5)">
<path class="l" d="M707 224 712 220 636 357 459 306 671 340 425 305 652 417 647 222 559 368 575 243 554 369 672 199 652 391 650 277 435 389 583 309 568 357 530 230 639 400 522 302 517 350 616 340 720 341 506 365 671 240 616 301 633 299 578 253 648 319 497 380 522 412 629 259 643 378 492 316 688 347 580 325 640 422 629 421 587 303 568 270 609 242 505 406 649 298 583 405 679 226 459 282 493 398 728 294 516 313 519 337 445 302 576 411 486 224 594 278 558 381 480 400"/>
<path class="y" d="M111 392 288 535 353 431 302 396 451 392 397 420 374 540 236 493 154 337 189 396 192 360 390 468 293 444 114 447 151 335 337 406 146 437 420 360 396 359 115 444 324 514 328 362 334 507 350 424 352 339 245 478 215 456 345 462 299 560 330 453 227 393 218 394 233 481 151 370 439 445 77 354 302 478 99 578 107 432 471 463 267 459 181 364 397 447 287 465 228 517"/>
<path class="b" d="M441 246 340 139 170 169 402 178 296 278 192 129 341 110 252 173 309 272 428 76 445 236 361 153 350 153 144 182 390 184 394 296 311 125 267 280 352 255 424 248 374 177 273 229 351 266 377 187 343 161 337 210 290 109 230 252 346 180 182 141 258 154 308 131 142 150 254 171 161 216 219 172 391 239 421 75 450 127 403 71 373 149 372 197 290 105 251 151 269 229 253 259 175 260 452 245 177 238"/>
<path class="l" d="M673 256 604 193 603 373 585 298 518 321 515 244 611 228 467 354 448 434 640 303 531 222 589 386 528 358 608 353 463 362 485 218 605 349 715 376 537 404 616 345 607 403 581 332 501 238 617 280 552 408 811 384 743 300 679 352 589 342 567 339 771 394 669 275 613 379 613 214 521 264 517 214 588 385 459 386 677 326 792 277 641 391 688 207 583 363 601 390 452 290 589 208 525 369"/>
<path class="y" d="M450 379 353 374 205 361 268 432 237 347 296 490 232 449 193 359 282 531 364 350 126 452 217 464 363 377 287 563 150 493 448 439 230 418 401 480 99 430 161 471 263 342 269 429 301 485 193 496 312 413 435 475 379 452 416 390 288 470 278 374 177 364 301 479 95 389 180 492 206 454 441 382 336 347 145 514 117 439 199 397 118 403 256 431 371 631 400 505 201 533 333 328"/>
<path class="b" d="M264 165 180 125 128 194 151 165 200 220 418 271 379 191 335 194 398 267 466 152 351 137 245 296 121 197 151 246 316 223 286 155 412 142 230 135 366 81 397 140 280 182 236 176 246 249 305 118 415 113 450 232 204 201 169 159 434 232 300 154 197 218 380 199 167 157 321 232 425 237 260 249 464 193 300 240 441 134 160 150 202 135 401 208 435 135 191 257 444 250 232 275 268 206 212 260 268 276 114 229 447 166 213 236 148 214 97 234 309 177 301 138 358 272"/>
<path class="l" d="M750 374 595 405 718 290 662 356 634 207 478 315 534 407 478 274 670 233 461 375 527 293 664 213 663 278 671 322 563 198 467 266 608 348 551 392 722 237 612 281 639 399 628 233 643 318 575 288 583 336 645 331 463 260 515 382 566 227 511 276 637 204 548 314 466 374 556 291 602 413 532 234 518 398 473 243 623 192 560 365 568 235 462 360 503 345 645 234"/>
<path class="y" d="M239 423 83 402 148 480 347 350 348 466 390 475 276 331 236 325 89 370 423 425 223 364 241 398 155 428 369 355 120 450 164 470 329 559 367 366 251 335 406 441 129 426 223 396 387 504 296 378 288 320 424 436 187 322 202 469 169 505 301 510 365 406 348 537 190 364 295 447 287 324 117 453 281 512 419 388 317 529 189 420 253 459 291 288 276 339 404 457 176 491 335 423 223 451 117 429 106 398 120 394 178 408 47 437 339 316 351 490 133 401 170 500 385 383 129 402 444 433"/>
<path class="b" d="M144 217 311 179 299 285 230 150 343 295 204 142 230 146 254 170 358 235 276 236 437 71 392 204 350 206 292 204 384 152 185 228 376 341 181 201 242 270 303 270 282 92 399 216 162 244 390 118 357 186 363 344 320 301 311 293 364 244 247 182 135 267 402 145 232 127 438 232 280 65 177 78 432 180 304 139 331 309 316 142 415 265 261 61 437 158 401 182 390 181 385 188 271 209"/>
<path class="l" d="M625 201 679 242 725 351 470 370 629 257 474 256 663 220 644 341 553 305 707 372 678 379 612 418 507 387 592 385 432 311 504 280 562 382 686 211 673 375 720 366 647 406 490 269 444 384 653 425 505 404 680 291 411 310 726 305 638 179 646 201 440 316 532 347 433 343 540 241 472 335 583 411 512 221 457 304 717 237 492 232 691 253 716 260 570 234 647 262 468 266 444 258 490 336"/>
<path class="y" d="M256 384 89 467 353 336 287 458 230 408 309 426 254 460 155 490 131 442 137 340 319 387 421 446 351 365 401 438 353 415 241 445 185 374 365 532 406 509 140 450 324 422 220 404 407 368 250 344 344 383 413 473 185 399 385 411 138 514 283 458 161 479 348 469 405 497 138 433 255 398 252 488 214 349 376 507 328 321 183 498 217 417 376 432"/>
<path class="b" d="M442 134 194 179 444 203 166 197 111 111 235 80 312 196 435 134 424 203 384 243 182 245 347 246 263 130 352 54 215 153 335 322 279 137 186 111 414 219 348 336 344 248 450 190 263 210 379 169 364 287 479 136 185 279 300 106 312 267 402 265 315 294 417 161 373 204 398 258 326 301 96 221 291 223 213 119 203 156 194 171 420 167 422 256 271 173 369 250 291 290 320 207 463 154 333 54 278 240 370 176 327 278 346 161 232 220 317 175 296 122 347 271 185 186 320 200 258 209 371 266 343 160"/>
<path class="l" d="M564 363 479 409 438 303 754 307 490 393 460 245 399 330 525 286 489 421 524 297 608 413 597 375 508 381 647 365 661 265 696 418 478 265 664 318 543 317 536 404 470 352 677 349 699 293 621 356 499 271 476 288 705 306 520 294 458 313 529 405 561 305 430 219 748 298 568 265 513 332 787 322 661 296 547 350 509 416 470 283 622 403 750 291"/>
<path class="y" d="M356 357 340 487 200 398 260 487 59 402 106 398 136 456 249 378 259 376 356 534 206 377 164 464 162 503 149 425 197 387 257 510 157 491 460 393 245 439 203 434 258 492 330 439 476 435 104 438 225 340 393 405 340 374 155 509 292 531 117 481 327 339 366 436 441 471 110 459 389 391 188 408 303 523 156 532"/>
<path class="b" d="M229 123 243 145 263 253 437 132 289 157 219 246 147 163 398 233 285 141 147 156 449 150 264 113 329 310 330 33 317 229 216 173 411 203 69 195 481 55 301 261 408 179 358 225 372 233 275 87 234 160 406 144 270 135 223 215 283 56 308 35 278 288 391 160 278 98 220 298 271 182 130 166 264 172 457 42 206 90 209 64 182 178 187 221 349 139 177 250 251 269 210 219 276 220 171 267 369 237 198 194 291 82 182 204 117 209 294 75 194 229 169 72 376 258 121 182 460 200 366 147 471 60 286 260 399 133 244 93 304 164 346 248 247 247 305 274 419 186 279 102"/>
<path class="l" d="M660 199 525 211 513 318 534 418 551 334 660 336 571 283 714 196 499 254 479 280 511 410 486 260 646 301 738 280 535 412 688 315 619 227 591 360 414 279 495 382 708 398 689 385 661 217 730 275 703 362 561 426 437 271 718 299 718 278 568 351 540 321 639 329 490 329 555 382 669 272 492 228 680 354 587 406 555 182 583 354 647 392 591 223 412 280 592 283 585 230 549 383 614 401 419 360 638 320 513 406 731 331 520 407 552 451 467 257 669 392 664 234 557 242"/>
<path class="y" d="M88 413 183 360 366 394 328 457 400 440 335 345 232 435 284 443 408 452 263 338 320 522 268 335 304 407 206 362 438 349 282 496 274 369 107 360 267 366 174 437 412 338 228 383 347 425 277 324 229 388 247 370 171 485 240 326 245 370 245 481 376 514 168 433 179 381 271 514 174 391 376 374 477 450 335 354 421 364 373 466"/>
<path class="b" d="M281 147 367 267 169 261 297 157 245 172 141 200 354 147 221 283 293 167 303 112 368 180 344 165 442 130 370 188 218 216 269 133 450 148 216 92 345 253 324 145 282 106 331 109 352 309 167 208 336 242 381 146 381 197 353 283 323 257 243 238 409 153 310 184 363 252 222 127 368 195 174 273 238 251 196 198 239 190 336 241 167 150 436 160 160 150 388 174 337 206 157 180 238 249 342 58 299 248 369 109 372 267 400 177 327 113"/>
<path class="l" d="M692 230 588 187 480 260 506 326 717 309 668 277 536 284 641 216 438 325 661 310 557 273 510 275 666 316 741 352 708 258 528 338 670 325 541 487 579 261 636 276 726 360 619 330 756 241 599 282 678 332 633 292 524 244 589 210 488 250 654 268 547 273 442 333 433 301"/>
<path class="y" d="M334 414 249 449 373 419 338 328 125 388 280 343 216 354 343 450 389 352 222 380 189 498 363 506 334 358 398 376 453 454 106 443 420 494 392 459 369 414 183 486 306 389 333 305 303 341 418 430 361 408 400 447 293 475 250 417 275 481 372 466 180 326 157 449 203 421 438 448 392 355 165 462 376 490 308 365 105 406 184 344 400 498 117 456 345 429 291 366 209 469 282 382 151 497"/>
<path class="b" d="M131 94 393 245 281 251 352 171 49 199 273 96 159 180 218 91 434 245 283 97 335 212 435 266 248 164 456 95 361 290 147 186 221 234 450 261 287 211 225 208 367 210 211 250 469 203 259 237 446 186 400 237 297 183 252 222 286 228 291 159 362 241 420 47 107 99 208 222 241 259 390 191 376 160 382 287 160 201 404 266 439 250 355 250 401 131 340 192 365 296 203 198 408 236 271 74 441 191 463 222 449 236 283 191 229 282 332 227 145 261 199 112 389 187 382 223 445 235 293 269 261 248 322 237 130 224 438 265 417 151 221 168 247 173 321 266 431 243 400 260"/>
<path class="l" d="M708 205 450 257 535 305 710 274 581 257 558 315 492 380 704 382 580 297 673 396 489 412 524 386 458 359 574 305 716 292 584 419 569 357 626 314 645 405 535 293 477 282 559 415 440 401 684 398 600 329 485 371 464 263 596 304 477 399 682 294 500 385 579 216 743 324 467 374 703 422 747 277 467 225 474 342 668 358 637 215 611 312 648 290 610 270 491 394"/>
<path class="y" d="M99 411 186 413 332 348 226 481 149 404 95 412 216 481 370 427 267 461 292 485 363 469 141 329 437 407 421 417 370 352 303 495 240 411 280 392 193 445 379 403 216 415 117 411 319 401 298 511 242 463 270 425 120 432 309 317 325 392 166 504 242 328 309 357 184 362 110 486 363 481 88 459 167 420 215 335 136 454 45 366 409 473 100 500 339 399 113 417 220 337 289 384 212 364"/>
<path class="b" d="M331 121 271 294 388 195 150 159 321 124 230 267 363 211 204 108 252 293 171 150 211 111 290 156 263 162 478 149 478 151 279 248 315 193 148 276 322 265 158 241 306 269 355 207 546 74 344 290 253 248 360 150 493 182 449 116 209 133 318 254 418 215 164 202 390 218 214 233 245 163 323 130 179 158 433 241 305 134 266 150 257 278 287 230 319 162 371 175 152 172 200 210 296 124 271 283 344 306 400 137 198 114 424 210 348 131 415 179 468 210 387 200 257 173 244 105 246 170"/>
<path class="l" d="M651 276 540 379 638 212 562 241 442 366 645 347 600 336 475 396 605 442 535 386 641 271 410 277 572 303 672 408 490 349 618 267 662 387 634 329 544 314 460 386 761 336 615 178 426 254 561 367 493 232 642 312 639 235 672 280 493 269 417 320 610 301 505 319 599 424 606 380 534 345 465 360 619 299 657 222 759 295 592 254 693 276 706 238 562 406 701 375 518 207 659 402"/>
<path class="y" d="M366 496 408 433 408 465 341 319 247 417 154 371 408 420 346 455 224 403 154 472 153 506 87 421 159 330 225 402 269 468 162 397 220 388 286 445 355 449 383 333 371 398 319 353 411 437 152 409 359 469 359 427 148 499 298 518 212 453 295 528 191 399 171 455 375 444 395 414 404 386 199 500 338 409 378 444 237 537 372 364 212 383 95 382 335 395 369 415 306 363 370 489 204 454 96 391 407 465 362 400"/>
<path class="b" d="M245 110 240 174 294 170 280 152 269 250 364 37 307 154 354 286 357 207 178 134 423 270 203 178 360 207 413 210 296 188 245 195 368 222 322 111 412 193 170 138 378 155 482 84 192 231 417 178 338 297 279 244 251 226 271 190 351 286 172 160 315 77 363 264 360 272 282 157 283 152 456 126 420 160 278 228 335 259 199 272 131 193 246 159 441 119 215 112 215 214 426 245 279 232 200 266 214 162 250 217 183 271 281 163 190 220 259 218"/>
<path class="l" d="M547 342 674 253 458 370 630 311 561 416 465 340 652 213 610 248 691 305 488 342 614 265 436 381 568 227 614 306 570 409 503 280 692 277 669 329 560 353 600 363 763 344 658 279 625 243 771 362 609 409 648 299 520 282 670 397 505 333 643 217 580 201 618 246 505 303 612 245 581 258 662 308 686 410 448 408 509 412 733 300 447 361"/>
<path class="y" d="M357 364 219 407 250 463 142 405 240 414 222 375 310 415 341 497 153 351 378 421 415 446 239 385 103 475 298 401 249 531 220 380 182 526 239 411 204 365 459 419 282 424 400 358 341 368 154 506 261 475 236 354 178 502 412 444 325 471 411 466 389 353 324 357 352 507 202 374 359 402 213 384 327 357 121 400 396 454 322 383 201 529 348 468 302 431 353 487 244 448"/>
<path class="b" d="M185 154 327 263 371 139 181 123 355 287 251 131 391 152 403 230 202 221 297 204 431 47 402 240 401 126 211 141 165 142 405 194 423 237 154 159 333 148 152 214 236 169 221 282 380 151 186 151 212 224 355 204 220 158 488 199 227 148 200 113 206 208 230 119 445 211 321 322 434 233 234 131 258 89 268 230 198 268 307 262 469 160 396 89 405 189 414 117 213 261 196 201 380 202 192 114 364 297 277 226 170 134 256 220 386 117 262 137 200 166 174 233 192 201 332 119 321 229 437 128 255 238 427 202 314 296 243 244"/>
<path class="l" d="M668 283 568 344 669 244 656 290 751 334 559 190 614 364 430 310 480 397 505 219 458 258 476 367 588 436 489 410 703 293 640 354 555 228 607 285 728 280 729 338 456 247 742 250 634 308 528 321 575 217 630 325 486 226 486 235 698 328 661 384 602 353 767 282 460 302 647 221 703 328 696 355 613 237 628 278 623 382 514 362 564 199 694 379 615 416 529 341 644 333 427 255 443 346"/>
<path class="y" d="M269 472 269 494 272 396 192 380 318 469 348 378 250 476 367 527 37 360 375 389 303 397 446 411 126 459 260 390 154 478 254 391 115 481 136 435 184 390 245 527 237 378 434 425 155 413 263 431 220 513 242 512 384 463 294 372 363 429 104 399 109 335 179 398 132 466 394 486 246 509 202 490 108 454 206 365 361 442 447 407"/>
<path class="b" d="M295 276 517 106 198 119 261 235 150 174 346 273 435 149 435 150 312 238 134 182 464 197 175 186 436 148 438 172 433 119 204 217 319 211 200 114 237 250 203 251 228 158 167 238 475 199 239 125 110 188 356 183 209 220 226 221 161 172 279 47 258 286 261 101 221 311 501 138 297 51 285 158 152 192 406 36 458 107 517 186 87 187 224 275 276 147 373 50 246 228 260 195 133 194 246 261 133 219 428 285 385 102 158 173 213 52 282 159 310 257 285 217 366 153 273 211 65 215 368 298 406 239 335 118 351 174"/>
<path class="l" d="M462 243 679 368 590 321 612 320 650 237 672 297 471 308 540 247 508 402 737 275 713 332 665 335 432 283 791 374 608 323 639 309 573 417 677 323 414 321 567 393 615 265 737 255 593 285 665 337 624 405 672 253 659 306 580 288 584 385 486 411 624 294 730 245 609 239 485 400 576 279 609 384 558 380 481 234 600 382 520 203 572 300 487 381 485 412 483 306 499 340 741 295 465 290 471 281 687 297 586 281 469 277 524 323 550 249 549 412 729 276"/>
<path class="y" d="M332 388 316 515 319 480 232 443 236 349 321 381 299 354 258 477 379 470 138 487 283 422 229 456 230 339 304 377 334 375 424 333 364 470 290 411 323 430 233 455 181 487 232 320 206 492 192 415 130 468 339 482 268 413 109 462 341 421 328 435 406 434 329 485 312 423 319 435 195 379 304 453 225 385 230 411 273 535 293 456 137 463"/>
<path class="b" d="M492 192 225 245 285 193 315 286 363 314 334 174 330 135 287 278 281 178 282 177 441 208 254 219 353 204 331 280 150 172 209 140 250 281 280 242 323 192 432 145 299 221 367 253 187 232 383 251 150 265 191 55 452 229 389 246 246 186 158 160 412 185 333 205 261 198 388 169 221 189 333 130 373 228 268 217 223 225 489 120 242 210 371 260 451 125 393 273 336 169 307 288 320 171 228 205 185 153 201 113 436 130 222 102 343 68 199 182"/>
<path class="l" d="M691 377 677 308 692 362 578 196 538 258 532 404 648 414 615 391 654 306 688 214 534 369 661 220 726 262 661 286 613 342 399 331 451 281 559 210 482 380 551 250 599 347 694 335 516 254 410 314 533 396 538 318 681 217 669 241 541 217 496 362 767 290 407 341 537 343 446 339 639 285 718 330 450 269 612 268 660 308 725 296 438 280 637 285 637 404 685 210 549 301 642 282 533 376 607 398 570 220 603 245 646 253 661 443 695 360"/>
<path class="y" d="M438 436 185 330 331 428 346 451 213 373 155 486 239 347 108 403 446 445 79 444 240 325 156 432 222 395 420 447 219 393 397 362 157 524 256 391 383 486 87 454 412 472 258 439 282 519 369 321 311 407 364 429 394 436 414 452 323 519 383 335 361 540 266 312 311 483 301 407 230 378 163 490 371 494 355 432 284 412 367 517 336 496 292 329 104 436 158 360 361 355 288 478 117 409 288 379 366 494 410 456"/>
<path class="b" d="M347 207 212 252 371 277 296 264 391 233 236 175 177 223 262 207 238 167 202 303 390 305 257 252 349 174 361 217 434 150 458 98 336 315 347 71 144 239 416 176 192 210 513 179 123 103 318 235 188 232 143 212 439 87 287 121 414 254 453 234 337 172 490 43 264 116 395 140 345 184 295 252 247 121 257 100 373 122 317 284 344 109 430 160 294 278 261 137 341 264 259 235 292 211"/>
<path class="l" d="M652 221 595 271 673 261 497 236 547 410 435 308 560 359 660 177 629 233 742 284 662 327 673 265 457 344 477 260 433 291 615 327 664 252 544 333 733 225 750 358 557 378 418 301 612 452 511 409 454 281 516 340 727 314 573 203 469 380 671 335 640 249 520 310 686 382 583 332 580 320 625 279 434 314 505 312 566 253 597 257 478 356 548 332 635 440 454 269 497 285 542 415 403 324 499 381"/>
<path class="y" d="M155 436 137 440 158 513 307 389 323 440 263 470 150 435 341 503 321 404 290 362 398 415 417 458 360 409 343 473 239 402 126 375 419 448 267 366 377 504 314 436 265 377 83 405 295 400 283 381 128 502 280 452 392 433 363 437 213 525 333 400 341 453 293 499 301 444 160 489 236 414 201 467 187 481 385 423 185 371 277 503 454 450 322 369"/>
<path class="b" d="M237 236 392 225 463 214 163 220 421 116 284 197 370 241 289 183 411 216 390 159 284 248 396 284 281 283 393 250 447 122 391 118 110 176 255 94 180 160 171 205 258 127 327 342 362 127 516 73 281 105 397 205 400 297 340 235 483 70 424 215 404 216 298 198 339 44 494 175 376 299 362 150 414 169 224 167 365 313 247 227 214 154 328 163 356 120 305 244 278 104 362 307 353 190 229 170 252 293 341 335 291 217 321 101 260 214 250 177 452 204 240 190 296 202 314 89 294 248 343 194"/>
<path class="l" d="M574 407 744 296 637 302 593 205 636 253 431 294 451 278 717 276 447 308 445 265 507 232 600 343 495 434 412 263 600 276 642 256 605 276 710 242 519 374 644 378 751 322 437 339 452 349 674 268 680 365 476 230 591 337 673 281 520 294 462 295 661 344 663 392 617 314 598 267 708 405 455 332 624 294 634 355 703 354 731 364 601 445 399 318 635 396 626 392 476 263 693 253 632 404 481 222 699 388"/>
<path class="y" d="M276 364 199 522 419 409 351 445 230 378 418 427 303 396 135 488 342 428 422 387 394 431 410 490 320 488 180 440 305 381 192 466 204 406 315 476 414 387 318 380 281 510 263 515 350 483 351 512 213 530 253 405 271 443 109 444 195 379 123 405 232 326 261 473 219 471 110 397 148 359 402 453 206 434 374 327 349 469"/>
<path class="b" d="M295 264 186 166 333 212 304 276 466 157 408 295 466 130 311 206 170 139 264 98 399 245 297 187 229 201 340 215 390 180 212 110 304 241 245 230 172 151 189 76 247 300 477 161 402 134 313 271 152 78 292 271 328 135 432 154 430 284 225 132 369 278 506 149 317 108 276 110 215 292 213 264 516 86 295 274 461 188 301 209 386 137 415 125 300 202 252 242 140 225 280 281 222 241 287 198 374 175 464 163 53 201 430 150 321 123 203 155 442 191 306 264 387 157 380 191 428 142 282 219 182 115 300 191"/>
<path class="l" d="M631 338 579 373 600 350 566 316 677 360 589 233 696 356 489 368 450 324 414 358 653 402 479 281 649 213 634 370 645 331 433 370 701 250 603 250 513 322 554 297 583 262 622 347 672 400 462 277 699 283 510 349 665 239 592 390 705 382 493 367 417 370 567 447 669 351 696 256 693 253 450 246 696 366 537 417 639 377 508 368 714 383 492 390 678 229 583 357 469 389 661 313 712 328 741 290 731 306 622 243 586 314 514 388"/>
<path class="y" d="M343 448 169 405 147 393 282 540 342 374 423 367 315 363 427 403 142 364 337 436 166 402 413 360 262 495 399 510 331 429 192 464 217 411 115 418 306 360 278 386 147 366 358 340 260 474 156 412 262 434 132 383 247 412 83 447 320 341 251 406 230 349 346 511 376 511 296 401 452 499 239 433 360 426 399 330 319 459 376 412 187 479 380 414 164 356 263 473 294 355"/>
<path class="b" d="M394 175 361 216 269 282 456 51 328 221 422 208 307 250 231 181 430 204 404 196 500 96 452 155 149 145 212 221 338 221 314 136 467 178 257 70 505 131 379 221 338 191 363 191 126 199 309 258 387 296 360 263 267 294 212 107 426 266 275 249 141 170 216 177 304 96 204 111 323 201 247 144 270 244 393 132 233 118 241 88 311 174 343 142 210 167 415 260 377 136 208 159 348 201 383 298 366 103 431 163 149 211 254 157 374 241"/>
<path class="l" d="M644 274 703 374 626 352 539 315 641 253 442 300 549 330 568 344 662 214 509 412 531 244 512 302 506 257 729 312 519 300 663 253 484 413 652 263 727 399 533 394 485 304 573 287 689 332 448 343 724 370 402 358 692 240 766 254 480 225 463 238 514 312 655 251 589 294 603 224 505 232 606 420 477 238 677 222 471 284 488 203 496 403 619 228 606 225 722 366 497 292 601 283 460 254 682 328 529 349 562 265 540 421 436 340 484 289 562 261 569 401"/>
<path class="y" d="M395 437 201 410 126 368 357 349 228 344 242 355 435 357 251 374 160 478 303 450 214 482 401 454 313 423 236 454 375 403 326 453 200 380 136 455 160 388 212 491 211 437 394 501 120 403 421 390 394 433 271 401 375 382 248 350 449 392 236 352 405 474 443 436 438 361 151 485 356 533 332 479 247 468 141 481 386 359 258 504 410 399 219 432 321 369 294 390 309 289 348 490 163 394"/>
<path class="b" d="M359 215 336 246 235 155 365 153 381 197 218 153 177 232 254 233 276 218 134 113 103 197 246 290 324 190 455 229 281 214 441 141 145 153 356 115 481 162 230 102 407 153 421 214 468 201 253 213 405 214 201 147 446 216 265 156 291 206 267 266 449 179 399 166 298 230 273 160 51 190 394 154 359 264 265 273 360 310 291 229 191 66 302 224 434 167 232 130 221 180 180 201 162 134 280 287"/>
<path class="l" d="M458 374 632 280 562 194 469 320 568 330 452 318 510 308 431 308 607 263 509 230 683 387 719 240 713 294 526 245 636 388 486 244 685 229 586 205 663 202 457 271 447 250 635 298 534 376 357 315 589 410 569 362 563 365 605 207 590 188 429 358 434 343 605 270 653 360 691 375 564 303 607 197 723 246 572 433 487 238 512 406 541 334 614 204 627 288 744 374 652 337 702 269 440 280 588 362 640 209 604 252 596 354 659 329 559 366 458 424 477 382 483 239 574 304 531 219"/>
<path class="y" d="M311 489 199 489 255 349 131 418 262 543 371 461 329 496 303 472 220 340 425 483 264 494 202 478 170 494 366 411 213 438 266 426 307 345 238 330 381 448 217 330 358 486 311 462 323 323 417 369 123 395 324 503 208 415 204 359 215 474 146 410 186 450 408 453 192 330"/>
<path class="b" d="M257 251 157 184 363 275 300 209 399 217 357 145 422 115 294 218 367 198 188 165 397 201 418 112 305 226 459 182 366 304 382 138 421 130 189 197 370 298 378 53 202 105 317 131 399 240 173 211 445 39 167 263 248 149 438 117 139 227 376 66 407 280 179 70 293 284 219 261 236 172 329 201 398 271 488 149 327 273 334 131 382 175 379 312 232 132 426 169 426 301 208 118 395 105 478 185 447 125 338 248 309 157 339 264 157 214 356 268 209 129 493 128 160 199 234 160 311 144"/>
<path class="l" d="M586 331 584 386 751 307 492 399 692 368 713 426 522 365 575 328 504 330 590 385 623 344 607 402 616 211 522 413 529 252 607 416 514 344 677 220 724 346 642 250 659 368 430 332 651 336 495 289 502 224 563 277 673 249 620 393 603 272 458 275 434 284 629 372 631 305 555 239 616 432 719 314 631 306 627 282 594 379 754 330"/>
<path class="y" d="M280 471 185 331 405 417 139 486 261 365 270 365 447 418 274 474 276 393 283 539 305 356 242 506 153 388 418 416 309 487 124 484 246 509 266 378 106 491 226 484 336 461 195 346 207 445 380 411 280 340 330 460 258 456 343 463 249 413 142 352 121 431 332 472 305 418 428 437 195 445 318 397 135 283 281 402 265 329 345 368 263 448 118 432 161 352 288 532 397 381 387 469 378 520 294 382 243 438 264 415 321 348 406 451"/>
<path class="b" d="M347 91 251 300 252 211 254 231 328 122 312 244 271 109 416 185 382 337 142 182 307 142 321 64 269 163 229 272 290 143 326 309 384 127 358 328 267 137 366 36 402 123 276 282 288 137 162 285 329 238 319 268 319 143 222 193 362 251 324 134 203 55 412 236 429 176 384 204 312 179 249 205 134 197 229 163 266 271 146 237 393 285 335 189 264 161 333 114 378 296 351 191 455 188 463 210 258 154 286 234 151 72 171 240 305 210 292 229 170 205 281 256 370 254 424 117"/>
<path class="l" d="M608 247 563 236 472 400 703 265 655 421 522 374 487 396 621 229 585 276 602 334 572 399 693 370 612 405 480 353 735 330 439 261 591 207 528 374 555 256 552 285 622 396 546 433 413 320 709 333 445 347 708 319 546 342 692 362 400 289 715 273 615 196 492 365 715 294 568 286 712 251 557 266 688 306 620 283 463 264 559 311 529 255 556 273"/>
<path class="y" d="M109 460 245 427 256 490 392 345 368 355 154 403 312 380 100 388 239 433 299 501 159 388 256 361 121 496 332 328 253 322 465 441 243 531 220 497 167 354 276 470 213 345 258 343 253 423 413 433 321 458 374 494 441 423 370 471 405 526 306 343 427 377 156 434 353 362 367 363 327 502 156 350 174 512 156 485 437 430 275 419 451 438 340 389 318 512 185 410"/>
<path class="b" d="M446 131 369 198 261 100 335 169 174 161 358 159 392 129 340 173 332 252 151 146 372 133 234 179 253 79 171 121 142 216 345 223 400 235 326 291 203 149 437 102 276 112 419 110 364 183 430 178 323 221 228 260 380 166 253 112 331 271 278 261 459 232 225 221 249 131 360 137 197 185 301 249 254 176 304 125 169 213 372 185 241 181 235 290 339 126 403 256 203 140 452 256 306 168 259 38 407 119 271 172 269 258 281 115 398 182 383 153 104 193 192 237 166 216 222 162 266 291 366 307 426 271 388 112 440 233 274 253"/>
<path class="l" d="M637 197 672 287 500 392 713 295 664 396 659 322 427 321 526 351 568 216 640 401 747 332 611 374 654 219 655 307 699 278 522 412 750 295 662 390 683 369 602 378 471 335 617 322 740 307 486 242 439 378 589 260 682 251 687 393 662 416 468 241 536 341 576 341 564 270 547 323 517 222 583 207 592 272 627 256 538 429 440 289 440 311 467 347"/>
<path class="y" d="M399 429 202 377 137 490 220 500 444 471 317 341 274 410 220 422 269 392 252 508 142 350 218 504 350 363 434 479 279 415 251 443 190 409 211 329 317 360 350 310 149 477 101 498 408 364 242 363 464 459 216 317 238 531 278 454 159 420 217 490 96 424 372 436 430 440 247 517 457 432 226 387 219 543 240 516 359 421 324 411 292 327 257 357 347 346 262 336 206 395 297 359 348 385 254 517 351 383 346 329 165 436 172 512 241 393"/>
<path class="b" d="M378 268 205 166 315 138 72 190 244 163 240 175 468 165 268 175 283 219 351 222 256 100 187 108 254 229 220 200 326 118 98 192 193 118 352 35 289 186 175 197 196 193 461 209 368 164 343 127 413 270 461 218 187 202 473 212 445 224 200 127 370 37 337 212 443 199 330 118 304 190 367 128 425 182 281 271 220 128 410 202 284 194 194 186 394 195 350 210 229 214 306 207 390 299 357 298 404 119 238 97 119 149 423 125 207 297 286 174 310 299"/>
<path class="l" d="M557 387 520 269 496 243 708 337 653 238 438 276 670 242 610 221 537 219 531 313 652 210 618 274 696 222 575 247 573 466 694 244 720 381 505 322 557 229 590 207 504 260 693 317 586 340 582 249 638 410 573 230 722 336 716 229 590 197 666 295 570 314 678 289 561 324 703 366 593 279 500 375 662 242 732 372 739 345 488 317 544 327 568 325 720 260 565 261 519 453 491 359 483 371 469 368 472 354 550 423 632 399 415 268 603 384 733 361 733 335 588 326"/>
<path class="y" d="M326 400 438 396 206 363 176 505 457 470 168 435 266 444 415 339 269 474 335 417 360 453 367 419 198 444 446 429 365 377 206 459 85 424 182 482 426 342 160 511 186 465 449 423 189 510 229 442 409 369 213 359 360 472 192 447 229 506 276 412 410 319 202 398 321 504 154 333 167 418 306 486 293 466 419 486 106 410 306 406 456 464 397 356 420 502 362 416 232 352"/>
<path class="b" d="M255 244 341 221 423 48 296 268 288 299 315 48 458 178 223 58 237 208 347 199 333 308 279 169 158 194 161 197 175 228 389 157 395 239 243 228 371 161 330 101 276 196 316 234 167 238 345 218 223 178 341 74 410 193 237 117 146 162 378 267 404 282 356 193 305 204 148 142 223 182 208 231 437 219 359 31 366 290 142 197 431 261 167 83 230 236 373 152 422 257 284 172 302 178 399 227 417 134"/>
<path class="l" d="M538 282 443 286 478 370 775 342 585 228 509 227 585 258 639 372 624 372 600 215 602 368 445 300 549 266 664 296 649 292 637 433 629 439 443 323 572 216 554 248 700 321 743 267 497 290 516 401 511 260 532 257 628 380 422 313 582 197 681 368 708 348 572 364 573 404 475 238 591 325 536 307 582 344 520 207 644 226 653 392 491 402 591 363 660 210 750 343 602 294 594 366 547 263 692 354 677 206 732 278"/>
<path class="y" d="M267 445 256 300 427 380 103 326 433 492 262 473 395 395 359 341 205 376 169 460 160 465 360 525 405 465 262 450 268 455 205 377 444 401 125 409 372 466 304 349 244 415 201 498 403 489 232 321 427 449 221 492 339 474 212 434 416 392 217 580 137 487 388 443 248 509 185 332 136 425 415 424 148 457 339 470 188 489 364 525 208 464 371 448 140 479 204 522 236 419"/>
<path class="b" d="M410 253 474 212 342 212 166 175 252 172 405 213 162 194 234 126 414 256 360 67 316 107 369 171 386 186 406 220 443 208 321 144 182 115 345 249 256 133 318 242 326 84 392 236 153 180 324 209 327 310 203 220 240 118 384 293 178 214 531 66 387 189 353 119 173 121 328 146 454 188 288 176 331 100 169 206 266 105 359 228 298 252 331 217 347 320 159 135 448 93 264 295 276 170 216 212 144 176 175 123 209 218 354 130 214 209 442 172 327 306"/>
<path class="l" d="M571 268 532 210 650 364 729 262 665 405 404 290 556 191 643 347 437 365 531 307 701 253 620 245 511 395 701 355 436 361 667 264 435 360 703 316 419 255 674 379 475 366 563 327 694 287 458 288 742 398 476 365 558 354 451 347 410 328 480 333 668 413 556 367 579 309 566 330 662 278 562 426 778 282 565 385 724 344 573 389 711 358 505 352 690 212 670 396"/>
<path class="y" d="M119 451 367 456 215 444 354 440 290 350 167 352 131 498 454 400 374 528 268 357 328 395 398 437 326 394 218 336 282 418 183 365 351 372 194 443 225 485 196 478 287 369 184 486 228 393 445 415 237 422 215 479 439 479 427 375 185 582 135 468 248 420 212 379 373 494 116 399 278 391 202 430 257 450 315 432 152 405 409 346 256 458 376 397 320 508 244 393 217 496 204 431 332 377"/>
<path class="b" d="M182 236 101 134 277 221 401 260 450 133 265 169 405 121 389 339 232 181 420 105 219 115 381 146 311 274 409 275 248 152 427 196 251 146 350 150 347 113 236 102 261 102 199 103 274 229 428 149 338 300 200 186 347 170 416 238 374 272 215 150 372 204 429 192 259 130 346 257 268 154 281 30 377 164 399 354 210 218 492 100 396 209 360 61 364 281 159 144 177 182 470 195 349 241"/>
</g></g>
<rect class="leg" x="1917.1" y="470.8" width="97" height="106.2" rx="3.5"/>
<circle class="lm" cx="1949.4" cy="490.8" r="4.45" fill="#93380c"/>
<text class="lt" transform="translate(1991.4 496.7) scale(1 .96)">1</text>
<circle class="lm" cx="1949.4" cy="523.9" r="4.45" fill="#fdb70f"/>
<text class="lt" transform="translate(1991.4 529.8) scale(1 .96)">2</text>
<circle class="lm" cx="1949.4" cy="557" r="4.45" fill="#fafad0"/>
<text class="lt" transform="translate(1991.4 562.9) scale(1 .96)">3</text>
<g class="tick" text-anchor="middle">
<text transform="translate(1712.6 813.5) scale(1 1.085)">0</text>
<text transform="translate(1860.3 813.5) scale(1 1.085)">1</text>
<text transform="translate(2008 813.5) scale(1 1.085)">2</text>
</g>
<g class="tick" text-anchor="end">
<text transform="translate(1597.6 476.3) scale(1 1.085)">2</text>
<text transform="translate(1597.6 569.4) scale(1 1.085)">1</text>
<text transform="translate(1597.6 662.5) scale(1 1.085)">0</text>
<text transform="translate(1597.6 755.6) scale(1 1.085)">−1</text>
</g>
<text class="lab" text-anchor="middle" x="1814.1" y="840.3"><tspan class="it">f</tspan><tspan class="sub" dy="4.6">1</tspan></text>
<text class="lab" text-anchor="middle" transform="translate(1560.1 623.6) rotate(-90)"><tspan class="it">f</tspan><tspan class="sub" dy="4.6">2</tspan></text>
</g>
</svg></body></html>
